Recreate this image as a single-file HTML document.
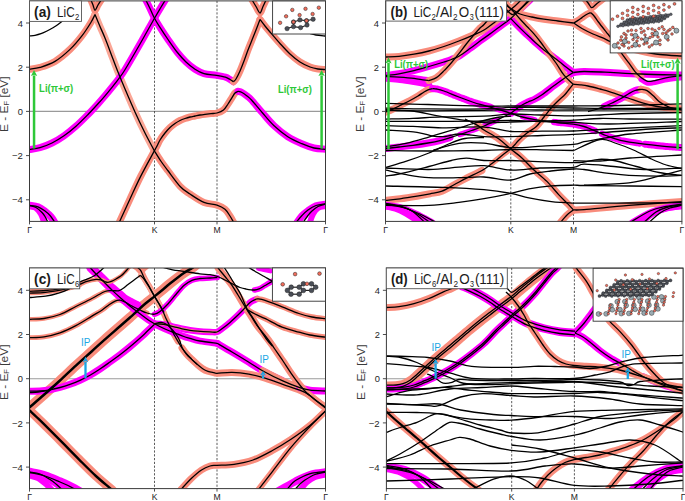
<!DOCTYPE html>
<html><head><meta charset="utf-8"><style>
html,body{margin:0;padding:0;background:#fff;}
svg{display:block;font-family:"Liberation Sans", sans-serif;}
</style></head><body>
<svg width="685" height="501" viewBox="0 0 685 501">
<rect width="685" height="501" fill="#fff"/>
<clipPath id="clipa"><rect x="29.50" y="0.90" width="296.00" height="220.50"/></clipPath>
<clipPath id="clipb"><rect x="385.50" y="0.90" width="296.40" height="220.50"/></clipPath>
<clipPath id="clipc"><rect x="29.50" y="268.00" width="296.00" height="220.60"/></clipPath>
<clipPath id="clipd"><rect x="386.40" y="268.00" width="296.60" height="220.60"/></clipPath>
<line x1="29.50" y1="111.40" x2="325.50" y2="111.40" stroke="#9a9a9a" stroke-width="1.1"/>
<line x1="154.50" y1="0.90" x2="154.50" y2="221.40" stroke="#333" stroke-width="0.8" stroke-dasharray="2.2,1.6"/>
<line x1="217.00" y1="0.90" x2="217.00" y2="221.40" stroke="#333" stroke-width="0.8" stroke-dasharray="2.2,1.6"/>
<g clip-path="url(#clipa)">
<path d="M27.50,69.54 C27.83,69.49 27.42,69.56 29.50,69.20 C31.58,68.84 35.75,68.70 40.00,67.40 C44.25,66.10 50.00,64.40 55.00,61.40 C60.00,58.40 65.52,53.65 70.00,49.40 C74.48,45.15 78.42,40.38 81.90,35.90 C85.38,31.42 88.72,26.07 90.90,22.50 C93.08,18.93 94.32,15.83 95.00,14.50" fill="none" stroke="#f98c7c" stroke-width="7.00" stroke-linecap="round" stroke-linejoin="round"/>
<path d="M95.00,14.50 C95.83,16.50 98.27,22.42 100.00,26.50 C101.73,30.58 103.23,33.58 105.40,39.00 C107.57,44.42 110.57,52.67 113.00,59.00 C115.43,65.33 116.33,68.17 120.00,77.00 C123.67,85.83 130.83,102.67 135.00,112.00 C139.17,121.33 141.75,126.50 145.00,133.00 C148.25,139.50 152.92,148.00 154.50,151.00" fill="none" stroke="#fba696" stroke-width="7.00" stroke-linecap="round" stroke-linejoin="round"/>
<path d="M154.50,151.00 C155.55,152.67 158.58,157.75 160.80,161.00 C163.02,164.25 164.53,166.22 167.80,170.50 C171.07,174.78 176.70,182.78 180.40,186.70 C184.10,190.62 186.07,191.38 190.00,194.00 C193.93,196.62 199.50,200.55 204.00,202.40 C208.50,204.25 213.50,203.95 217.00,205.10 C220.50,206.25 222.83,207.48 225.00,209.30 C227.17,211.12 228.50,213.72 230.00,216.00 C231.50,218.28 233.33,221.83 234.00,223.00" fill="none" stroke="#f98c7c" stroke-width="7.00" stroke-linecap="round" stroke-linejoin="round"/>
<path d="M119.40,222.00 C121.17,218.17 126.42,206.68 130.00,199.00 C133.58,191.32 136.82,183.97 140.90,175.90 C144.98,167.83 151.82,155.58 154.50,150.60 C157.18,145.62 156.08,147.77 157.00,146.00 C157.92,144.23 158.67,142.17 160.00,140.00 C161.33,137.83 163.33,135.08 165.00,133.00 C166.67,130.92 168.33,129.08 170.00,127.50 C171.67,125.92 173.33,124.67 175.00,123.50 C176.67,122.33 178.33,121.33 180.00,120.50 C181.67,119.67 183.33,119.08 185.00,118.50 C186.67,117.92 188.33,117.42 190.00,117.00 C191.67,116.58 193.33,116.33 195.00,116.00 C196.67,115.67 198.33,115.28 200.00,115.00 C201.67,114.72 203.17,114.53 205.00,114.30 C206.83,114.07 209.00,113.82 211.00,113.60 C213.00,113.38 214.92,113.60 217.00,113.00 C219.08,112.40 221.67,111.50 223.50,110.00 C225.33,108.50 226.58,106.07 228.00,104.00 C229.42,101.93 230.83,99.43 232.00,97.60 C233.17,95.77 234.00,94.05 235.00,93.00 C236.00,91.95 237.50,91.58 238.00,91.30" fill="none" stroke="#f98c7c" stroke-width="7.00" stroke-linecap="round" stroke-linejoin="round"/>
<path d="M238.00,91.30 C238.67,91.50 240.50,91.72 242.00,92.50 C243.50,93.28 245.42,94.75 247.00,96.00 C248.58,97.25 248.90,97.17 251.50,100.00 C254.10,102.83 258.88,108.75 262.60,113.00 C266.32,117.25 269.60,121.55 273.80,125.50 C278.00,129.45 283.13,133.67 287.80,136.70 C292.47,139.73 297.43,141.82 301.80,143.70 C306.17,145.58 310.05,147.07 314.00,148.00 C317.95,148.93 323.25,149.05 325.50,149.30 C327.75,149.55 327.17,149.49 327.50,149.53" fill="none" stroke="#ff00ff" stroke-width="7.00" stroke-linecap="round" stroke-linejoin="round"/>
<path d="M27.50,149.84 C27.83,149.79 27.42,149.86 29.50,149.50 C31.58,149.14 36.25,148.78 40.00,147.70 C43.75,146.62 48.00,144.98 52.00,143.00 C56.00,141.02 60.00,138.60 64.00,135.80 C68.00,133.00 72.00,129.75 76.00,126.20 C80.00,122.65 84.33,118.23 88.00,114.50 C91.67,110.77 95.17,106.92 98.00,103.80 C100.83,100.68 102.67,98.55 105.00,95.80 C107.33,93.05 109.67,90.22 112.00,87.30 C114.33,84.38 116.87,81.18 119.00,78.30 C121.13,75.42 121.30,75.72 124.80,70.00 C128.30,64.28 135.05,52.63 140.00,44.00 C144.95,35.37 151.08,24.20 154.50,18.20 C157.92,12.20 158.58,11.20 160.50,8.00 C162.42,4.80 165.08,0.50 166.00,-1.00" fill="none" stroke="#ff00ff" stroke-width="7.00" stroke-linecap="round" stroke-linejoin="round"/>
<path d="M145.30,-1.00 C146.08,0.58 148.47,5.30 150.00,8.50 C151.53,11.70 152.70,14.83 154.50,18.20 C156.30,21.57 158.55,25.15 160.80,28.70 C163.05,32.25 165.30,35.62 168.00,39.50 C170.70,43.38 174.00,48.25 177.00,52.00 C180.00,55.75 183.00,59.13 186.00,62.00 C189.00,64.87 192.00,67.27 195.00,69.20 C198.00,71.13 200.42,72.57 204.00,73.60 C207.58,74.63 212.93,74.80 216.50,75.40 C220.07,76.00 223.15,76.52 225.40,77.20 C227.65,77.88 228.65,78.75 230.00,79.50 C231.35,80.25 232.92,81.33 233.50,81.70" fill="none" stroke="#ff00ff" stroke-width="7.00" stroke-linecap="round" stroke-linejoin="round"/>
<path d="M233.50,81.70 C233.92,81.25 234.92,80.78 236.00,79.00 C237.08,77.22 238.67,74.00 240.00,71.00 C241.33,68.00 242.67,64.50 244.00,61.00 C245.33,57.50 246.67,53.50 248.00,50.00 C249.33,46.50 250.67,43.33 252.00,40.00 C253.33,36.67 254.67,33.42 256.00,30.00 C257.33,26.58 259.33,21.25 260.00,19.50" fill="none" stroke="#f98c7c" stroke-width="7.00" stroke-linecap="round" stroke-linejoin="round"/>
<path d="M260.00,19.50 C260.83,20.58 263.33,23.92 265.00,26.00 C266.67,28.08 267.50,29.08 270.00,32.00 C272.50,34.92 276.67,39.83 280.00,43.50 C283.33,47.17 286.67,50.92 290.00,54.00 C293.33,57.08 296.67,59.83 300.00,62.00 C303.33,64.17 307.00,65.83 310.00,67.00 C313.00,68.17 315.42,68.57 318.00,69.00 C320.58,69.43 323.92,69.47 325.50,69.60 C327.08,69.73 327.17,69.73 327.50,69.76" fill="none" stroke="#f98c7c" stroke-width="7.00" stroke-linecap="round" stroke-linejoin="round"/>
<path d="M90.50,-1.00 C90.92,0.00 92.25,3.10 93.00,5.00 C93.75,6.90 94.17,10.40 95.00,10.40 C95.83,10.40 96.87,6.90 98.00,5.00 C99.13,3.10 101.17,0.00 101.80,-1.00" fill="none" stroke="#f98c7c" stroke-width="7.00" stroke-linecap="round" stroke-linejoin="round"/>
<path d="M251.50,-1.00 C252.25,0.25 254.58,4.17 256.00,6.50 C257.42,8.83 258.83,13.00 260.00,13.00 C261.17,13.00 261.92,8.83 263.00,6.50 C264.08,4.17 265.92,0.25 266.50,-1.00" fill="none" stroke="#f98c7c" stroke-width="7.00" stroke-linecap="round" stroke-linejoin="round"/>
<path d="M27.50,205.15 C27.83,205.21 27.75,205.19 29.50,205.50 C31.25,205.81 35.42,206.00 38.00,207.00 C40.58,208.00 42.83,209.83 45.00,211.50 C47.17,213.17 49.33,215.08 51.00,217.00 C52.67,218.92 54.33,222.00 55.00,223.00" fill="none" stroke="#ff00ff" stroke-width="7.50" stroke-linecap="round" stroke-linejoin="round"/>
<path d="M27.50,205.38 C27.83,205.49 28.08,205.56 29.50,206.00 C30.92,206.44 34.08,206.67 36.00,208.00 C37.92,209.33 39.67,211.67 41.00,214.00 C42.33,216.33 43.50,220.67 44.00,222.00" fill="none" stroke="#ff00ff" stroke-width="6.00" stroke-linecap="round" stroke-linejoin="round"/>
<path d="M327.50,204.18 C327.17,204.24 327.42,204.20 325.50,204.50 C323.58,204.80 318.92,204.92 316.00,206.00 C313.08,207.08 310.33,209.33 308.00,211.00 C305.67,212.67 303.83,214.00 302.00,216.00 C300.17,218.00 297.83,221.83 297.00,223.00" fill="none" stroke="#ff00ff" stroke-width="7.50" stroke-linecap="round" stroke-linejoin="round"/>
<path d="M327.50,205.47 C327.17,205.56 327.08,205.58 325.50,206.00 C323.92,206.42 320.08,206.67 318.00,208.00 C315.92,209.33 314.33,211.67 313.00,214.00 C311.67,216.33 310.50,220.67 310.00,222.00" fill="none" stroke="#ff00ff" stroke-width="6.00" stroke-linecap="round" stroke-linejoin="round"/>
<path d="M27.50,69.54 C27.83,69.49 27.42,69.56 29.50,69.20 C31.58,68.84 35.75,68.70 40.00,67.40 C44.25,66.10 50.00,64.40 55.00,61.40 C60.00,58.40 65.52,53.65 70.00,49.40 C74.48,45.15 78.42,40.38 81.90,35.90 C85.38,31.42 88.72,26.07 90.90,22.50 C93.08,18.93 94.32,15.83 95.00,14.50" fill="none" stroke="#000" stroke-width="1.3" stroke-linejoin="round"/>
<path d="M95.00,14.50 C95.83,16.50 98.27,22.42 100.00,26.50 C101.73,30.58 103.23,33.58 105.40,39.00 C107.57,44.42 110.57,52.67 113.00,59.00 C115.43,65.33 116.33,68.17 120.00,77.00 C123.67,85.83 130.83,102.67 135.00,112.00 C139.17,121.33 141.75,126.50 145.00,133.00 C148.25,139.50 152.92,148.00 154.50,151.00" fill="none" stroke="#000" stroke-width="1.3" stroke-linejoin="round"/>
<path d="M154.50,151.00 C155.55,152.67 158.58,157.75 160.80,161.00 C163.02,164.25 164.53,166.22 167.80,170.50 C171.07,174.78 176.70,182.78 180.40,186.70 C184.10,190.62 186.07,191.38 190.00,194.00 C193.93,196.62 199.50,200.55 204.00,202.40 C208.50,204.25 213.50,203.95 217.00,205.10 C220.50,206.25 222.83,207.48 225.00,209.30 C227.17,211.12 228.50,213.72 230.00,216.00 C231.50,218.28 233.33,221.83 234.00,223.00" fill="none" stroke="#000" stroke-width="1.3" stroke-linejoin="round"/>
<path d="M119.40,222.00 C121.17,218.17 126.42,206.68 130.00,199.00 C133.58,191.32 136.82,183.97 140.90,175.90 C144.98,167.83 151.82,155.58 154.50,150.60 C157.18,145.62 156.08,147.77 157.00,146.00 C157.92,144.23 158.67,142.17 160.00,140.00 C161.33,137.83 163.33,135.08 165.00,133.00 C166.67,130.92 168.33,129.08 170.00,127.50 C171.67,125.92 173.33,124.67 175.00,123.50 C176.67,122.33 178.33,121.33 180.00,120.50 C181.67,119.67 183.33,119.08 185.00,118.50 C186.67,117.92 188.33,117.42 190.00,117.00 C191.67,116.58 193.33,116.33 195.00,116.00 C196.67,115.67 198.33,115.28 200.00,115.00 C201.67,114.72 203.17,114.53 205.00,114.30 C206.83,114.07 209.00,113.82 211.00,113.60 C213.00,113.38 214.92,113.60 217.00,113.00 C219.08,112.40 221.67,111.50 223.50,110.00 C225.33,108.50 226.58,106.07 228.00,104.00 C229.42,101.93 230.83,99.43 232.00,97.60 C233.17,95.77 234.00,94.05 235.00,93.00 C236.00,91.95 237.50,91.58 238.00,91.30" fill="none" stroke="#000" stroke-width="1.3" stroke-linejoin="round"/>
<path d="M238.00,91.30 C238.67,91.50 240.50,91.72 242.00,92.50 C243.50,93.28 245.42,94.75 247.00,96.00 C248.58,97.25 248.90,97.17 251.50,100.00 C254.10,102.83 258.88,108.75 262.60,113.00 C266.32,117.25 269.60,121.55 273.80,125.50 C278.00,129.45 283.13,133.67 287.80,136.70 C292.47,139.73 297.43,141.82 301.80,143.70 C306.17,145.58 310.05,147.07 314.00,148.00 C317.95,148.93 323.25,149.05 325.50,149.30 C327.75,149.55 327.17,149.49 327.50,149.53" fill="none" stroke="#000" stroke-width="1.3" stroke-linejoin="round"/>
<path d="M27.50,149.84 C27.83,149.79 27.42,149.86 29.50,149.50 C31.58,149.14 36.25,148.78 40.00,147.70 C43.75,146.62 48.00,144.98 52.00,143.00 C56.00,141.02 60.00,138.60 64.00,135.80 C68.00,133.00 72.00,129.75 76.00,126.20 C80.00,122.65 84.33,118.23 88.00,114.50 C91.67,110.77 95.17,106.92 98.00,103.80 C100.83,100.68 102.67,98.55 105.00,95.80 C107.33,93.05 109.67,90.22 112.00,87.30 C114.33,84.38 116.87,81.18 119.00,78.30 C121.13,75.42 121.30,75.72 124.80,70.00 C128.30,64.28 135.05,52.63 140.00,44.00 C144.95,35.37 151.08,24.20 154.50,18.20 C157.92,12.20 158.58,11.20 160.50,8.00 C162.42,4.80 165.08,0.50 166.00,-1.00" fill="none" stroke="#000" stroke-width="1.3" stroke-linejoin="round"/>
<path d="M145.30,-1.00 C146.08,0.58 148.47,5.30 150.00,8.50 C151.53,11.70 152.70,14.83 154.50,18.20 C156.30,21.57 158.55,25.15 160.80,28.70 C163.05,32.25 165.30,35.62 168.00,39.50 C170.70,43.38 174.00,48.25 177.00,52.00 C180.00,55.75 183.00,59.13 186.00,62.00 C189.00,64.87 192.00,67.27 195.00,69.20 C198.00,71.13 200.42,72.57 204.00,73.60 C207.58,74.63 212.93,74.80 216.50,75.40 C220.07,76.00 223.15,76.52 225.40,77.20 C227.65,77.88 228.65,78.75 230.00,79.50 C231.35,80.25 232.92,81.33 233.50,81.70" fill="none" stroke="#000" stroke-width="1.3" stroke-linejoin="round"/>
<path d="M233.50,81.70 C233.92,81.25 234.92,80.78 236.00,79.00 C237.08,77.22 238.67,74.00 240.00,71.00 C241.33,68.00 242.67,64.50 244.00,61.00 C245.33,57.50 246.67,53.50 248.00,50.00 C249.33,46.50 250.67,43.33 252.00,40.00 C253.33,36.67 254.67,33.42 256.00,30.00 C257.33,26.58 259.33,21.25 260.00,19.50" fill="none" stroke="#000" stroke-width="1.3" stroke-linejoin="round"/>
<path d="M260.00,19.50 C260.83,20.58 263.33,23.92 265.00,26.00 C266.67,28.08 267.50,29.08 270.00,32.00 C272.50,34.92 276.67,39.83 280.00,43.50 C283.33,47.17 286.67,50.92 290.00,54.00 C293.33,57.08 296.67,59.83 300.00,62.00 C303.33,64.17 307.00,65.83 310.00,67.00 C313.00,68.17 315.42,68.57 318.00,69.00 C320.58,69.43 323.92,69.47 325.50,69.60 C327.08,69.73 327.17,69.73 327.50,69.76" fill="none" stroke="#000" stroke-width="1.3" stroke-linejoin="round"/>
<path d="M90.50,-1.00 C90.92,0.00 92.25,3.10 93.00,5.00 C93.75,6.90 94.17,10.40 95.00,10.40 C95.83,10.40 96.87,6.90 98.00,5.00 C99.13,3.10 101.17,0.00 101.80,-1.00" fill="none" stroke="#000" stroke-width="1.3" stroke-linejoin="round"/>
<path d="M251.50,-1.00 C252.25,0.25 254.58,4.17 256.00,6.50 C257.42,8.83 258.83,13.00 260.00,13.00 C261.17,13.00 261.92,8.83 263.00,6.50 C264.08,4.17 265.92,0.25 266.50,-1.00" fill="none" stroke="#000" stroke-width="1.3" stroke-linejoin="round"/>
<path d="M27.50,36.12 C27.83,36.08 28.25,36.04 29.50,35.90 C30.75,35.76 33.08,35.67 35.00,35.30 C36.92,34.93 39.00,34.42 41.00,33.70 C43.00,32.98 45.00,32.00 47.00,31.00 C49.00,30.00 51.17,28.78 53.00,27.70 C54.83,26.62 56.33,25.70 58.00,24.50 C59.67,23.30 61.33,21.92 63.00,20.50 C64.67,19.08 67.17,16.75 68.00,16.00" fill="none" stroke="#000" stroke-width="1.3" stroke-linejoin="round"/>
<path d="M300.00,30.00 C301.67,30.58 307.33,32.67 310.00,33.50 C312.67,34.33 313.42,34.58 316.00,35.00 C318.58,35.42 323.58,35.80 325.50,36.00 C327.42,36.20 327.17,36.18 327.50,36.21" fill="none" stroke="#000" stroke-width="1.3" stroke-linejoin="round"/>
<path d="M27.50,204.95 C27.83,205.01 27.75,204.99 29.50,205.30 C31.25,205.61 35.42,205.85 38.00,206.80 C40.58,207.75 43.00,209.55 45.00,211.00 C47.00,212.45 48.33,213.58 50.00,215.50 C51.67,217.42 54.17,221.33 55.00,222.50" fill="none" stroke="#000" stroke-width="1.3" stroke-linejoin="round"/>
<path d="M27.50,205.02 C27.83,205.11 28.08,205.19 29.50,205.60 C30.92,206.01 33.92,206.35 36.00,207.50 C38.08,208.65 40.50,211.00 42.00,212.50 C43.50,214.00 44.00,214.83 45.00,216.50 C46.00,218.17 47.50,221.50 48.00,222.50" fill="none" stroke="#000" stroke-width="1.3" stroke-linejoin="round"/>
<path d="M327.50,203.32 C327.17,203.38 327.42,203.34 325.50,203.70 C323.58,204.06 318.92,204.45 316.00,205.50 C313.08,206.55 310.33,208.33 308.00,210.00 C305.67,211.67 304.00,213.42 302.00,215.50 C300.00,217.58 297.00,221.33 296.00,222.50" fill="none" stroke="#000" stroke-width="1.3" stroke-linejoin="round"/>
<path d="M327.50,203.33 C327.17,203.44 327.08,203.47 325.50,204.00 C323.92,204.53 320.25,205.33 318.00,206.50 C315.75,207.67 313.67,209.50 312.00,211.00 C310.33,212.50 309.50,213.58 308.00,215.50 C306.50,217.42 303.83,221.33 303.00,222.50" fill="none" stroke="#000" stroke-width="1.3" stroke-linejoin="round"/>
</g>
<rect x="29.50" y="0.90" width="296.00" height="220.50" fill="none" stroke="#3a3a3a" stroke-width="1.0"/>
<line x1="26.00" y1="23.00" x2="29.50" y2="23.00" stroke="#3a3a3a" stroke-width="0.9"/>
<text x="22.90" y="26.60" font-size="9.3" text-anchor="end" fill="#262626">4</text>
<line x1="26.00" y1="67.20" x2="29.50" y2="67.20" stroke="#3a3a3a" stroke-width="0.9"/>
<text x="22.90" y="70.80" font-size="9.3" text-anchor="end" fill="#262626">2</text>
<line x1="26.00" y1="111.40" x2="29.50" y2="111.40" stroke="#3a3a3a" stroke-width="0.9"/>
<text x="22.90" y="115.00" font-size="9.3" text-anchor="end" fill="#262626">0</text>
<line x1="26.00" y1="155.60" x2="29.50" y2="155.60" stroke="#3a3a3a" stroke-width="0.9"/>
<text x="11.90" y="159.20" font-size="9.3" fill="#262626" textLength="10.9" lengthAdjust="spacingAndGlyphs">−2</text>
<line x1="26.00" y1="199.80" x2="29.50" y2="199.80" stroke="#3a3a3a" stroke-width="0.9"/>
<text x="11.90" y="203.40" font-size="9.3" fill="#262626" textLength="10.9" lengthAdjust="spacingAndGlyphs">−4</text>
<line x1="29.50" y1="221.40" x2="29.50" y2="224.40" stroke="#3a3a3a" stroke-width="0.9"/>
<text x="29.50" y="233.10" font-size="8.6" text-anchor="middle" fill="#222">Γ</text>
<line x1="154.50" y1="221.40" x2="154.50" y2="224.40" stroke="#3a3a3a" stroke-width="0.9"/>
<text x="154.50" y="233.10" font-size="8.6" text-anchor="middle" fill="#222">K</text>
<line x1="217.00" y1="221.40" x2="217.00" y2="224.40" stroke="#3a3a3a" stroke-width="0.9"/>
<text x="217.00" y="233.10" font-size="8.6" text-anchor="middle" fill="#222">M</text>
<line x1="325.50" y1="221.40" x2="325.50" y2="224.40" stroke="#3a3a3a" stroke-width="0.9"/>
<text x="325.50" y="233.10" font-size="8.6" text-anchor="middle" fill="#222">Γ</text>
<text transform="translate(7.60,104.20) rotate(-90)" font-size="10.2" text-anchor="middle" fill="#3a3a3a" textLength="55.5" lengthAdjust="spacingAndGlyphs">E - E<tspan font-size="6.5" dy="1.8">F</tspan><tspan dy="-1.8">  [eV]</tspan></text>
<rect x="29.50" y="0.90" width="52.00" height="20.50" fill="#fff" stroke="#555" stroke-width="0.9"/><text x="34.10" y="16.80" font-size="14.60" fill="#1a1a1a" font-weight="bold" textLength="16.80" lengthAdjust="spacingAndGlyphs">(a)</text><text x="57.10" y="16.80" font-size="14.60" fill="#1a1a1a" textLength="17.60" lengthAdjust="spacingAndGlyphs">LiC</text><text x="75.10" y="19.60" font-size="9.20" fill="#1a1a1a" textLength="4.30" lengthAdjust="spacingAndGlyphs">2</text>
<rect x="272.60" y="1.00" width="52.90" height="33.00" fill="#fff" stroke="#333" stroke-width="0.9"/><line x1="287.10" y1="28.60" x2="293.50" y2="26.60" stroke="#222" stroke-width="1.10"/><line x1="293.50" y1="26.60" x2="293.50" y2="22.00" stroke="#222" stroke-width="1.10"/><line x1="293.50" y1="22.00" x2="299.90" y2="19.90" stroke="#222" stroke-width="1.10"/><line x1="299.90" y1="19.90" x2="306.50" y2="20.70" stroke="#222" stroke-width="1.10"/><line x1="306.50" y1="20.70" x2="307.00" y2="25.00" stroke="#222" stroke-width="1.10"/><line x1="307.00" y1="25.00" x2="300.60" y2="27.60" stroke="#222" stroke-width="1.10"/><line x1="300.60" y1="27.60" x2="293.50" y2="26.60" stroke="#222" stroke-width="1.10"/><line x1="306.50" y1="20.70" x2="313.10" y2="19.20" stroke="#222" stroke-width="1.10"/><circle cx="287.10" cy="28.60" r="2.20" fill="#4a4e57" stroke="#222" stroke-width="0.50"/><circle cx="293.50" cy="26.60" r="2.20" fill="#4a4e57" stroke="#222" stroke-width="0.50"/><circle cx="300.60" cy="27.60" r="2.20" fill="#4a4e57" stroke="#222" stroke-width="0.50"/><circle cx="307.00" cy="25.00" r="2.20" fill="#4a4e57" stroke="#222" stroke-width="0.50"/><circle cx="299.90" cy="19.90" r="2.20" fill="#4a4e57" stroke="#222" stroke-width="0.50"/><circle cx="313.10" cy="19.20" r="2.20" fill="#4a4e57" stroke="#222" stroke-width="0.50"/><circle cx="293.50" cy="22.00" r="2.20" fill="#4a4e57" stroke="#222" stroke-width="0.50"/><circle cx="306.50" cy="20.70" r="2.20" fill="#4a4e57" stroke="#222" stroke-width="0.50"/><circle cx="292.30" cy="9.90" r="1.75" fill="#f26d5b" stroke="#222" stroke-width="0.50"/><circle cx="305.50" cy="8.80" r="1.75" fill="#f26d5b" stroke="#222" stroke-width="0.50"/><circle cx="318.80" cy="7.70" r="1.75" fill="#f26d5b" stroke="#222" stroke-width="0.50"/><circle cx="286.10" cy="16.30" r="1.75" fill="#f26d5b" stroke="#222" stroke-width="0.50"/><circle cx="299.60" cy="15.10" r="1.75" fill="#f26d5b" stroke="#222" stroke-width="0.50"/><circle cx="312.60" cy="14.00" r="1.75" fill="#f26d5b" stroke="#222" stroke-width="0.50"/><circle cx="280.10" cy="22.80" r="1.75" fill="#f26d5b" stroke="#222" stroke-width="0.50"/><circle cx="293.50" cy="22.00" r="1.75" fill="#f26d5b" stroke="#222" stroke-width="0.50"/><circle cx="306.50" cy="20.70" r="1.75" fill="#f26d5b" stroke="#222" stroke-width="0.50"/>
<line x1="385.50" y1="111.40" x2="681.90" y2="111.40" stroke="#9a9a9a" stroke-width="1.1"/>
<line x1="510.80" y1="0.90" x2="510.80" y2="221.40" stroke="#333" stroke-width="0.8" stroke-dasharray="2.2,1.6"/>
<line x1="573.50" y1="0.90" x2="573.50" y2="221.40" stroke="#333" stroke-width="0.8" stroke-dasharray="2.2,1.6"/>
<g clip-path="url(#clipb)">
<path d="M383.50,57.12 C383.92,57.10 383.42,57.12 386.00,57.00 C388.58,56.88 394.33,56.87 399.00,56.40 C403.67,55.93 409.02,55.10 414.00,54.20 C418.98,53.30 423.92,52.28 428.90,51.00 C433.88,49.72 438.90,48.17 443.90,46.50 C448.90,44.83 453.92,42.95 458.90,41.00 C463.88,39.05 469.62,36.63 473.80,34.80 C477.98,32.97 480.47,32.13 484.00,30.00 C487.53,27.87 491.50,24.67 495.00,22.00 C498.50,19.33 501.67,16.67 505.00,14.00 C508.33,11.33 512.17,8.50 515.00,6.00 C517.83,3.50 520.83,0.17 522.00,-1.00" fill="none" stroke="#f98c7c" stroke-width="7.00" stroke-linecap="round" stroke-linejoin="round"/>
<path d="M383.50,75.83 C383.92,75.77 383.42,75.84 386.00,75.50 C388.58,75.16 394.33,74.62 399.00,73.80 C403.67,72.98 409.02,71.82 414.00,70.60 C418.98,69.38 423.92,67.93 428.90,66.50 C433.88,65.07 440.15,63.17 443.90,62.00 C447.65,60.83 448.90,60.47 451.40,59.50 C453.90,58.53 455.80,58.03 458.90,56.20 C462.00,54.37 466.48,51.03 470.00,48.50 C473.52,45.97 476.67,43.43 480.00,41.00 C483.33,38.57 486.67,36.32 490.00,33.90 C493.33,31.48 496.55,29.07 500.00,26.50 C503.45,23.93 507.37,21.33 510.70,18.50 C514.03,15.67 516.78,12.58 520.00,9.50 C523.22,6.42 528.33,1.58 530.00,0.00" fill="none" stroke="#ff00ff" stroke-width="7.00" stroke-linecap="round" stroke-linejoin="round"/>
<path d="M383.50,78.27 C383.92,78.31 383.25,78.24 386.00,78.50 C388.75,78.76 395.33,79.25 400.00,79.80 C404.67,80.35 410.00,81.18 414.00,81.80 C418.00,82.42 421.50,83.05 424.00,83.50 C426.50,83.95 428.17,84.33 429.00,84.50" fill="none" stroke="#ff00ff" stroke-width="6.50" stroke-linecap="round" stroke-linejoin="round"/>
<path d="M383.50,76.48 C383.92,76.50 383.42,76.48 386.00,76.60 C388.58,76.72 394.33,76.90 399.00,77.20 C403.67,77.50 410.02,77.95 414.00,78.40 C417.98,78.85 420.42,79.53 422.90,79.90 C425.38,80.27 427.90,80.48 428.90,80.60" fill="none" stroke="#ff00ff" stroke-width="7.00" stroke-linecap="round" stroke-linejoin="round"/>
<path d="M428.90,80.60 C430.15,80.10 433.90,79.22 436.40,77.60 C438.90,75.98 441.40,73.38 443.90,70.90 C446.40,68.42 448.90,65.57 451.40,62.70 C453.90,59.83 456.42,56.82 458.90,53.70 C461.38,50.58 463.82,47.12 466.30,44.00 C468.78,40.88 471.52,37.67 473.80,35.00 C476.08,32.33 478.30,29.75 480.00,28.00 C481.70,26.25 482.00,26.67 484.00,24.50 C486.00,22.33 489.33,18.08 492.00,15.00 C494.67,11.92 497.83,8.50 500.00,6.00 C502.17,3.50 504.17,1.00 505.00,0.00" fill="none" stroke="#f98c7c" stroke-width="7.00" stroke-linecap="round" stroke-linejoin="round"/>
<path d="M383.50,113.04 C383.92,112.87 384.58,112.59 386.00,112.00 C387.42,111.41 389.67,110.58 392.00,109.50 C394.33,108.42 397.00,107.00 400.00,105.50 C403.00,104.00 407.00,102.08 410.00,100.50 C413.00,98.92 415.67,97.42 418.00,96.00 C420.33,94.58 422.33,93.03 424.00,92.00 C425.67,90.97 426.58,90.37 428.00,89.80 C429.42,89.23 431.75,88.80 432.50,88.60" fill="none" stroke="#f98c7c" stroke-width="7.00" stroke-linecap="round" stroke-linejoin="round"/>
<path d="M432.50,88.60 C432.59,88.61 432.88,88.63 433.06,88.65 C433.25,88.67 433.44,88.68 433.62,88.70 C433.81,88.72 434.00,88.73 434.19,88.75 C434.38,88.77 434.56,88.78 434.75,88.80 C434.94,88.82 435.12,88.83 435.31,88.85 C435.50,88.87 435.69,88.88 435.88,88.90 C436.06,88.92 436.25,88.93 436.44,88.95 C436.62,88.97 436.76,88.95 437.00,89.00 C437.24,89.05 437.57,89.17 437.86,89.25 C438.15,89.33 438.44,89.42 438.73,89.50 C439.01,89.58 439.30,89.67 439.59,89.75 C439.88,89.83 440.16,89.92 440.45,90.00 C440.74,90.08 441.02,90.17 441.31,90.25 C441.60,90.33 441.89,90.42 442.17,90.50 C442.46,90.58 442.75,90.67 443.04,90.75 C443.32,90.83 443.44,90.83 443.90,91.00 C444.36,91.17 445.15,91.50 445.77,91.75 C446.40,92.00 447.02,92.25 447.65,92.50 C448.27,92.75 448.90,93.00 449.52,93.25 C450.15,93.50 450.77,93.75 451.40,94.00 C452.02,94.25 452.65,94.50 453.27,94.75 C453.90,95.00 454.52,95.25 455.15,95.50 C455.77,95.75 456.40,96.00 457.02,96.25 C457.65,96.50 458.28,96.76 458.90,97.00 C459.52,97.24 460.14,97.46 460.76,97.69 C461.38,97.92 462.00,98.15 462.62,98.38 C463.25,98.60 463.87,98.83 464.49,99.06 C465.11,99.29 465.73,99.52 466.35,99.75 C466.97,99.98 467.59,100.21 468.21,100.44 C468.83,100.67 469.45,100.90 470.07,101.12 C470.70,101.35 471.32,101.58 471.94,101.81 C472.56,102.04 473.28,102.33 473.80,102.50 C474.32,102.67 474.65,102.74 475.07,102.86 C475.50,102.98 475.93,103.10 476.35,103.22 C476.78,103.35 477.20,103.47 477.62,103.59 C478.05,103.71 478.47,103.83 478.90,103.95 C479.32,104.07 479.75,104.19 480.18,104.31 C480.60,104.43 481.02,104.55 481.45,104.68 C481.88,104.80 482.30,104.92 482.73,105.04 C483.15,105.16 483.48,105.25 484.00,105.40 C484.52,105.55 485.22,105.75 485.82,105.93 C486.43,106.10 487.04,106.28 487.65,106.45 C488.26,106.62 488.87,106.80 489.48,106.97 C490.08,107.15 491.00,107.41 491.30,107.50" fill="none" stroke="#ff00ff" stroke-width="7.00" stroke-linecap="round" stroke-linejoin="round"/>
<path d="M496.78,109.07 C497.08,109.16 498.04,109.44 498.60,109.60 C499.16,109.76 499.61,109.90 500.11,110.05 C500.62,110.20 501.12,110.35 501.62,110.50 C502.13,110.65 502.63,110.80 503.14,110.95 C503.64,111.10 504.15,111.25 504.65,111.40 C505.15,111.55 505.66,111.70 506.16,111.85 C506.67,112.00 507.17,112.15 507.68,112.30 C508.18,112.45 508.68,112.60 509.19,112.75 C509.69,112.90 510.24,113.06 510.70,113.20 C511.16,113.34 511.72,113.54 511.93,113.61" fill="none" stroke="#ff00ff" stroke-width="5.50" stroke-linecap="round" stroke-linejoin="round"/>
<path d="M522.31,116.89 C522.61,116.95 523.52,117.15 524.12,117.28 C524.73,117.40 525.33,117.53 525.94,117.66 C526.54,117.79 527.15,117.92 527.75,118.05 C528.35,118.18 528.96,118.31 529.56,118.44 C530.17,118.57 530.77,118.70 531.38,118.82 C531.98,118.95 532.58,119.08 533.19,119.21 C533.79,119.34 534.70,119.54 535.00,119.60" fill="none" stroke="#ff00ff" stroke-width="5.00" stroke-linecap="round" stroke-linejoin="round"/>
<path d="M554.25,122.14 C554.71,122.20 556.20,122.40 557.00,122.50 C557.80,122.60 558.36,122.64 559.04,122.71 C559.72,122.78 560.40,122.85 561.08,122.92 C561.75,123.00 562.43,123.07 563.11,123.14 C563.79,123.21 564.47,123.28 565.15,123.35 C565.83,123.42 566.51,123.49 567.19,123.56 C567.87,123.63 568.55,123.70 569.22,123.78 C569.90,123.85 570.58,123.92 571.26,123.99 C571.94,124.06 572.74,124.12 573.30,124.20 C573.86,124.28 574.41,124.44 574.64,124.49" fill="none" stroke="#ff00ff" stroke-width="6.50" stroke-linecap="round" stroke-linejoin="round"/>
<path d="M577.31,125.06 C577.54,125.11 578.20,125.25 578.65,125.35 C579.10,125.45 579.54,125.54 579.99,125.64 C580.43,125.73 580.88,125.83 581.33,125.92 C581.77,126.02 582.22,126.12 582.66,126.21 C583.11,126.31 583.62,126.39 584.00,126.50 C584.38,126.61 584.61,126.73 584.91,126.85 C585.22,126.97 585.52,127.08 585.83,127.20 C586.13,127.32 586.43,127.43 586.74,127.55 C587.04,127.67 587.35,127.78 587.65,127.90 C587.95,128.02 588.26,128.13 588.56,128.25 C588.87,128.37 589.17,128.48 589.47,128.60 C589.78,128.72 590.08,128.83 590.39,128.95 C590.69,129.07 590.84,129.11 591.30,129.30 C591.76,129.49 592.52,129.82 593.12,130.08 C593.73,130.33 594.65,130.72 594.95,130.85" fill="none" stroke="#ff00ff" stroke-width="6.50" stroke-linecap="round" stroke-linejoin="round"/>
<path d="M602.25,133.95 C602.55,134.08 603.47,134.47 604.07,134.72 C604.68,134.98 605.29,135.27 605.90,135.50 C606.51,135.73 607.12,135.90 607.73,136.10 C608.33,136.30 608.94,136.50 609.55,136.70 C610.16,136.90 610.77,137.10 611.38,137.30 C611.98,137.50 612.59,137.70 613.20,137.90 C613.81,138.10 614.42,138.30 615.02,138.50 C615.63,138.70 616.24,138.90 616.85,139.10 C617.46,139.30 618.07,139.50 618.67,139.70 C619.28,139.90 619.74,140.12 620.50,140.30 C621.26,140.48 622.32,140.60 623.24,140.75 C624.15,140.90 625.06,141.05 625.98,141.20 C626.89,141.35 627.80,141.50 628.71,141.65 C629.62,141.80 630.54,141.95 631.45,142.10 C632.36,142.25 633.27,142.40 634.19,142.55 C635.10,142.70 636.01,142.85 636.92,143.00 C637.84,143.15 639.21,143.38 639.66,143.45" fill="none" stroke="#ff00ff" stroke-width="6.50" stroke-linecap="round" stroke-linejoin="round"/>
<path d="M645.14,144.20 C645.59,144.25 646.96,144.40 647.88,144.50 C648.79,144.60 649.70,144.70 650.61,144.80 C651.52,144.90 652.44,145.00 653.35,145.10 C654.26,145.20 655.17,145.30 656.09,145.40 C657.00,145.50 657.91,145.60 658.82,145.70 C659.74,145.80 660.65,145.90 661.56,146.00 C662.48,146.10 663.49,146.22 664.30,146.30 C665.11,146.38 665.73,146.41 666.45,146.46 C667.17,146.52 667.88,146.57 668.60,146.62 C669.32,146.68 670.03,146.73 670.75,146.79 C671.47,146.84 672.18,146.90 672.90,146.95 C673.62,147.00 674.33,147.06 675.05,147.11 C675.77,147.17 676.48,147.22 677.20,147.28 C677.92,147.33 678.63,147.38 679.35,147.44 C680.07,147.49 680.74,147.54 681.50,147.60 C682.26,147.66 683.50,147.75 683.90,147.78" fill="none" stroke="#ff00ff" stroke-width="7.00" stroke-linecap="round" stroke-linejoin="round"/>
<path d="M383.50,148.79 C383.92,148.74 383.42,148.80 386.00,148.50 C388.58,148.20 394.50,147.53 399.00,147.00 C403.50,146.47 408.17,145.97 413.00,145.30 C417.83,144.63 423.50,143.78 428.00,143.00 C432.50,142.22 436.33,141.50 440.00,140.60 C443.67,139.70 448.33,138.10 450.00,137.60" fill="none" stroke="#ff00ff" stroke-width="7.00" stroke-linecap="round" stroke-linejoin="round"/>
<path d="M460.00,134.50 C461.93,133.83 467.60,131.92 471.60,130.50 C475.60,129.08 479.77,127.75 484.00,126.00 C488.23,124.25 494.83,121.00 497.00,120.00" fill="none" stroke="#ff00ff" stroke-width="5.50" stroke-linecap="round" stroke-linejoin="round"/>
<path d="M510.70,113.20 C512.33,112.00 517.62,107.87 520.50,106.00 C523.38,104.13 525.75,103.08 528.00,102.00 C530.25,100.92 531.60,100.75 534.00,99.50 C536.40,98.25 539.08,96.78 542.40,94.50 C545.72,92.22 550.47,88.35 553.90,85.80 C557.33,83.25 559.77,81.42 563.00,79.20 C566.23,76.98 571.58,73.62 573.30,72.50" fill="none" stroke="#ff00ff" stroke-width="7.00" stroke-linecap="round" stroke-linejoin="round"/>
<path d="M573.30,72.50 C575.08,72.33 578.72,71.55 584.00,71.50 C589.28,71.45 595.50,71.78 605.00,72.20 C614.50,72.62 628.23,73.52 641.00,74.00 C653.77,74.48 674.45,74.91 681.60,75.10 C688.75,75.29 683.52,75.15 683.90,75.16" fill="none" stroke="#ff00ff" stroke-width="7.00" stroke-linecap="round" stroke-linejoin="round"/>
<path d="M510.70,18.50 C511.75,19.58 514.78,22.77 517.00,25.00 C519.22,27.23 521.83,29.82 524.00,31.90 C526.17,33.98 527.83,35.48 530.00,37.50 C532.17,39.52 534.68,41.93 537.00,44.00 C539.32,46.07 541.40,47.90 543.90,49.90 C546.40,51.90 549.35,53.98 552.00,56.00 C554.65,58.02 557.47,60.17 559.80,62.00 C562.13,63.83 563.75,65.25 566.00,67.00 C568.25,68.75 572.08,71.58 573.30,72.50" fill="none" stroke="#ff00ff" stroke-width="7.00" stroke-linecap="round" stroke-linejoin="round"/>
<path d="M503.00,0.00 C503.83,1.00 506.17,4.00 508.00,6.00 C509.83,8.00 512.00,9.83 514.00,12.00 C516.00,14.17 517.83,16.58 520.00,19.00 C522.17,21.42 524.67,24.02 527.00,26.50 C529.33,28.98 531.75,31.32 534.00,33.90 C536.25,36.48 538.30,39.12 540.50,42.00 C542.70,44.88 544.62,47.70 547.20,51.20 C549.78,54.70 553.20,59.00 556.00,63.00 C558.80,67.00 561.27,71.77 564.00,75.20 C566.73,78.63 570.85,82.10 572.40,83.60 C573.95,85.10 573.15,84.10 573.30,84.20" fill="none" stroke="#f98c7c" stroke-width="7.00" stroke-linecap="round" stroke-linejoin="round"/>
<path d="M573.30,84.20 C574.42,84.30 577.55,84.50 580.00,84.80 C582.45,85.10 584.67,85.30 588.00,86.00 C591.33,86.70 596.33,88.03 600.00,89.00 C603.67,89.97 605.33,90.30 610.00,91.80 C614.67,93.30 621.33,95.80 628.00,98.00 C634.67,100.20 643.83,103.42 650.00,105.00 C656.17,106.58 659.75,106.87 665.00,107.50 C670.25,108.13 678.35,108.55 681.50,108.80 C684.65,109.05 683.50,108.96 683.90,108.99" fill="none" stroke="#f98c7c" stroke-width="7.00" stroke-linecap="round" stroke-linejoin="round"/>
<path d="M510.70,149.00 C511.42,148.25 513.62,146.00 515.00,144.50 C516.38,143.00 517.00,141.92 519.00,140.00 C521.00,138.08 524.10,135.25 527.00,133.00 C529.90,130.75 533.57,129.17 536.40,126.50 C539.23,123.83 541.47,120.17 544.00,117.00 C546.53,113.83 549.27,110.17 551.60,107.50 C553.93,104.83 555.77,103.17 558.00,101.00 C560.23,98.83 563.17,96.42 565.00,94.50 C566.83,92.58 567.62,91.22 569.00,89.50 C570.38,87.78 572.58,85.08 573.30,84.20" fill="none" stroke="#f98c7c" stroke-width="7.00" stroke-linecap="round" stroke-linejoin="round"/>
<path d="M604.40,106.40 C605.67,105.83 609.32,104.27 612.00,103.00 C614.68,101.73 617.67,100.38 620.50,98.80 C623.33,97.22 626.58,94.88 629.00,93.50 C631.42,92.12 633.00,91.20 635.00,90.50 C637.00,89.80 640.00,89.50 641.00,89.30" fill="none" stroke="#ff00ff" stroke-width="7.00" stroke-linecap="round" stroke-linejoin="round"/>
<path d="M641.00,89.30 C642.00,89.53 645.00,89.67 647.00,90.70 C649.00,91.73 651.00,93.70 653.00,95.50 C655.00,97.30 657.02,99.90 659.00,101.50 C660.98,103.10 662.73,103.98 664.90,105.10 C667.07,106.22 669.23,107.38 672.00,108.20 C674.77,109.02 679.52,109.62 681.50,110.00 C683.48,110.38 683.50,110.38 683.90,110.45" fill="none" stroke="#f98c7c" stroke-width="7.00" stroke-linecap="round" stroke-linejoin="round"/>
<path d="M573.70,23.00 C574.42,22.57 576.62,21.30 578.00,20.40 C579.38,19.50 580.58,18.58 582.00,17.60 C583.42,16.62 585.05,15.33 586.50,14.50 C587.95,13.67 590.00,12.92 590.70,12.60" fill="none" stroke="#f98c7c" stroke-width="7.00" stroke-linecap="round" stroke-linejoin="round"/>
<path d="M590.70,12.60 C591.33,13.25 593.22,14.93 594.50,16.50 C595.78,18.07 596.47,19.45 598.40,22.00 C600.33,24.55 604.08,29.25 606.10,31.80 C608.12,34.35 609.02,35.27 610.50,37.30 C611.98,39.33 613.12,41.28 615.00,44.00 C616.88,46.72 619.47,50.40 621.80,53.60 C624.13,56.80 626.80,60.20 629.00,63.20 C631.20,66.20 633.00,69.22 635.00,71.60 C637.00,73.98 640.00,76.52 641.00,77.50" fill="none" stroke="#f98c7c" stroke-width="7.00" stroke-linecap="round" stroke-linejoin="round"/>
<path d="M641.00,79.50 C642.00,80.10 645.00,82.53 647.00,83.10 C649.00,83.67 650.02,83.40 653.00,82.90 C655.98,82.40 660.13,80.97 664.90,80.10 C669.67,79.23 678.43,78.16 681.60,77.70 C684.77,77.24 683.52,77.42 683.90,77.37" fill="none" stroke="#ff00ff" stroke-width="5.00" stroke-linecap="round" stroke-linejoin="round"/>
<path d="M573.70,23.00 C575.08,23.92 578.78,26.67 582.00,28.50 C585.22,30.33 589.33,32.35 593.00,34.00 C596.67,35.65 601.08,37.12 604.00,38.40 C606.92,39.68 607.00,40.35 610.50,41.70 C614.00,43.05 619.92,44.95 625.00,46.50 C630.08,48.05 635.17,49.67 641.00,51.00 C646.83,52.33 653.23,53.67 660.00,54.50 C666.77,55.33 677.62,55.72 681.60,56.00 C685.58,56.28 683.52,56.13 683.90,56.16" fill="none" stroke="#f98c7c" stroke-width="7.00" stroke-linecap="round" stroke-linejoin="round"/>
<path d="M585.00,-1.00 C585.58,-0.25 587.37,2.05 588.50,3.50 C589.63,4.95 590.38,7.70 591.80,7.70 C593.22,7.70 595.17,4.95 597.00,3.50 C598.83,2.05 601.83,-0.25 602.80,-1.00" fill="none" stroke="#f98c7c" stroke-width="7.00" stroke-linecap="round" stroke-linejoin="round"/>
<path d="M507.00,6.00 C508.17,6.75 511.83,9.17 514.00,10.50 C516.17,11.83 517.00,12.92 520.00,14.00 C523.00,15.08 528.02,16.13 532.00,17.00 C535.98,17.87 539.57,18.53 543.90,19.20 C548.23,19.87 553.03,20.37 558.00,21.00 C562.97,21.63 571.08,22.67 573.70,23.00" fill="none" stroke="#f98c7c" stroke-width="7.00" stroke-linecap="round" stroke-linejoin="round"/>
<path d="M497.00,-1.00 C498.33,0.50 502.50,5.42 505.00,8.00 C507.50,10.58 509.83,14.00 512.00,14.50 C514.17,15.00 515.67,12.92 518.00,11.00 C520.33,9.08 524.17,5.00 526.00,3.00 C527.83,1.00 528.50,-0.33 529.00,-1.00" fill="none" stroke="#f98c7c" stroke-width="7.00" stroke-linecap="round" stroke-linejoin="round"/>
<path d="M383.50,200.57 C383.92,200.52 383.25,200.59 386.00,200.30 C388.75,200.01 394.83,199.48 400.00,198.80 C405.17,198.12 412.00,197.03 417.00,196.20 C422.00,195.37 425.83,194.63 430.00,193.80 C434.17,192.97 437.92,192.75 442.00,191.20 C446.08,189.65 450.33,186.73 454.50,184.50 C458.67,182.27 462.42,180.13 467.00,177.80 C471.58,175.47 479.50,171.72 482.00,170.50" fill="none" stroke="#f98c7c" stroke-width="7.00" stroke-linecap="round" stroke-linejoin="round"/>
<path d="M492.00,163.50 C493.67,162.17 498.88,157.92 502.00,155.50 C505.12,153.08 509.25,150.08 510.70,149.00" fill="none" stroke="#f98c7c" stroke-width="5.50" stroke-linecap="round" stroke-linejoin="round"/>
<path d="M478.00,125.60 C479.00,126.33 480.57,127.80 484.00,130.00 C487.43,132.20 494.15,135.63 498.60,138.80 C503.05,141.97 506.90,145.88 510.70,149.00 C514.50,152.12 517.62,154.08 521.40,157.50 C525.18,160.92 529.15,165.52 533.40,169.50 C537.65,173.48 542.65,177.17 546.90,181.40 C551.15,185.63 555.42,191.15 558.90,194.90 C562.38,198.65 565.37,201.40 567.80,203.90 C570.23,206.40 572.55,208.90 573.50,209.90" fill="none" stroke="#f98c7c" stroke-width="7.00" stroke-linecap="round" stroke-linejoin="round"/>
<path d="M573.50,209.90 C575.25,209.85 574.77,210.35 584.00,209.60 C593.23,208.85 612.57,206.73 628.90,205.40 C645.23,204.07 672.83,202.26 682.00,201.60 C691.17,200.94 683.58,201.49 683.90,201.46" fill="none" stroke="#f98c7c" stroke-width="7.00" stroke-linecap="round" stroke-linejoin="round"/>
<path d="M560.00,223.00 C561.17,221.67 564.75,217.18 567.00,215.00 C569.25,212.82 572.42,210.75 573.50,209.90" fill="none" stroke="#f98c7c" stroke-width="7.00" stroke-linecap="round" stroke-linejoin="round"/>
<path d="M383.50,205.03 C383.92,205.11 382.92,204.92 386.00,205.50 C389.08,206.08 397.00,207.00 402.00,208.50 C407.00,210.00 411.00,212.08 416.00,214.50 C421.00,216.92 429.33,221.58 432.00,223.00" fill="none" stroke="#ff00ff" stroke-width="7.50" stroke-linecap="round" stroke-linejoin="round"/>
<path d="M383.50,206.29 C383.92,206.40 383.25,206.21 386.00,207.00 C388.75,207.79 394.33,208.33 400.00,211.00 C405.67,213.67 416.67,221.00 420.00,223.00" fill="none" stroke="#ff00ff" stroke-width="5.00" stroke-linecap="round" stroke-linejoin="round"/>
<path d="M683.90,205.37 C683.75,205.39 685.98,205.06 683.00,205.50 C680.02,205.94 671.50,206.75 666.00,208.00 C660.50,209.25 655.67,210.50 650.00,213.00 C644.33,215.50 635.00,221.33 632.00,223.00" fill="none" stroke="#ff00ff" stroke-width="7.00" stroke-linecap="round" stroke-linejoin="round"/>
<path d="M683.90,206.35 C683.75,206.38 686.15,205.97 683.00,206.50 C679.85,207.03 670.17,208.08 665.00,209.50 C659.83,210.92 655.83,212.75 652.00,215.00 C648.17,217.25 643.67,221.67 642.00,223.00" fill="none" stroke="#ff00ff" stroke-width="4.50" stroke-linecap="round" stroke-linejoin="round"/>
<path d="M383.50,57.12 C383.92,57.10 383.42,57.12 386.00,57.00 C388.58,56.88 394.33,56.87 399.00,56.40 C403.67,55.93 409.02,55.10 414.00,54.20 C418.98,53.30 423.92,52.28 428.90,51.00 C433.88,49.72 438.90,48.17 443.90,46.50 C448.90,44.83 453.92,42.95 458.90,41.00 C463.88,39.05 469.62,36.63 473.80,34.80 C477.98,32.97 480.47,32.13 484.00,30.00 C487.53,27.87 491.50,24.67 495.00,22.00 C498.50,19.33 501.67,16.67 505.00,14.00 C508.33,11.33 512.17,8.50 515.00,6.00 C517.83,3.50 520.83,0.17 522.00,-1.00" fill="none" stroke="#000" stroke-width="1.3" stroke-linejoin="round"/>
<path d="M383.50,75.83 C383.92,75.77 383.42,75.84 386.00,75.50 C388.58,75.16 394.33,74.62 399.00,73.80 C403.67,72.98 409.02,71.82 414.00,70.60 C418.98,69.38 423.92,67.93 428.90,66.50 C433.88,65.07 440.15,63.17 443.90,62.00 C447.65,60.83 448.90,60.47 451.40,59.50 C453.90,58.53 455.80,58.03 458.90,56.20 C462.00,54.37 466.48,51.03 470.00,48.50 C473.52,45.97 476.67,43.43 480.00,41.00 C483.33,38.57 486.67,36.32 490.00,33.90 C493.33,31.48 496.55,29.07 500.00,26.50 C503.45,23.93 507.37,21.33 510.70,18.50 C514.03,15.67 516.78,12.58 520.00,9.50 C523.22,6.42 528.33,1.58 530.00,0.00" fill="none" stroke="#000" stroke-width="1.3" stroke-linejoin="round"/>
<path d="M383.50,76.48 C383.92,76.50 383.42,76.48 386.00,76.60 C388.58,76.72 394.33,76.90 399.00,77.20 C403.67,77.50 410.02,77.95 414.00,78.40 C417.98,78.85 420.42,79.53 422.90,79.90 C425.38,80.27 427.90,80.48 428.90,80.60" fill="none" stroke="#000" stroke-width="1.3" stroke-linejoin="round"/>
<path d="M428.90,80.60 C430.15,80.10 433.90,79.22 436.40,77.60 C438.90,75.98 441.40,73.38 443.90,70.90 C446.40,68.42 448.90,65.57 451.40,62.70 C453.90,59.83 456.42,56.82 458.90,53.70 C461.38,50.58 463.82,47.12 466.30,44.00 C468.78,40.88 471.52,37.67 473.80,35.00 C476.08,32.33 478.30,29.75 480.00,28.00 C481.70,26.25 482.00,26.67 484.00,24.50 C486.00,22.33 489.33,18.08 492.00,15.00 C494.67,11.92 497.83,8.50 500.00,6.00 C502.17,3.50 504.17,1.00 505.00,0.00" fill="none" stroke="#000" stroke-width="1.3" stroke-linejoin="round"/>
<path d="M383.50,113.04 C383.92,112.87 384.58,112.59 386.00,112.00 C387.42,111.41 389.67,110.58 392.00,109.50 C394.33,108.42 397.00,107.00 400.00,105.50 C403.00,104.00 407.00,102.08 410.00,100.50 C413.00,98.92 415.67,97.42 418.00,96.00 C420.33,94.58 422.33,93.03 424.00,92.00 C425.67,90.97 426.58,90.37 428.00,89.80 C429.42,89.23 431.75,88.80 432.50,88.60" fill="none" stroke="#000" stroke-width="1.3" stroke-linejoin="round"/>
<path d="M432.50,88.60 C433.25,88.67 435.10,88.60 437.00,89.00 C438.90,89.40 440.25,89.67 443.90,91.00 C447.55,92.33 453.92,95.08 458.90,97.00 C463.88,98.92 469.62,101.10 473.80,102.50 C477.98,103.90 479.87,104.22 484.00,105.40 C488.13,106.58 494.15,108.30 498.60,109.60 C503.05,110.90 507.05,112.05 510.70,113.20 C514.35,114.35 516.45,115.43 520.50,116.50 C524.55,117.57 528.92,118.60 535.00,119.60 C541.08,120.60 550.62,121.73 557.00,122.50 C563.38,123.27 568.80,123.53 573.30,124.20 C577.80,124.87 581.00,125.65 584.00,126.50 C587.00,127.35 587.65,127.80 591.30,129.30 C594.95,130.80 601.03,133.67 605.90,135.50 C610.77,137.33 614.42,138.90 620.50,140.30 C626.58,141.70 635.10,142.90 642.40,143.90 C649.70,144.90 657.78,145.68 664.30,146.30 C670.82,146.92 678.23,147.35 681.50,147.60 C684.77,147.85 683.50,147.75 683.90,147.78" fill="none" stroke="#000" stroke-width="1.3" stroke-linejoin="round"/>
<path d="M383.50,148.79 C383.92,148.74 383.42,148.80 386.00,148.50 C388.58,148.20 394.50,147.53 399.00,147.00 C403.50,146.47 408.17,145.97 413.00,145.30 C417.83,144.63 423.50,143.78 428.00,143.00 C432.50,142.22 436.33,141.50 440.00,140.60 C443.67,139.70 446.67,138.62 450.00,137.60 C453.33,136.58 456.40,135.68 460.00,134.50 C463.60,133.32 467.60,131.92 471.60,130.50 C475.60,129.08 479.77,127.75 484.00,126.00 C488.23,124.25 492.55,122.13 497.00,120.00 C501.45,117.87 506.78,115.53 510.70,113.20 C514.62,110.87 517.62,107.87 520.50,106.00 C523.38,104.13 525.75,103.08 528.00,102.00 C530.25,100.92 531.60,100.75 534.00,99.50 C536.40,98.25 539.08,96.78 542.40,94.50 C545.72,92.22 550.47,88.35 553.90,85.80 C557.33,83.25 559.77,81.42 563.00,79.20 C566.23,76.98 571.58,73.62 573.30,72.50" fill="none" stroke="#000" stroke-width="1.3" stroke-linejoin="round"/>
<path d="M573.30,72.50 C575.08,72.33 578.72,71.55 584.00,71.50 C589.28,71.45 595.50,71.78 605.00,72.20 C614.50,72.62 628.23,73.52 641.00,74.00 C653.77,74.48 674.45,74.91 681.60,75.10 C688.75,75.29 683.52,75.15 683.90,75.16" fill="none" stroke="#000" stroke-width="1.3" stroke-linejoin="round"/>
<path d="M510.70,18.50 C511.75,19.58 514.78,22.77 517.00,25.00 C519.22,27.23 521.83,29.82 524.00,31.90 C526.17,33.98 527.83,35.48 530.00,37.50 C532.17,39.52 534.68,41.93 537.00,44.00 C539.32,46.07 541.40,47.90 543.90,49.90 C546.40,51.90 549.35,53.98 552.00,56.00 C554.65,58.02 557.47,60.17 559.80,62.00 C562.13,63.83 563.75,65.25 566.00,67.00 C568.25,68.75 572.08,71.58 573.30,72.50" fill="none" stroke="#000" stroke-width="1.3" stroke-linejoin="round"/>
<path d="M503.00,0.00 C503.83,1.00 506.17,4.00 508.00,6.00 C509.83,8.00 512.00,9.83 514.00,12.00 C516.00,14.17 517.83,16.58 520.00,19.00 C522.17,21.42 524.67,24.02 527.00,26.50 C529.33,28.98 531.75,31.32 534.00,33.90 C536.25,36.48 538.30,39.12 540.50,42.00 C542.70,44.88 544.62,47.70 547.20,51.20 C549.78,54.70 553.20,59.00 556.00,63.00 C558.80,67.00 561.27,71.77 564.00,75.20 C566.73,78.63 570.85,82.10 572.40,83.60 C573.95,85.10 573.15,84.10 573.30,84.20" fill="none" stroke="#000" stroke-width="1.3" stroke-linejoin="round"/>
<path d="M573.30,84.20 C574.42,84.30 577.55,84.50 580.00,84.80 C582.45,85.10 584.67,85.30 588.00,86.00 C591.33,86.70 596.33,88.03 600.00,89.00 C603.67,89.97 605.33,90.30 610.00,91.80 C614.67,93.30 621.33,95.80 628.00,98.00 C634.67,100.20 643.83,103.42 650.00,105.00 C656.17,106.58 659.75,106.87 665.00,107.50 C670.25,108.13 678.35,108.55 681.50,108.80 C684.65,109.05 683.50,108.96 683.90,108.99" fill="none" stroke="#000" stroke-width="1.3" stroke-linejoin="round"/>
<path d="M510.70,149.00 C511.42,148.25 513.62,146.00 515.00,144.50 C516.38,143.00 517.00,141.92 519.00,140.00 C521.00,138.08 524.10,135.25 527.00,133.00 C529.90,130.75 533.57,129.17 536.40,126.50 C539.23,123.83 541.47,120.17 544.00,117.00 C546.53,113.83 549.27,110.17 551.60,107.50 C553.93,104.83 555.77,103.17 558.00,101.00 C560.23,98.83 563.17,96.42 565.00,94.50 C566.83,92.58 567.62,91.22 569.00,89.50 C570.38,87.78 572.58,85.08 573.30,84.20" fill="none" stroke="#000" stroke-width="1.3" stroke-linejoin="round"/>
<path d="M588.00,111.50 C589.33,111.17 593.27,110.35 596.00,109.50 C598.73,108.65 601.73,107.48 604.40,106.40 C607.07,105.32 609.32,104.27 612.00,103.00 C614.68,101.73 617.67,100.38 620.50,98.80 C623.33,97.22 626.58,94.88 629.00,93.50 C631.42,92.12 633.00,91.20 635.00,90.50 C637.00,89.80 640.00,89.50 641.00,89.30" fill="none" stroke="#000" stroke-width="1.3" stroke-linejoin="round"/>
<path d="M641.00,89.30 C642.00,89.53 645.00,89.67 647.00,90.70 C649.00,91.73 651.00,93.70 653.00,95.50 C655.00,97.30 657.02,99.90 659.00,101.50 C660.98,103.10 662.73,103.98 664.90,105.10 C667.07,106.22 669.23,107.38 672.00,108.20 C674.77,109.02 679.52,109.62 681.50,110.00 C683.48,110.38 683.50,110.38 683.90,110.45" fill="none" stroke="#000" stroke-width="1.3" stroke-linejoin="round"/>
<path d="M573.70,23.00 C574.42,22.57 576.62,21.30 578.00,20.40 C579.38,19.50 580.58,18.58 582.00,17.60 C583.42,16.62 585.05,15.33 586.50,14.50 C587.95,13.67 590.00,12.92 590.70,12.60" fill="none" stroke="#000" stroke-width="1.3" stroke-linejoin="round"/>
<path d="M590.70,12.60 C591.33,13.25 593.22,14.93 594.50,16.50 C595.78,18.07 596.47,19.45 598.40,22.00 C600.33,24.55 604.08,29.25 606.10,31.80 C608.12,34.35 609.02,35.27 610.50,37.30 C611.98,39.33 613.12,41.28 615.00,44.00 C616.88,46.72 619.47,50.40 621.80,53.60 C624.13,56.80 626.80,60.20 629.00,63.20 C631.20,66.20 633.00,69.22 635.00,71.60 C637.00,73.98 639.00,75.92 641.00,77.50 C643.00,79.08 645.00,80.53 647.00,81.10 C649.00,81.67 650.02,81.40 653.00,80.90 C655.98,80.40 660.13,78.97 664.90,78.10 C669.67,77.23 678.43,76.16 681.60,75.70 C684.77,75.24 683.52,75.42 683.90,75.37" fill="none" stroke="#000" stroke-width="1.3" stroke-linejoin="round"/>
<path d="M573.70,23.00 C575.08,23.92 578.78,26.67 582.00,28.50 C585.22,30.33 589.33,32.35 593.00,34.00 C596.67,35.65 601.08,37.12 604.00,38.40 C606.92,39.68 607.00,40.35 610.50,41.70 C614.00,43.05 619.92,44.95 625.00,46.50 C630.08,48.05 635.17,49.67 641.00,51.00 C646.83,52.33 653.23,53.67 660.00,54.50 C666.77,55.33 677.62,55.72 681.60,56.00 C685.58,56.28 683.52,56.13 683.90,56.16" fill="none" stroke="#000" stroke-width="1.3" stroke-linejoin="round"/>
<path d="M585.00,-1.00 C585.58,-0.25 587.37,2.05 588.50,3.50 C589.63,4.95 590.38,7.70 591.80,7.70 C593.22,7.70 595.17,4.95 597.00,3.50 C598.83,2.05 601.83,-0.25 602.80,-1.00" fill="none" stroke="#000" stroke-width="1.3" stroke-linejoin="round"/>
<path d="M507.00,6.00 C508.17,6.75 511.83,9.17 514.00,10.50 C516.17,11.83 517.00,12.92 520.00,14.00 C523.00,15.08 528.02,16.13 532.00,17.00 C535.98,17.87 539.57,18.53 543.90,19.20 C548.23,19.87 553.03,20.37 558.00,21.00 C562.97,21.63 571.08,22.67 573.70,23.00" fill="none" stroke="#000" stroke-width="1.3" stroke-linejoin="round"/>
<path d="M497.00,-1.00 C498.33,0.50 502.50,5.42 505.00,8.00 C507.50,10.58 509.83,14.00 512.00,14.50 C514.17,15.00 515.67,12.92 518.00,11.00 C520.33,9.08 524.17,5.00 526.00,3.00 C527.83,1.00 528.50,-0.33 529.00,-1.00" fill="none" stroke="#000" stroke-width="1.3" stroke-linejoin="round"/>
<path d="M383.50,200.57 C383.92,200.52 383.25,200.59 386.00,200.30 C388.75,200.01 394.83,199.48 400.00,198.80 C405.17,198.12 412.00,197.03 417.00,196.20 C422.00,195.37 425.83,194.63 430.00,193.80 C434.17,192.97 437.92,192.75 442.00,191.20 C446.08,189.65 450.33,186.73 454.50,184.50 C458.67,182.27 462.42,180.13 467.00,177.80 C471.58,175.47 477.83,172.88 482.00,170.50 C486.17,168.12 488.67,166.00 492.00,163.50 C495.33,161.00 498.88,157.92 502.00,155.50 C505.12,153.08 509.25,150.08 510.70,149.00" fill="none" stroke="#000" stroke-width="1.3" stroke-linejoin="round"/>
<path d="M465.00,119.00 C465.83,119.42 467.83,120.40 470.00,121.50 C472.17,122.60 475.67,124.18 478.00,125.60 C480.33,127.02 480.57,127.80 484.00,130.00 C487.43,132.20 494.15,135.63 498.60,138.80 C503.05,141.97 506.90,145.88 510.70,149.00 C514.50,152.12 517.62,154.08 521.40,157.50 C525.18,160.92 529.15,165.52 533.40,169.50 C537.65,173.48 542.65,177.17 546.90,181.40 C551.15,185.63 555.42,191.15 558.90,194.90 C562.38,198.65 565.37,201.40 567.80,203.90 C570.23,206.40 572.55,208.90 573.50,209.90" fill="none" stroke="#000" stroke-width="1.3" stroke-linejoin="round"/>
<path d="M573.50,209.90 C575.25,209.85 574.77,210.35 584.00,209.60 C593.23,208.85 612.57,206.73 628.90,205.40 C645.23,204.07 672.83,202.26 682.00,201.60 C691.17,200.94 683.58,201.49 683.90,201.46" fill="none" stroke="#000" stroke-width="1.3" stroke-linejoin="round"/>
<path d="M560.00,223.00 C561.17,221.67 564.75,217.18 567.00,215.00 C569.25,212.82 572.42,210.75 573.50,209.90" fill="none" stroke="#000" stroke-width="1.3" stroke-linejoin="round"/>
<path d="M383.50,103.23 C383.92,103.24 378.58,103.09 386.00,103.30 C393.42,103.51 411.67,104.02 428.00,104.50 C444.33,104.98 470.17,105.95 484.00,106.20 C497.83,106.45 501.33,106.03 511.00,106.00 C520.67,105.97 531.58,106.00 542.00,106.00 C552.42,106.00 560.50,106.08 573.50,106.00 C586.50,105.92 602.00,105.87 620.00,105.50 C638.00,105.13 670.85,104.09 681.50,103.80 C692.15,103.51 683.50,103.74 683.90,103.73" fill="none" stroke="#000" stroke-width="1.3" stroke-linejoin="round"/>
<path d="M383.50,108.05 C383.92,108.06 378.58,107.96 386.00,108.10 C393.42,108.24 411.67,108.77 428.00,108.90 C444.33,109.03 470.17,109.15 484.00,108.90 C497.83,108.65 501.33,107.63 511.00,107.40 C520.67,107.17 531.58,107.40 542.00,107.50 C552.42,107.60 560.50,107.83 573.50,108.00 C586.50,108.17 602.00,108.48 620.00,108.50 C638.00,108.52 670.85,108.17 681.50,108.10 C692.15,108.03 683.50,108.09 683.90,108.08" fill="none" stroke="#000" stroke-width="1.3" stroke-linejoin="round"/>
<path d="M383.50,109.47 C383.92,109.49 381.08,109.35 386.00,109.60 C390.92,109.85 404.83,110.03 413.00,111.00 C421.17,111.97 427.67,114.05 435.00,115.40 C442.33,116.75 448.83,117.88 457.00,119.10 C465.17,120.32 475.00,122.22 484.00,122.70 C493.00,123.18 501.33,122.28 511.00,122.00 C520.67,121.72 531.58,121.30 542.00,121.00 C552.42,120.70 563.83,120.62 573.50,120.20 C583.17,119.78 590.58,118.70 600.00,118.50 C609.42,118.30 616.42,118.90 630.00,119.00 C643.58,119.10 672.52,119.08 681.50,119.10 C690.48,119.12 683.50,119.10 683.90,119.10" fill="none" stroke="#000" stroke-width="1.3" stroke-linejoin="round"/>
<path d="M383.50,110.48 C383.92,110.49 378.58,110.45 386.00,110.50 C393.42,110.55 411.67,110.83 428.00,110.80 C444.33,110.77 470.17,110.50 484.00,110.30 C497.83,110.10 501.33,109.65 511.00,109.60 C520.67,109.55 531.58,109.93 542.00,110.00 C552.42,110.07 560.50,110.03 573.50,110.00 C586.50,109.97 602.00,109.87 620.00,109.80 C638.00,109.73 670.85,109.63 681.50,109.60 C692.15,109.57 683.50,109.59 683.90,109.59" fill="none" stroke="#000" stroke-width="1.3" stroke-linejoin="round"/>
<path d="M383.50,119.16 C383.92,119.15 381.08,119.23 386.00,119.10 C390.92,118.97 403.67,118.77 413.00,118.40 C422.33,118.03 430.17,117.27 442.00,116.90 C453.83,116.53 472.50,116.68 484.00,116.20 C495.50,115.72 501.33,114.20 511.00,114.00 C520.67,113.80 531.58,114.70 542.00,115.00 C552.42,115.30 563.83,115.80 573.50,115.80 C583.17,115.80 590.58,115.38 600.00,115.00 C609.42,114.62 616.42,113.92 630.00,113.50 C643.58,113.08 672.52,112.67 681.50,112.50 C690.48,112.33 683.50,112.46 683.90,112.45" fill="none" stroke="#000" stroke-width="1.3" stroke-linejoin="round"/>
<path d="M383.50,121.30 C383.92,121.30 374.92,121.30 386.00,121.30 C397.08,121.30 433.67,121.35 450.00,121.30 C466.33,121.25 473.83,121.13 484.00,121.00 C494.17,120.87 501.33,120.42 511.00,120.50 C520.67,120.58 531.58,121.18 542.00,121.50 C552.42,121.82 562.17,121.98 573.50,122.40 C584.83,122.82 592.00,124.15 610.00,124.00 C628.00,123.85 669.18,121.93 681.50,121.50 C693.82,121.07 683.50,121.43 683.90,121.42" fill="none" stroke="#000" stroke-width="1.3" stroke-linejoin="round"/>
<path d="M383.50,125.64 C383.92,125.65 381.08,125.57 386.00,125.70 C390.92,125.83 403.67,126.05 413.00,126.40 C422.33,126.75 430.17,127.68 442.00,127.80 C453.83,127.92 472.50,126.48 484.00,127.10 C495.50,127.72 501.33,130.82 511.00,131.50 C520.67,132.18 531.58,131.28 542.00,131.20 C552.42,131.12 562.17,131.37 573.50,131.00 C584.83,130.63 592.00,129.88 610.00,129.00 C628.00,128.12 669.18,126.27 681.50,125.70 C693.82,125.13 683.50,125.61 683.90,125.59" fill="none" stroke="#000" stroke-width="1.3" stroke-linejoin="round"/>
<path d="M383.50,129.81 C383.92,129.85 380.42,129.59 386.00,130.00 C391.58,130.41 409.17,131.27 417.00,132.30 C424.83,133.33 428.33,135.50 433.00,136.20 C437.67,136.90 440.50,136.87 445.00,136.50 C449.50,136.13 453.50,133.98 460.00,134.00 C466.50,134.02 475.50,136.17 484.00,136.60 C492.50,137.03 501.33,136.78 511.00,136.60 C520.67,136.42 531.58,135.87 542.00,135.50 C552.42,135.13 562.17,134.98 573.50,134.40 C584.83,133.82 597.25,132.90 610.00,132.00 C622.75,131.10 638.08,129.70 650.00,129.00 C661.92,128.30 675.85,128.02 681.50,127.80 C687.15,127.58 683.50,127.72 683.90,127.71" fill="none" stroke="#000" stroke-width="1.3" stroke-linejoin="round"/>
<path d="M383.50,147.24 C383.92,147.16 382.25,147.46 386.00,146.80 C389.75,146.14 399.00,144.88 406.00,143.30 C413.00,141.72 421.60,139.13 428.00,137.30 C434.40,135.47 439.23,133.85 444.40,132.30 C449.57,130.75 454.47,129.38 459.00,128.00 C463.53,126.62 467.43,125.25 471.60,124.00 C475.77,122.75 479.27,121.67 484.00,120.50 C488.73,119.33 495.50,117.72 500.00,117.00 C504.50,116.28 509.17,116.33 511.00,116.20" fill="none" stroke="#000" stroke-width="1.3" stroke-linejoin="round"/>
<path d="M433.40,150.00 C437.67,148.88 450.57,144.43 459.00,143.30 C467.43,142.17 475.38,142.48 484.00,143.20 C492.62,143.92 500.97,147.12 510.70,147.60 C520.43,148.08 531.93,146.65 542.40,146.10 C552.87,145.55 566.57,145.03 573.50,144.30 C580.43,143.57 579.58,142.58 584.00,141.70 C588.42,140.82 592.33,140.28 600.00,139.00 C607.67,137.72 616.42,135.50 630.00,134.00 C643.58,132.50 672.52,130.70 681.50,130.00 C690.48,129.30 683.50,129.84 683.90,129.81" fill="none" stroke="#000" stroke-width="1.3" stroke-linejoin="round"/>
<path d="M383.50,168.04 C383.92,167.92 382.17,168.44 386.00,167.30 C389.83,166.16 399.35,163.58 406.50,161.20 C413.65,158.82 421.70,155.95 428.90,153.00 C436.10,150.05 443.68,145.92 449.70,143.50 C455.72,141.08 459.28,139.50 465.00,138.50 C470.72,137.50 480.83,137.67 484.00,137.50" fill="none" stroke="#000" stroke-width="1.3" stroke-linejoin="round"/>
<path d="M383.50,167.91 C383.92,167.93 378.43,167.74 386.00,168.00 C393.57,168.26 416.75,169.63 428.90,169.50 C441.05,169.37 449.72,167.83 458.90,167.20 C468.08,166.57 475.32,165.23 484.00,165.70 C492.68,166.17 501.67,169.62 511.00,170.00 C520.33,170.38 529.58,168.45 540.00,168.00 C550.42,167.55 566.17,167.93 573.50,167.30 C580.83,166.67 577.25,164.33 584.00,164.20 C590.75,164.07 604.02,165.62 614.00,166.50 C623.98,167.38 632.57,169.25 643.90,169.50 C655.23,169.75 675.33,168.26 682.00,168.00 C688.67,167.74 683.58,167.94 683.90,167.93" fill="none" stroke="#000" stroke-width="1.3" stroke-linejoin="round"/>
<path d="M383.50,169.65 C383.92,169.74 382.17,169.36 386.00,170.20 C389.83,171.04 399.35,173.45 406.50,174.70 C413.65,175.95 420.17,177.20 428.90,177.70 C437.63,178.20 449.72,177.82 458.90,177.70 C468.08,177.58 475.32,176.62 484.00,177.00 C492.68,177.38 503.33,180.50 511.00,180.00 C518.67,179.50 523.33,175.50 530.00,174.00 C536.67,172.50 543.75,171.83 551.00,171.00 C558.25,170.17 568.00,169.25 573.50,169.00 C579.00,168.75 578.50,168.80 584.00,169.50 C589.50,170.20 599.02,172.22 606.50,173.20 C613.98,174.18 620.17,174.90 628.90,175.40 C637.63,175.90 650.05,176.20 658.90,176.20 C667.75,176.20 677.83,175.54 682.00,175.40 C686.17,175.26 683.58,175.35 683.90,175.33" fill="none" stroke="#000" stroke-width="1.3" stroke-linejoin="round"/>
<path d="M383.50,176.38 C383.92,176.32 383.42,176.40 386.00,176.00 C388.58,175.60 391.85,175.58 399.00,174.00 C406.15,172.42 420.17,168.75 428.90,166.50 C437.63,164.25 445.17,161.88 451.40,160.50 C457.63,159.12 460.87,158.20 466.30,158.20 C471.73,158.20 476.55,160.12 484.00,160.50 C491.45,160.88 503.52,160.38 511.00,160.50 C518.48,160.62 518.48,160.83 528.90,161.20 C539.32,161.57 564.32,162.57 573.50,162.70 C582.68,162.83 579.75,162.57 584.00,162.00 C588.25,161.43 594.00,159.55 599.00,159.30 C604.00,159.05 607.77,159.30 614.00,160.50 C620.23,161.70 628.92,164.50 636.40,166.50 C643.88,168.50 651.30,171.02 658.90,172.50 C666.50,173.98 677.83,174.88 682.00,175.40 C686.17,175.92 683.58,175.60 683.90,175.64" fill="none" stroke="#000" stroke-width="1.3" stroke-linejoin="round"/>
<path d="M383.50,185.94 C383.92,185.95 375.93,185.76 386.00,186.00 C396.07,186.24 427.57,186.78 443.90,187.40 C460.23,188.02 472.82,188.70 484.00,189.70 C495.18,190.70 503.52,192.03 511.00,193.40 C518.48,194.77 522.17,196.53 528.90,197.90 C535.63,199.27 543.97,200.73 551.40,201.60 C558.83,202.47 568.07,202.85 573.50,203.10 C578.93,203.35 574.58,203.12 584.00,203.10 C593.42,203.08 613.67,203.10 630.00,203.00 C646.33,202.90 673.02,202.59 682.00,202.50 C690.98,202.41 683.58,202.48 683.90,202.48" fill="none" stroke="#000" stroke-width="1.3" stroke-linejoin="round"/>
<path d="M383.50,205.40 C383.92,205.40 378.43,205.40 386.00,205.40 C393.57,205.40 416.75,205.90 428.90,205.40 C441.05,204.90 449.72,203.52 458.90,202.40 C468.08,201.28 475.32,200.20 484.00,198.70 C492.68,197.20 503.52,195.03 511.00,193.40 C518.48,191.77 522.17,190.15 528.90,188.90 C535.63,187.65 543.97,186.52 551.40,185.90 C558.83,185.28 568.07,185.27 573.50,185.20 C578.93,185.13 574.58,185.37 584.00,185.50 C593.42,185.63 613.67,185.80 630.00,186.00 C646.33,186.20 673.02,186.58 682.00,186.70 C690.98,186.82 683.58,186.72 683.90,186.73" fill="none" stroke="#000" stroke-width="1.3" stroke-linejoin="round"/>
<path d="M584.00,185.20 C591.48,184.82 616.42,184.40 628.90,182.90 C641.38,181.40 650.05,178.32 658.90,176.20 C667.75,174.08 677.83,171.28 682.00,170.20 C686.17,169.12 683.58,169.79 683.90,169.71" fill="none" stroke="#000" stroke-width="1.3" stroke-linejoin="round"/>
<path d="M573.50,150.50 C577.92,148.67 593.08,140.75 600.00,139.50 C606.92,138.25 609.43,141.25 615.00,143.00 C620.57,144.75 627.33,147.33 633.40,150.00 C639.47,152.67 645.92,156.50 651.40,159.00 C656.88,161.50 661.20,163.38 666.30,165.00 C671.40,166.62 679.07,168.01 682.00,168.70 C684.93,169.39 683.58,169.07 683.90,169.15" fill="none" stroke="#000" stroke-width="1.3" stroke-linejoin="round"/>
<path d="M383.50,150.47 C383.92,150.48 378.25,150.41 386.00,150.50 C393.75,150.59 413.67,151.00 430.00,151.00 C446.33,151.00 470.50,150.75 484.00,150.50 C497.50,150.25 501.33,149.62 511.00,149.50 C520.67,149.38 531.58,149.63 542.00,149.80 C552.42,149.97 568.25,150.38 573.50,150.50" fill="none" stroke="#000" stroke-width="1.3" stroke-linejoin="round"/>
<path d="M573.50,160.70 C577.92,160.75 590.58,161.45 600.00,161.00 C609.42,160.55 616.42,159.00 630.00,158.00 C643.58,157.00 672.52,155.52 681.50,155.00 C690.48,154.48 683.50,154.88 683.90,154.86" fill="none" stroke="#000" stroke-width="1.3" stroke-linejoin="round"/>
<path d="M383.50,202.82 C383.92,202.90 383.25,202.77 386.00,203.30 C388.75,203.83 395.67,204.72 400.00,206.00 C404.33,207.28 407.83,208.25 412.00,211.00 C416.17,213.75 422.83,220.58 425.00,222.50" fill="none" stroke="#000" stroke-width="1.3" stroke-linejoin="round"/>
<path d="M383.50,203.30 C383.92,203.38 382.92,203.18 386.00,203.80 C389.08,204.42 397.00,205.47 402.00,207.00 C407.00,208.53 411.33,210.42 416.00,213.00 C420.67,215.58 427.67,220.92 430.00,222.50" fill="none" stroke="#000" stroke-width="1.3" stroke-linejoin="round"/>
<path d="M383.50,203.81 C383.92,203.89 382.42,203.60 386.00,204.30 C389.58,205.00 399.17,206.30 405.00,208.00 C410.83,209.70 415.83,212.08 421.00,214.50 C426.17,216.92 433.50,221.17 436.00,222.50" fill="none" stroke="#000" stroke-width="1.3" stroke-linejoin="round"/>
<path d="M683.90,203.93 C683.58,203.97 684.98,203.77 682.00,204.20 C679.02,204.63 671.33,205.37 666.00,206.50 C660.67,207.63 656.00,208.33 650.00,211.00 C644.00,213.67 633.33,220.58 630.00,222.50" fill="none" stroke="#000" stroke-width="1.3" stroke-linejoin="round"/>
<path d="M683.90,204.39 C683.58,204.44 684.65,204.26 682.00,204.70 C679.35,205.14 672.33,205.78 668.00,207.00 C663.67,208.22 660.00,209.42 656.00,212.00 C652.00,214.58 646.00,220.75 644.00,222.50" fill="none" stroke="#000" stroke-width="1.3" stroke-linejoin="round"/>
<path d="M683.90,204.76 C683.58,204.83 684.32,204.66 682.00,205.20 C679.68,205.74 673.67,206.70 670.00,208.00 C666.33,209.30 663.50,210.58 660.00,213.00 C656.50,215.42 650.83,220.92 649.00,222.50" fill="none" stroke="#000" stroke-width="1.3" stroke-linejoin="round"/>
</g>
<rect x="385.50" y="0.90" width="296.40" height="220.50" fill="none" stroke="#3a3a3a" stroke-width="1.0"/>
<line x1="382.00" y1="23.00" x2="385.50" y2="23.00" stroke="#3a3a3a" stroke-width="0.9"/>
<text x="378.90" y="26.60" font-size="9.3" text-anchor="end" fill="#262626">4</text>
<line x1="382.00" y1="67.20" x2="385.50" y2="67.20" stroke="#3a3a3a" stroke-width="0.9"/>
<text x="378.90" y="70.80" font-size="9.3" text-anchor="end" fill="#262626">2</text>
<line x1="382.00" y1="111.40" x2="385.50" y2="111.40" stroke="#3a3a3a" stroke-width="0.9"/>
<text x="378.90" y="115.00" font-size="9.3" text-anchor="end" fill="#262626">0</text>
<line x1="382.00" y1="155.60" x2="385.50" y2="155.60" stroke="#3a3a3a" stroke-width="0.9"/>
<text x="367.90" y="159.20" font-size="9.3" fill="#262626" textLength="10.9" lengthAdjust="spacingAndGlyphs">−2</text>
<line x1="382.00" y1="199.80" x2="385.50" y2="199.80" stroke="#3a3a3a" stroke-width="0.9"/>
<text x="367.90" y="203.40" font-size="9.3" fill="#262626" textLength="10.9" lengthAdjust="spacingAndGlyphs">−4</text>
<line x1="385.50" y1="221.40" x2="385.50" y2="224.40" stroke="#3a3a3a" stroke-width="0.9"/>
<text x="385.50" y="233.10" font-size="8.6" text-anchor="middle" fill="#222">Γ</text>
<line x1="510.80" y1="221.40" x2="510.80" y2="224.40" stroke="#3a3a3a" stroke-width="0.9"/>
<text x="510.80" y="233.10" font-size="8.6" text-anchor="middle" fill="#222">K</text>
<line x1="573.50" y1="221.40" x2="573.50" y2="224.40" stroke="#3a3a3a" stroke-width="0.9"/>
<text x="573.50" y="233.10" font-size="8.6" text-anchor="middle" fill="#222">M</text>
<line x1="681.90" y1="221.40" x2="681.90" y2="224.40" stroke="#3a3a3a" stroke-width="0.9"/>
<text x="681.90" y="233.10" font-size="8.6" text-anchor="middle" fill="#222">Γ</text>
<text transform="translate(363.60,104.20) rotate(-90)" font-size="10.2" text-anchor="middle" fill="#3a3a3a" textLength="55.5" lengthAdjust="spacingAndGlyphs">E - E<tspan font-size="6.5" dy="1.8">F</tspan><tspan dy="-1.8">  [eV]</tspan></text>
<rect x="385.90" y="0.90" width="120.70" height="20.20" fill="#fff" stroke="#555" stroke-width="0.9"/><text x="390.50" y="16.80" font-size="14.60" fill="#1a1a1a" font-weight="bold" textLength="16.80" lengthAdjust="spacingAndGlyphs">(b)</text><text x="413.50" y="16.80" font-size="14.60" fill="#1a1a1a" textLength="17.60" lengthAdjust="spacingAndGlyphs">LiC</text><text x="431.50" y="19.60" font-size="9.20" fill="#1a1a1a" textLength="4.30" lengthAdjust="spacingAndGlyphs">2</text><text x="436.00" y="16.80" font-size="14.60" fill="#1a1a1a" textLength="16.30" lengthAdjust="spacingAndGlyphs">/Al</text><text x="453.10" y="19.60" font-size="9.20" fill="#1a1a1a" textLength="4.60" lengthAdjust="spacingAndGlyphs">2</text><text x="458.80" y="16.80" font-size="14.60" fill="#1a1a1a" textLength="10.40" lengthAdjust="spacingAndGlyphs">O</text><text x="469.70" y="19.60" font-size="9.20" fill="#1a1a1a" textLength="4.00" lengthAdjust="spacingAndGlyphs">3</text><text x="474.50" y="16.80" font-size="14.60" fill="#1a1a1a" textLength="29.40" lengthAdjust="spacingAndGlyphs">(111)</text>
<rect x="610.20" y="0.80" width="71.70" height="52.10" fill="#fff" stroke="#333" stroke-width="0.9"/><line x1="614.70" y1="45.80" x2="618.00" y2="43.00" stroke="#222" stroke-width="0.80"/><line x1="614.70" y1="45.80" x2="619.20" y2="48.00" stroke="#222" stroke-width="0.80"/><line x1="624.80" y1="41.30" x2="624.00" y2="46.00" stroke="#222" stroke-width="0.80"/><line x1="624.80" y1="41.30" x2="620.80" y2="40.20" stroke="#222" stroke-width="0.80"/><line x1="624.80" y1="41.30" x2="628.70" y2="42.50" stroke="#222" stroke-width="0.80"/><line x1="624.80" y1="41.30" x2="626.00" y2="38.00" stroke="#222" stroke-width="0.80"/><line x1="624.80" y1="41.30" x2="622.00" y2="44.50" stroke="#222" stroke-width="0.80"/><line x1="635.40" y1="44.70" x2="632.00" y2="46.50" stroke="#222" stroke-width="0.80"/><line x1="635.40" y1="44.70" x2="639.30" y2="45.80" stroke="#222" stroke-width="0.80"/><line x1="635.40" y1="44.70" x2="637.00" y2="41.00" stroke="#222" stroke-width="0.80"/><line x1="635.40" y1="35.80" x2="638.00" y2="37.50" stroke="#222" stroke-width="0.80"/><line x1="635.40" y1="35.80" x2="631.50" y2="34.60" stroke="#222" stroke-width="0.80"/><line x1="635.40" y1="35.80" x2="633.00" y2="39.50" stroke="#222" stroke-width="0.80"/><line x1="646.00" y1="39.70" x2="644.00" y2="44.00" stroke="#222" stroke-width="0.80"/><line x1="646.00" y1="39.70" x2="650.00" y2="37.50" stroke="#222" stroke-width="0.80"/><line x1="646.00" y1="39.70" x2="641.50" y2="39.10" stroke="#222" stroke-width="0.80"/><line x1="646.00" y1="39.70" x2="647.00" y2="43.00" stroke="#222" stroke-width="0.80"/><line x1="646.00" y1="39.70" x2="645.00" y2="35.00" stroke="#222" stroke-width="0.80"/><line x1="656.00" y1="42.50" x2="652.00" y2="45.00" stroke="#222" stroke-width="0.80"/><line x1="656.00" y1="42.50" x2="660.00" y2="44.50" stroke="#222" stroke-width="0.80"/><line x1="656.00" y1="42.50" x2="660.00" y2="40.20" stroke="#222" stroke-width="0.80"/><line x1="656.00" y1="33.50" x2="655.00" y2="30.50" stroke="#222" stroke-width="0.80"/><line x1="656.00" y1="33.50" x2="652.10" y2="33.50" stroke="#222" stroke-width="0.80"/><line x1="656.00" y1="33.50" x2="652.70" y2="36.30" stroke="#222" stroke-width="0.80"/><line x1="656.00" y1="33.50" x2="658.00" y2="37.00" stroke="#222" stroke-width="0.80"/><line x1="666.70" y1="36.90" x2="666.00" y2="33.00" stroke="#222" stroke-width="0.80"/><line x1="666.70" y1="36.90" x2="668.00" y2="40.00" stroke="#222" stroke-width="0.80"/><line x1="676.40" y1="30.70" x2="672.80" y2="27.40" stroke="#222" stroke-width="0.80"/><circle cx="614.70" cy="45.80" r="2.50" fill="#9aabb2" stroke="#222" stroke-width="0.50"/><circle cx="624.80" cy="41.30" r="2.50" fill="#9aabb2" stroke="#222" stroke-width="0.50"/><circle cx="635.40" cy="44.70" r="2.50" fill="#9aabb2" stroke="#222" stroke-width="0.50"/><circle cx="635.40" cy="35.80" r="2.50" fill="#9aabb2" stroke="#222" stroke-width="0.50"/><circle cx="646.00" cy="39.70" r="2.50" fill="#9aabb2" stroke="#222" stroke-width="0.50"/><circle cx="656.00" cy="42.50" r="2.50" fill="#9aabb2" stroke="#222" stroke-width="0.50"/><circle cx="656.00" cy="33.50" r="2.50" fill="#9aabb2" stroke="#222" stroke-width="0.50"/><circle cx="666.70" cy="36.90" r="2.50" fill="#9aabb2" stroke="#222" stroke-width="0.50"/><circle cx="676.40" cy="30.70" r="2.50" fill="#9aabb2" stroke="#222" stroke-width="0.50"/><circle cx="624.00" cy="33.50" r="1.35" fill="#f26d5b" stroke="#222" stroke-width="0.45"/><circle cx="628.00" cy="31.00" r="1.35" fill="#f26d5b" stroke="#222" stroke-width="0.45"/><circle cx="636.00" cy="30.50" r="1.35" fill="#f26d5b" stroke="#222" stroke-width="0.45"/><circle cx="644.00" cy="31.00" r="1.35" fill="#f26d5b" stroke="#222" stroke-width="0.45"/><circle cx="648.00" cy="28.50" r="1.35" fill="#f26d5b" stroke="#222" stroke-width="0.45"/><circle cx="655.00" cy="30.50" r="1.35" fill="#f26d5b" stroke="#222" stroke-width="0.45"/><circle cx="659.00" cy="28.50" r="1.35" fill="#f26d5b" stroke="#222" stroke-width="0.45"/><circle cx="666.00" cy="33.00" r="1.35" fill="#f26d5b" stroke="#222" stroke-width="0.45"/><circle cx="670.00" cy="29.50" r="1.35" fill="#f26d5b" stroke="#222" stroke-width="0.45"/><circle cx="618.00" cy="43.00" r="1.35" fill="#f26d5b" stroke="#222" stroke-width="0.45"/><circle cx="624.00" cy="46.00" r="1.35" fill="#f26d5b" stroke="#222" stroke-width="0.45"/><circle cx="632.00" cy="46.50" r="1.35" fill="#f26d5b" stroke="#222" stroke-width="0.45"/><circle cx="644.00" cy="44.00" r="1.35" fill="#f26d5b" stroke="#222" stroke-width="0.45"/><circle cx="652.00" cy="45.00" r="1.35" fill="#f26d5b" stroke="#222" stroke-width="0.45"/><circle cx="660.00" cy="44.50" r="1.35" fill="#f26d5b" stroke="#222" stroke-width="0.45"/><circle cx="668.00" cy="40.00" r="1.35" fill="#f26d5b" stroke="#222" stroke-width="0.45"/><circle cx="672.00" cy="34.00" r="1.35" fill="#f26d5b" stroke="#222" stroke-width="0.45"/><circle cx="626.00" cy="35.00" r="1.35" fill="#f26d5b" stroke="#222" stroke-width="0.45"/><circle cx="638.00" cy="37.50" r="1.35" fill="#f26d5b" stroke="#222" stroke-width="0.45"/><circle cx="650.00" cy="37.50" r="1.35" fill="#f26d5b" stroke="#222" stroke-width="0.45"/><circle cx="621.40" cy="36.90" r="1.35" fill="#f26d5b" stroke="#222" stroke-width="0.45"/><circle cx="620.80" cy="40.20" r="1.35" fill="#f26d5b" stroke="#222" stroke-width="0.45"/><circle cx="619.20" cy="48.00" r="1.35" fill="#f26d5b" stroke="#222" stroke-width="0.45"/><circle cx="628.70" cy="48.00" r="1.35" fill="#f26d5b" stroke="#222" stroke-width="0.45"/><circle cx="628.70" cy="42.50" r="1.35" fill="#f26d5b" stroke="#222" stroke-width="0.45"/><circle cx="631.50" cy="30.20" r="1.35" fill="#f26d5b" stroke="#222" stroke-width="0.45"/><circle cx="631.50" cy="34.60" r="1.35" fill="#f26d5b" stroke="#222" stroke-width="0.45"/><circle cx="641.00" cy="28.50" r="1.35" fill="#f26d5b" stroke="#222" stroke-width="0.45"/><circle cx="641.50" cy="32.40" r="1.35" fill="#f26d5b" stroke="#222" stroke-width="0.45"/><circle cx="641.50" cy="39.10" r="1.35" fill="#f26d5b" stroke="#222" stroke-width="0.45"/><circle cx="639.30" cy="45.80" r="1.35" fill="#f26d5b" stroke="#222" stroke-width="0.45"/><circle cx="649.30" cy="46.90" r="1.35" fill="#f26d5b" stroke="#222" stroke-width="0.45"/><circle cx="652.10" cy="29.00" r="1.35" fill="#f26d5b" stroke="#222" stroke-width="0.45"/><circle cx="652.10" cy="33.50" r="1.35" fill="#f26d5b" stroke="#222" stroke-width="0.45"/><circle cx="652.70" cy="36.30" r="1.35" fill="#f26d5b" stroke="#222" stroke-width="0.45"/><circle cx="662.20" cy="26.80" r="1.35" fill="#f26d5b" stroke="#222" stroke-width="0.45"/><circle cx="662.70" cy="33.50" r="1.35" fill="#f26d5b" stroke="#222" stroke-width="0.45"/><circle cx="660.00" cy="40.20" r="1.35" fill="#f26d5b" stroke="#222" stroke-width="0.45"/><circle cx="672.80" cy="27.40" r="1.35" fill="#f26d5b" stroke="#222" stroke-width="0.45"/><circle cx="626.00" cy="38.00" r="1.35" fill="#f26d5b" stroke="#222" stroke-width="0.45"/><circle cx="637.00" cy="41.00" r="1.35" fill="#f26d5b" stroke="#222" stroke-width="0.45"/><circle cx="647.00" cy="43.00" r="1.35" fill="#f26d5b" stroke="#222" stroke-width="0.45"/><circle cx="658.00" cy="37.00" r="1.35" fill="#f26d5b" stroke="#222" stroke-width="0.45"/><circle cx="668.00" cy="31.00" r="1.35" fill="#f26d5b" stroke="#222" stroke-width="0.45"/><circle cx="645.00" cy="35.00" r="1.35" fill="#f26d5b" stroke="#222" stroke-width="0.45"/><circle cx="633.00" cy="39.50" r="1.35" fill="#f26d5b" stroke="#222" stroke-width="0.45"/><circle cx="622.00" cy="44.50" r="1.35" fill="#f26d5b" stroke="#222" stroke-width="0.45"/><circle cx="664.00" cy="29.50" r="1.35" fill="#f26d5b" stroke="#222" stroke-width="0.45"/><line x1="620.73" y1="25.40" x2="618.00" y2="26.30" stroke="#222" stroke-width="1.00"/><line x1="620.73" y1="25.40" x2="623.10" y2="25.70" stroke="#222" stroke-width="1.00"/><line x1="620.73" y1="25.40" x2="621.10" y2="24.20" stroke="#222" stroke-width="1.00"/><line x1="623.83" y1="23.30" x2="621.10" y2="24.20" stroke="#222" stroke-width="1.00"/><line x1="623.83" y1="23.30" x2="626.20" y2="23.60" stroke="#222" stroke-width="1.00"/><line x1="623.83" y1="23.30" x2="624.20" y2="22.10" stroke="#222" stroke-width="1.00"/><line x1="626.93" y1="21.20" x2="624.20" y2="22.10" stroke="#222" stroke-width="1.00"/><line x1="626.93" y1="21.20" x2="629.30" y2="21.50" stroke="#222" stroke-width="1.00"/><line x1="626.93" y1="21.20" x2="627.30" y2="20.00" stroke="#222" stroke-width="1.00"/><line x1="630.03" y1="19.10" x2="627.30" y2="20.00" stroke="#222" stroke-width="1.00"/><line x1="630.03" y1="19.10" x2="632.40" y2="19.40" stroke="#222" stroke-width="1.00"/><line x1="625.83" y1="24.80" x2="623.10" y2="25.70" stroke="#222" stroke-width="1.00"/><line x1="625.83" y1="24.80" x2="628.20" y2="25.10" stroke="#222" stroke-width="1.00"/><line x1="625.83" y1="24.80" x2="626.20" y2="23.60" stroke="#222" stroke-width="1.00"/><line x1="628.93" y1="22.70" x2="626.20" y2="23.60" stroke="#222" stroke-width="1.00"/><line x1="628.93" y1="22.70" x2="631.30" y2="23.00" stroke="#222" stroke-width="1.00"/><line x1="628.93" y1="22.70" x2="629.30" y2="21.50" stroke="#222" stroke-width="1.00"/><line x1="632.03" y1="20.60" x2="629.30" y2="21.50" stroke="#222" stroke-width="1.00"/><line x1="632.03" y1="20.60" x2="634.40" y2="20.90" stroke="#222" stroke-width="1.00"/><line x1="632.03" y1="20.60" x2="632.40" y2="19.40" stroke="#222" stroke-width="1.00"/><line x1="635.13" y1="18.50" x2="632.40" y2="19.40" stroke="#222" stroke-width="1.00"/><line x1="635.13" y1="18.50" x2="637.50" y2="18.80" stroke="#222" stroke-width="1.00"/><line x1="630.93" y1="24.20" x2="628.20" y2="25.10" stroke="#222" stroke-width="1.00"/><line x1="630.93" y1="24.20" x2="633.30" y2="24.50" stroke="#222" stroke-width="1.00"/><line x1="630.93" y1="24.20" x2="631.30" y2="23.00" stroke="#222" stroke-width="1.00"/><line x1="634.03" y1="22.10" x2="631.30" y2="23.00" stroke="#222" stroke-width="1.00"/><line x1="634.03" y1="22.10" x2="636.40" y2="22.40" stroke="#222" stroke-width="1.00"/><line x1="634.03" y1="22.10" x2="634.40" y2="20.90" stroke="#222" stroke-width="1.00"/><line x1="637.13" y1="20.00" x2="634.40" y2="20.90" stroke="#222" stroke-width="1.00"/><line x1="637.13" y1="20.00" x2="639.50" y2="20.30" stroke="#222" stroke-width="1.00"/><line x1="637.13" y1="20.00" x2="637.50" y2="18.80" stroke="#222" stroke-width="1.00"/><line x1="640.23" y1="17.90" x2="637.50" y2="18.80" stroke="#222" stroke-width="1.00"/><line x1="640.23" y1="17.90" x2="642.60" y2="18.20" stroke="#222" stroke-width="1.00"/><line x1="636.03" y1="23.60" x2="633.30" y2="24.50" stroke="#222" stroke-width="1.00"/><line x1="636.03" y1="23.60" x2="638.40" y2="23.90" stroke="#222" stroke-width="1.00"/><line x1="636.03" y1="23.60" x2="636.40" y2="22.40" stroke="#222" stroke-width="1.00"/><line x1="639.13" y1="21.50" x2="636.40" y2="22.40" stroke="#222" stroke-width="1.00"/><line x1="639.13" y1="21.50" x2="641.50" y2="21.80" stroke="#222" stroke-width="1.00"/><line x1="639.13" y1="21.50" x2="639.50" y2="20.30" stroke="#222" stroke-width="1.00"/><line x1="642.23" y1="19.40" x2="639.50" y2="20.30" stroke="#222" stroke-width="1.00"/><line x1="642.23" y1="19.40" x2="644.60" y2="19.70" stroke="#222" stroke-width="1.00"/><line x1="642.23" y1="19.40" x2="642.60" y2="18.20" stroke="#222" stroke-width="1.00"/><line x1="645.33" y1="17.30" x2="642.60" y2="18.20" stroke="#222" stroke-width="1.00"/><line x1="645.33" y1="17.30" x2="647.70" y2="17.60" stroke="#222" stroke-width="1.00"/><line x1="641.13" y1="23.00" x2="638.40" y2="23.90" stroke="#222" stroke-width="1.00"/><line x1="641.13" y1="23.00" x2="643.50" y2="23.30" stroke="#222" stroke-width="1.00"/><line x1="641.13" y1="23.00" x2="641.50" y2="21.80" stroke="#222" stroke-width="1.00"/><line x1="644.23" y1="20.90" x2="641.50" y2="21.80" stroke="#222" stroke-width="1.00"/><line x1="644.23" y1="20.90" x2="646.60" y2="21.20" stroke="#222" stroke-width="1.00"/><line x1="644.23" y1="20.90" x2="644.60" y2="19.70" stroke="#222" stroke-width="1.00"/><line x1="647.33" y1="18.80" x2="644.60" y2="19.70" stroke="#222" stroke-width="1.00"/><line x1="647.33" y1="18.80" x2="649.70" y2="19.10" stroke="#222" stroke-width="1.00"/><line x1="647.33" y1="18.80" x2="647.70" y2="17.60" stroke="#222" stroke-width="1.00"/><line x1="650.43" y1="16.70" x2="647.70" y2="17.60" stroke="#222" stroke-width="1.00"/><line x1="650.43" y1="16.70" x2="652.80" y2="17.00" stroke="#222" stroke-width="1.00"/><line x1="646.23" y1="22.40" x2="643.50" y2="23.30" stroke="#222" stroke-width="1.00"/><line x1="646.23" y1="22.40" x2="648.60" y2="22.70" stroke="#222" stroke-width="1.00"/><line x1="646.23" y1="22.40" x2="646.60" y2="21.20" stroke="#222" stroke-width="1.00"/><line x1="649.33" y1="20.30" x2="646.60" y2="21.20" stroke="#222" stroke-width="1.00"/><line x1="649.33" y1="20.30" x2="651.70" y2="20.60" stroke="#222" stroke-width="1.00"/><line x1="649.33" y1="20.30" x2="649.70" y2="19.10" stroke="#222" stroke-width="1.00"/><line x1="652.43" y1="18.20" x2="649.70" y2="19.10" stroke="#222" stroke-width="1.00"/><line x1="652.43" y1="18.20" x2="654.80" y2="18.50" stroke="#222" stroke-width="1.00"/><line x1="652.43" y1="18.20" x2="652.80" y2="17.00" stroke="#222" stroke-width="1.00"/><line x1="655.53" y1="16.10" x2="652.80" y2="17.00" stroke="#222" stroke-width="1.00"/><line x1="655.53" y1="16.10" x2="657.90" y2="16.40" stroke="#222" stroke-width="1.00"/><line x1="651.33" y1="21.80" x2="648.60" y2="22.70" stroke="#222" stroke-width="1.00"/><line x1="651.33" y1="21.80" x2="653.70" y2="22.10" stroke="#222" stroke-width="1.00"/><line x1="651.33" y1="21.80" x2="651.70" y2="20.60" stroke="#222" stroke-width="1.00"/><line x1="654.43" y1="19.70" x2="651.70" y2="20.60" stroke="#222" stroke-width="1.00"/><line x1="654.43" y1="19.70" x2="656.80" y2="20.00" stroke="#222" stroke-width="1.00"/><line x1="654.43" y1="19.70" x2="654.80" y2="18.50" stroke="#222" stroke-width="1.00"/><line x1="657.53" y1="17.60" x2="654.80" y2="18.50" stroke="#222" stroke-width="1.00"/><line x1="657.53" y1="17.60" x2="659.90" y2="17.90" stroke="#222" stroke-width="1.00"/><line x1="657.53" y1="17.60" x2="657.90" y2="16.40" stroke="#222" stroke-width="1.00"/><line x1="660.63" y1="15.50" x2="657.90" y2="16.40" stroke="#222" stroke-width="1.00"/><line x1="660.63" y1="15.50" x2="663.00" y2="15.80" stroke="#222" stroke-width="1.00"/><line x1="656.43" y1="21.20" x2="653.70" y2="22.10" stroke="#222" stroke-width="1.00"/><line x1="656.43" y1="21.20" x2="658.80" y2="21.50" stroke="#222" stroke-width="1.00"/><line x1="656.43" y1="21.20" x2="656.80" y2="20.00" stroke="#222" stroke-width="1.00"/><line x1="659.53" y1="19.10" x2="656.80" y2="20.00" stroke="#222" stroke-width="1.00"/><line x1="659.53" y1="19.10" x2="661.90" y2="19.40" stroke="#222" stroke-width="1.00"/><line x1="659.53" y1="19.10" x2="659.90" y2="17.90" stroke="#222" stroke-width="1.00"/><line x1="662.63" y1="17.00" x2="659.90" y2="17.90" stroke="#222" stroke-width="1.00"/><line x1="662.63" y1="17.00" x2="665.00" y2="17.30" stroke="#222" stroke-width="1.00"/><line x1="662.63" y1="17.00" x2="663.00" y2="15.80" stroke="#222" stroke-width="1.00"/><line x1="665.73" y1="14.90" x2="663.00" y2="15.80" stroke="#222" stroke-width="1.00"/><line x1="665.73" y1="14.90" x2="668.10" y2="15.20" stroke="#222" stroke-width="1.00"/><line x1="661.53" y1="20.60" x2="658.80" y2="21.50" stroke="#222" stroke-width="1.00"/><line x1="661.53" y1="20.60" x2="661.90" y2="19.40" stroke="#222" stroke-width="1.00"/><line x1="664.63" y1="18.50" x2="661.90" y2="19.40" stroke="#222" stroke-width="1.00"/><line x1="664.63" y1="18.50" x2="665.00" y2="17.30" stroke="#222" stroke-width="1.00"/><line x1="667.73" y1="16.40" x2="665.00" y2="17.30" stroke="#222" stroke-width="1.00"/><line x1="667.73" y1="16.40" x2="668.10" y2="15.20" stroke="#222" stroke-width="1.00"/><line x1="670.83" y1="14.30" x2="668.10" y2="15.20" stroke="#222" stroke-width="1.00"/><circle cx="618.00" cy="26.30" r="1.40" fill="#5a5e67" stroke="#222" stroke-width="0.35"/><circle cx="620.73" cy="25.40" r="1.40" fill="#5a5e67" stroke="#222" stroke-width="0.35"/><circle cx="621.10" cy="24.20" r="1.40" fill="#5a5e67" stroke="#222" stroke-width="0.35"/><circle cx="623.83" cy="23.30" r="1.40" fill="#5a5e67" stroke="#222" stroke-width="0.35"/><circle cx="624.20" cy="22.10" r="1.40" fill="#5a5e67" stroke="#222" stroke-width="0.35"/><circle cx="626.93" cy="21.20" r="1.40" fill="#5a5e67" stroke="#222" stroke-width="0.35"/><circle cx="627.30" cy="20.00" r="1.40" fill="#5a5e67" stroke="#222" stroke-width="0.35"/><circle cx="630.03" cy="19.10" r="1.40" fill="#5a5e67" stroke="#222" stroke-width="0.35"/><circle cx="623.10" cy="25.70" r="1.40" fill="#5a5e67" stroke="#222" stroke-width="0.35"/><circle cx="625.83" cy="24.80" r="1.40" fill="#5a5e67" stroke="#222" stroke-width="0.35"/><circle cx="626.20" cy="23.60" r="1.40" fill="#5a5e67" stroke="#222" stroke-width="0.35"/><circle cx="628.93" cy="22.70" r="1.40" fill="#5a5e67" stroke="#222" stroke-width="0.35"/><circle cx="629.30" cy="21.50" r="1.40" fill="#5a5e67" stroke="#222" stroke-width="0.35"/><circle cx="632.03" cy="20.60" r="1.40" fill="#5a5e67" stroke="#222" stroke-width="0.35"/><circle cx="632.40" cy="19.40" r="1.40" fill="#5a5e67" stroke="#222" stroke-width="0.35"/><circle cx="635.13" cy="18.50" r="1.40" fill="#5a5e67" stroke="#222" stroke-width="0.35"/><circle cx="628.20" cy="25.10" r="1.40" fill="#5a5e67" stroke="#222" stroke-width="0.35"/><circle cx="630.93" cy="24.20" r="1.40" fill="#5a5e67" stroke="#222" stroke-width="0.35"/><circle cx="631.30" cy="23.00" r="1.40" fill="#5a5e67" stroke="#222" stroke-width="0.35"/><circle cx="634.03" cy="22.10" r="1.40" fill="#5a5e67" stroke="#222" stroke-width="0.35"/><circle cx="634.40" cy="20.90" r="1.40" fill="#5a5e67" stroke="#222" stroke-width="0.35"/><circle cx="637.13" cy="20.00" r="1.40" fill="#5a5e67" stroke="#222" stroke-width="0.35"/><circle cx="637.50" cy="18.80" r="1.40" fill="#5a5e67" stroke="#222" stroke-width="0.35"/><circle cx="640.23" cy="17.90" r="1.40" fill="#5a5e67" stroke="#222" stroke-width="0.35"/><circle cx="633.30" cy="24.50" r="1.40" fill="#5a5e67" stroke="#222" stroke-width="0.35"/><circle cx="636.03" cy="23.60" r="1.40" fill="#5a5e67" stroke="#222" stroke-width="0.35"/><circle cx="636.40" cy="22.40" r="1.40" fill="#5a5e67" stroke="#222" stroke-width="0.35"/><circle cx="639.13" cy="21.50" r="1.40" fill="#5a5e67" stroke="#222" stroke-width="0.35"/><circle cx="639.50" cy="20.30" r="1.40" fill="#5a5e67" stroke="#222" stroke-width="0.35"/><circle cx="642.23" cy="19.40" r="1.40" fill="#5a5e67" stroke="#222" stroke-width="0.35"/><circle cx="642.60" cy="18.20" r="1.40" fill="#5a5e67" stroke="#222" stroke-width="0.35"/><circle cx="645.33" cy="17.30" r="1.40" fill="#5a5e67" stroke="#222" stroke-width="0.35"/><circle cx="638.40" cy="23.90" r="1.40" fill="#5a5e67" stroke="#222" stroke-width="0.35"/><circle cx="641.13" cy="23.00" r="1.40" fill="#5a5e67" stroke="#222" stroke-width="0.35"/><circle cx="641.50" cy="21.80" r="1.40" fill="#5a5e67" stroke="#222" stroke-width="0.35"/><circle cx="644.23" cy="20.90" r="1.40" fill="#5a5e67" stroke="#222" stroke-width="0.35"/><circle cx="644.60" cy="19.70" r="1.40" fill="#5a5e67" stroke="#222" stroke-width="0.35"/><circle cx="647.33" cy="18.80" r="1.40" fill="#5a5e67" stroke="#222" stroke-width="0.35"/><circle cx="647.70" cy="17.60" r="1.40" fill="#5a5e67" stroke="#222" stroke-width="0.35"/><circle cx="650.43" cy="16.70" r="1.40" fill="#5a5e67" stroke="#222" stroke-width="0.35"/><circle cx="643.50" cy="23.30" r="1.40" fill="#5a5e67" stroke="#222" stroke-width="0.35"/><circle cx="646.23" cy="22.40" r="1.40" fill="#5a5e67" stroke="#222" stroke-width="0.35"/><circle cx="646.60" cy="21.20" r="1.40" fill="#5a5e67" stroke="#222" stroke-width="0.35"/><circle cx="649.33" cy="20.30" r="1.40" fill="#5a5e67" stroke="#222" stroke-width="0.35"/><circle cx="649.70" cy="19.10" r="1.40" fill="#5a5e67" stroke="#222" stroke-width="0.35"/><circle cx="652.43" cy="18.20" r="1.40" fill="#5a5e67" stroke="#222" stroke-width="0.35"/><circle cx="652.80" cy="17.00" r="1.40" fill="#5a5e67" stroke="#222" stroke-width="0.35"/><circle cx="655.53" cy="16.10" r="1.40" fill="#5a5e67" stroke="#222" stroke-width="0.35"/><circle cx="648.60" cy="22.70" r="1.40" fill="#5a5e67" stroke="#222" stroke-width="0.35"/><circle cx="651.33" cy="21.80" r="1.40" fill="#5a5e67" stroke="#222" stroke-width="0.35"/><circle cx="651.70" cy="20.60" r="1.40" fill="#5a5e67" stroke="#222" stroke-width="0.35"/><circle cx="654.43" cy="19.70" r="1.40" fill="#5a5e67" stroke="#222" stroke-width="0.35"/><circle cx="654.80" cy="18.50" r="1.40" fill="#5a5e67" stroke="#222" stroke-width="0.35"/><circle cx="657.53" cy="17.60" r="1.40" fill="#5a5e67" stroke="#222" stroke-width="0.35"/><circle cx="657.90" cy="16.40" r="1.40" fill="#5a5e67" stroke="#222" stroke-width="0.35"/><circle cx="660.63" cy="15.50" r="1.40" fill="#5a5e67" stroke="#222" stroke-width="0.35"/><circle cx="653.70" cy="22.10" r="1.40" fill="#5a5e67" stroke="#222" stroke-width="0.35"/><circle cx="656.43" cy="21.20" r="1.40" fill="#5a5e67" stroke="#222" stroke-width="0.35"/><circle cx="656.80" cy="20.00" r="1.40" fill="#5a5e67" stroke="#222" stroke-width="0.35"/><circle cx="659.53" cy="19.10" r="1.40" fill="#5a5e67" stroke="#222" stroke-width="0.35"/><circle cx="659.90" cy="17.90" r="1.40" fill="#5a5e67" stroke="#222" stroke-width="0.35"/><circle cx="662.63" cy="17.00" r="1.40" fill="#5a5e67" stroke="#222" stroke-width="0.35"/><circle cx="663.00" cy="15.80" r="1.40" fill="#5a5e67" stroke="#222" stroke-width="0.35"/><circle cx="665.73" cy="14.90" r="1.40" fill="#5a5e67" stroke="#222" stroke-width="0.35"/><circle cx="658.80" cy="21.50" r="1.40" fill="#5a5e67" stroke="#222" stroke-width="0.35"/><circle cx="661.53" cy="20.60" r="1.40" fill="#5a5e67" stroke="#222" stroke-width="0.35"/><circle cx="661.90" cy="19.40" r="1.40" fill="#5a5e67" stroke="#222" stroke-width="0.35"/><circle cx="664.63" cy="18.50" r="1.40" fill="#5a5e67" stroke="#222" stroke-width="0.35"/><circle cx="665.00" cy="17.30" r="1.40" fill="#5a5e67" stroke="#222" stroke-width="0.35"/><circle cx="667.73" cy="16.40" r="1.40" fill="#5a5e67" stroke="#222" stroke-width="0.35"/><circle cx="668.10" cy="15.20" r="1.40" fill="#5a5e67" stroke="#222" stroke-width="0.35"/><circle cx="670.83" cy="14.30" r="1.40" fill="#5a5e67" stroke="#222" stroke-width="0.35"/><circle cx="674.50" cy="3.90" r="1.45" fill="#f26d5b" stroke="#222" stroke-width="0.45"/><circle cx="669.10" cy="7.00" r="1.45" fill="#f26d5b" stroke="#222" stroke-width="0.45"/><circle cx="663.90" cy="4.70" r="1.45" fill="#f26d5b" stroke="#222" stroke-width="0.45"/><circle cx="663.90" cy="10.10" r="1.45" fill="#f26d5b" stroke="#222" stroke-width="0.45"/><circle cx="658.80" cy="7.60" r="1.45" fill="#f26d5b" stroke="#222" stroke-width="0.45"/><circle cx="658.80" cy="12.80" r="1.45" fill="#f26d5b" stroke="#222" stroke-width="0.45"/><circle cx="653.60" cy="5.40" r="1.45" fill="#f26d5b" stroke="#222" stroke-width="0.45"/><circle cx="653.60" cy="10.60" r="1.45" fill="#f26d5b" stroke="#222" stroke-width="0.45"/><circle cx="653.60" cy="16.20" r="1.45" fill="#f26d5b" stroke="#222" stroke-width="0.45"/><circle cx="648.40" cy="8.40" r="1.45" fill="#f26d5b" stroke="#222" stroke-width="0.45"/><circle cx="648.40" cy="13.40" r="1.45" fill="#f26d5b" stroke="#222" stroke-width="0.45"/><circle cx="643.20" cy="6.50" r="1.45" fill="#f26d5b" stroke="#222" stroke-width="0.45"/><circle cx="643.20" cy="11.50" r="1.45" fill="#f26d5b" stroke="#222" stroke-width="0.45"/><circle cx="643.20" cy="16.80" r="1.45" fill="#f26d5b" stroke="#222" stroke-width="0.45"/><circle cx="637.90" cy="9.50" r="1.45" fill="#f26d5b" stroke="#222" stroke-width="0.45"/><circle cx="637.90" cy="14.50" r="1.45" fill="#f26d5b" stroke="#222" stroke-width="0.45"/><circle cx="632.80" cy="7.50" r="1.45" fill="#f26d5b" stroke="#222" stroke-width="0.45"/><circle cx="632.80" cy="12.30" r="1.45" fill="#f26d5b" stroke="#222" stroke-width="0.45"/><circle cx="632.80" cy="17.30" r="1.45" fill="#f26d5b" stroke="#222" stroke-width="0.45"/><circle cx="627.60" cy="10.60" r="1.45" fill="#f26d5b" stroke="#222" stroke-width="0.45"/><circle cx="627.60" cy="15.40" r="1.45" fill="#f26d5b" stroke="#222" stroke-width="0.45"/><circle cx="622.50" cy="13.40" r="1.45" fill="#f26d5b" stroke="#222" stroke-width="0.45"/><circle cx="622.50" cy="18.40" r="1.45" fill="#f26d5b" stroke="#222" stroke-width="0.45"/><circle cx="617.50" cy="16.20" r="1.45" fill="#f26d5b" stroke="#222" stroke-width="0.45"/><circle cx="612.50" cy="19.20" r="1.45" fill="#f26d5b" stroke="#222" stroke-width="0.45"/>
<line x1="29.50" y1="378.70" x2="325.50" y2="378.70" stroke="#9a9a9a" stroke-width="1.1"/>
<line x1="154.50" y1="268.00" x2="154.50" y2="488.60" stroke="#333" stroke-width="0.8" stroke-dasharray="2.2,1.6"/>
<line x1="217.00" y1="268.00" x2="217.00" y2="488.60" stroke="#333" stroke-width="0.8" stroke-dasharray="2.2,1.6"/>
<g clip-path="url(#clipc)">
<path d="M27.50,409.12 C27.85,408.82 26.85,409.69 29.60,407.30 C32.35,404.91 38.93,399.27 44.00,394.80 C49.07,390.33 54.68,385.37 60.00,380.50 C65.32,375.63 70.58,370.48 75.90,365.60 C81.22,360.72 87.10,355.53 91.90,351.20 C96.70,346.87 100.02,343.75 104.70,339.60 C109.38,335.45 115.78,329.98 120.00,326.30 C124.22,322.62 127.33,319.85 130.00,317.50 C132.67,315.15 133.67,314.32 136.00,312.20 C138.33,310.08 140.92,307.43 144.00,304.80 C147.08,302.17 151.33,298.95 154.50,296.40 C157.67,293.85 160.42,291.63 163.00,289.50 C165.58,287.37 166.52,286.35 170.00,283.60 C173.48,280.85 180.25,275.57 183.90,273.00 C187.55,270.43 189.88,269.53 191.90,268.20 C193.92,266.87 195.32,265.53 196.00,265.00" fill="none" stroke="#f98c7c" stroke-width="9.80" stroke-linecap="round" stroke-linejoin="round"/>
<path d="M27.50,408.53 C27.85,408.86 27.92,408.92 29.60,410.50 C31.28,412.08 35.03,415.55 37.60,418.00 C40.17,420.45 40.93,421.17 45.00,425.20 C49.07,429.23 56.35,436.52 62.00,442.20 C67.65,447.88 73.25,453.67 78.90,459.30 C84.55,464.93 90.67,471.15 95.90,476.00 C101.13,480.85 107.45,485.90 110.30,488.40 C113.15,490.90 112.55,490.57 113.00,491.00" fill="none" stroke="#f98c7c" stroke-width="9.00" stroke-linecap="round" stroke-linejoin="round"/>
<path d="M27.50,391.24 C27.85,391.23 27.52,391.24 29.60,391.20 C31.68,391.16 36.60,391.23 40.00,391.00 C43.40,390.77 46.67,390.38 50.00,389.80 C53.33,389.22 56.67,388.42 60.00,387.50 C63.33,386.58 66.67,385.50 70.00,384.30 C73.33,383.10 76.67,381.82 80.00,380.30 C83.33,378.78 86.67,377.08 90.00,375.20 C93.33,373.32 96.67,371.20 100.00,369.00 C103.33,366.80 106.67,364.37 110.00,362.00 C113.33,359.63 116.67,357.33 120.00,354.80 C123.33,352.27 126.27,349.93 130.00,346.80 C133.73,343.67 139.40,338.72 142.40,336.00 C145.40,333.28 145.98,332.47 148.00,330.50 C150.02,328.53 153.42,325.25 154.50,324.20" fill="none" stroke="#ff00ff" stroke-width="7.00" stroke-linecap="round" stroke-linejoin="round"/>
<path d="M136.00,266.00 C136.40,266.37 137.60,267.43 138.40,268.20 C139.20,268.97 139.78,268.88 140.80,270.60 C141.82,272.32 143.17,275.97 144.50,278.50 C145.83,281.03 147.13,282.88 148.80,285.80 C150.47,288.72 152.80,292.97 154.50,296.00 C156.20,299.03 157.58,301.42 159.00,304.00 C160.42,306.58 161.83,309.08 163.00,311.50 C164.17,313.92 164.83,316.00 166.00,318.50 C167.17,321.00 168.67,323.83 170.00,326.50 C171.33,329.17 172.67,332.00 174.00,334.50 C175.33,337.00 177.33,340.33 178.00,341.50" fill="none" stroke="#f98c7c" stroke-width="6.20" stroke-linecap="round" stroke-linejoin="round"/>
<path d="M182.00,348.00 C182.75,349.00 184.92,352.15 186.50,354.00 C188.08,355.85 189.75,357.40 191.50,359.10 C193.25,360.80 195.13,362.60 197.00,364.20 C198.87,365.80 200.87,367.52 202.70,368.70 C204.53,369.88 206.13,370.63 208.00,371.30 C209.87,371.97 212.40,372.37 213.90,372.70 C215.40,373.03 213.98,373.35 217.00,373.30 C220.02,373.25 226.68,372.27 232.00,372.40 C237.32,372.53 243.25,373.12 248.90,374.10 C254.55,375.08 260.25,376.60 265.90,378.30 C271.55,380.00 277.15,382.32 282.80,384.30 C288.45,386.28 295.55,388.52 299.80,390.20 C304.05,391.88 305.47,392.57 308.30,394.40 C311.13,396.23 313.92,398.93 316.80,401.20 C319.68,403.47 323.82,406.62 325.60,408.00 C327.38,409.38 327.18,409.22 327.50,409.47" fill="none" stroke="#f98c7c" stroke-width="7.00" stroke-linecap="round" stroke-linejoin="round"/>
<path d="M135.50,266.00 C135.98,266.37 137.52,267.43 138.40,268.20 C139.28,268.97 139.95,270.60 140.80,270.60 C141.65,270.60 142.63,268.97 143.50,268.20 C144.37,267.43 145.58,266.37 146.00,266.00" fill="none" stroke="#f98c7c" stroke-width="7.00" stroke-linecap="round" stroke-linejoin="round"/>
<path d="M27.50,319.42 C27.85,319.40 26.85,319.45 29.60,319.30 C32.35,319.15 38.93,319.30 44.00,318.50 C49.07,317.70 54.68,316.50 60.00,314.50 C65.32,312.50 70.58,309.17 75.90,306.50 C81.22,303.83 87.07,301.00 91.90,298.50 C96.73,296.00 101.55,292.82 104.90,291.50 C108.25,290.18 110.82,290.75 112.00,290.60" fill="none" stroke="#f98c7c" stroke-width="4.50" stroke-linecap="round" stroke-linejoin="round"/>
<path d="M140.40,275.30 C141.00,275.92 142.60,277.13 144.00,279.00 C145.40,280.87 147.05,283.57 148.80,286.50 C150.55,289.43 152.92,293.93 154.50,296.60 C156.08,299.27 157.22,300.77 158.30,302.50 C159.38,304.23 160.05,305.33 161.00,307.00 C161.95,308.67 163.50,311.58 164.00,312.50" fill="none" stroke="#fba696" stroke-width="5.00" stroke-linecap="round" stroke-linejoin="round"/>
<path d="M27.50,337.82 C27.85,337.80 26.85,337.85 29.60,337.70 C32.35,337.55 38.93,337.70 44.00,336.90 C49.07,336.10 54.68,334.77 60.00,332.90 C65.32,331.03 70.58,328.50 75.90,325.70 C81.22,322.90 87.52,318.72 91.90,316.10 C96.28,313.48 99.28,311.93 102.20,310.00 C105.12,308.07 107.15,306.02 109.40,304.50 C111.65,302.98 113.93,301.65 115.70,300.90 C117.47,300.15 119.28,300.15 120.00,300.00" fill="none" stroke="#f98c7c" stroke-width="4.80" stroke-linecap="round" stroke-linejoin="round"/>
<path d="M120.00,300.00 C121.00,300.42 124.33,301.67 126.00,302.50 C127.67,303.33 127.67,303.75 130.00,305.00 C132.33,306.25 137.17,308.67 140.00,310.00 C142.83,311.33 145.83,312.50 147.00,313.00" fill="none" stroke="#f98c7c" stroke-width="5.00" stroke-linecap="round" stroke-linejoin="round"/>
<path d="M154.50,314.20 C155.42,313.75 157.77,313.20 160.00,311.50 C162.23,309.80 165.25,306.83 167.90,304.00 C170.55,301.17 173.23,297.58 175.90,294.50 C178.57,291.42 181.23,287.87 183.90,285.50 C186.57,283.13 189.22,281.47 191.90,280.30 C194.58,279.13 196.98,278.88 200.00,278.50 C203.02,278.12 207.10,278.17 210.00,278.00 C212.90,277.83 216.17,277.58 217.40,277.50" fill="none" stroke="#ff00ff" stroke-width="5.50" stroke-linecap="round" stroke-linejoin="round"/>
<path d="M89.70,267.00 C90.75,268.17 93.47,271.33 96.00,274.00 C98.53,276.67 101.92,280.02 104.90,283.00 C107.88,285.98 110.90,289.07 113.90,291.90 C116.90,294.73 120.55,297.90 122.90,300.00 C125.25,302.10 125.82,302.70 128.00,304.50 C130.18,306.30 133.17,308.63 136.00,310.80 C138.83,312.97 141.92,315.33 145.00,317.50 C148.08,319.67 151.17,321.88 154.50,323.80 C157.83,325.72 161.58,327.47 165.00,329.00 C168.42,330.53 171.85,331.75 175.00,333.00 C178.15,334.25 181.40,335.62 183.90,336.50 C186.40,337.38 187.33,337.55 190.00,338.30 C192.67,339.05 195.40,340.17 199.90,341.00 C204.40,341.83 214.15,342.92 217.00,343.30" fill="none" stroke="#ff00ff" stroke-width="6.80" stroke-linecap="round" stroke-linejoin="round"/>
<path d="M91.00,268.00 C91.83,268.75 93.83,270.42 96.00,272.50 C98.17,274.58 101.67,278.17 104.00,280.50 C106.33,282.83 107.85,284.53 110.00,286.50 C112.15,288.47 114.57,290.30 116.90,292.30 C119.23,294.30 121.82,296.88 124.00,298.50 C126.18,300.12 127.83,300.83 130.00,302.00 C132.17,303.17 135.83,304.92 137.00,305.50" fill="none" stroke="#ff00ff" stroke-width="9.00" stroke-linecap="round" stroke-linejoin="round"/>
<path d="M154.50,323.80 C155.42,323.83 158.08,323.83 160.00,324.00 C161.92,324.17 163.67,324.33 166.00,324.80 C168.33,325.27 171.33,326.13 174.00,326.80 C176.67,327.47 179.33,328.22 182.00,328.80 C184.67,329.38 187.35,329.90 190.00,330.30 C192.65,330.70 194.57,330.93 197.90,331.20 C201.23,331.47 206.82,331.77 210.00,331.90 C213.18,332.03 214.83,332.65 217.00,332.00 C219.17,331.35 220.83,329.60 223.00,328.00 C225.17,326.40 227.50,324.57 230.00,322.40 C232.50,320.23 235.75,317.15 238.00,315.00 C240.25,312.85 241.50,311.58 243.50,309.50 C245.50,307.42 247.75,304.28 250.00,302.50 C252.25,300.72 255.83,299.42 257.00,298.80" fill="none" stroke="#ff00ff" stroke-width="6.50" stroke-linecap="round" stroke-linejoin="round"/>
<path d="M154.50,323.80 C155.42,323.83 158.08,323.83 160.00,324.00 C161.92,324.17 163.67,324.33 166.00,324.80 C168.33,325.27 171.33,326.13 174.00,326.80 C176.67,327.47 179.33,328.22 182.00,328.80 C184.67,329.38 187.35,329.90 190.00,330.30 C192.65,330.70 194.57,330.93 197.90,331.20 C201.23,331.47 206.82,331.77 210.00,331.90 C213.18,332.03 215.83,331.98 217.00,332.00" fill="none" stroke="#f98c7c" stroke-width="2.60" stroke-linecap="round" stroke-linejoin="round"/>
<path d="M257.00,298.80 C258.33,299.05 260.82,298.97 265.00,300.30 C269.18,301.63 276.45,304.60 282.10,306.80 C287.75,309.00 293.92,311.80 298.90,313.50 C303.88,315.20 307.60,316.13 312.00,317.00 C316.40,317.87 322.72,318.37 325.30,318.70 C327.88,319.03 327.13,318.93 327.50,318.98" fill="none" stroke="#f98c7c" stroke-width="5.50" stroke-linecap="round" stroke-linejoin="round"/>
<path d="M217.00,343.30 C219.50,344.75 226.68,348.85 232.00,352.00 C237.32,355.15 243.82,359.08 248.90,362.20 C253.98,365.32 256.85,367.58 262.50,370.70 C268.15,373.82 279.42,379.20 282.80,380.90" fill="none" stroke="#ff00ff" stroke-width="7.00" stroke-linecap="round" stroke-linejoin="round"/>
<path d="M262.50,370.70 C265.88,372.40 276.58,378.07 282.80,380.90 C289.02,383.73 296.97,386.57 299.80,387.70" fill="none" stroke="#f98c7c" stroke-width="7.00" stroke-linecap="round" stroke-linejoin="round"/>
<path d="M299.80,387.70 C301.50,388.12 305.70,389.65 310.00,390.20 C314.30,390.75 322.68,390.85 325.60,391.00 C328.52,391.15 327.18,391.08 327.50,391.10" fill="none" stroke="#ff00ff" stroke-width="7.00" stroke-linecap="round" stroke-linejoin="round"/>
<path d="M246.90,309.50 C248.25,310.25 251.92,312.47 255.00,314.00 C258.08,315.53 260.88,316.52 265.40,318.70 C269.92,320.88 276.52,324.87 282.10,327.10 C287.68,329.33 294.25,330.78 298.90,332.10 C303.55,333.42 305.60,334.15 310.00,335.00 C314.40,335.85 322.38,336.78 325.30,337.20 C328.22,337.62 327.13,337.46 327.50,337.52" fill="none" stroke="#f98c7c" stroke-width="5.50" stroke-linecap="round" stroke-linejoin="round"/>
<path d="M217.50,266.00 C217.65,266.40 217.15,266.65 218.40,268.40 C219.65,270.15 222.77,273.72 225.00,276.50 C227.23,279.28 229.63,282.02 231.80,285.10 C233.97,288.18 235.77,291.35 238.00,295.00 C240.23,298.65 243.03,303.50 245.20,307.00 C247.37,310.50 249.03,312.93 251.00,316.00 C252.97,319.07 254.67,322.15 257.00,325.40 C259.33,328.65 262.48,332.23 265.00,335.50 C267.52,338.77 270.53,342.83 272.10,345.00 C273.67,347.17 272.58,345.83 274.40,348.50 C276.22,351.17 280.18,356.82 283.00,361.00 C285.82,365.18 288.63,369.77 291.30,373.60 C293.97,377.43 296.45,380.80 299.00,384.00 C301.55,387.20 303.63,389.97 306.60,392.80 C309.57,395.63 313.63,398.60 316.80,401.00 C319.97,403.40 323.82,405.94 325.60,407.20 C327.38,408.46 327.18,408.32 327.50,408.54" fill="none" stroke="#f98c7c" stroke-width="7.00" stroke-linecap="round" stroke-linejoin="round"/>
<path d="M254.50,290.00 C255.42,289.75 258.25,289.25 260.00,288.50 C261.75,287.75 262.95,286.70 265.00,285.50 C267.05,284.30 269.80,282.55 272.30,281.30 C274.80,280.05 278.72,278.55 280.00,278.00" fill="none" stroke="#ff00ff" stroke-width="5.50" stroke-linecap="round" stroke-linejoin="round"/>
<path d="M27.50,291.51 C27.83,291.49 26.50,291.57 29.50,291.40 C32.50,291.23 40.65,290.87 45.50,290.50 C50.35,290.13 54.52,289.78 58.60,289.20 C62.68,288.62 66.50,287.82 70.00,287.00 C73.50,286.18 76.77,285.25 79.60,284.30 C82.43,283.35 84.27,282.12 87.00,281.30 C89.73,280.48 93.62,279.62 96.00,279.40 C98.38,279.18 99.82,279.63 101.30,280.00 C102.78,280.37 104.30,281.33 104.90,281.60" fill="none" stroke="#f98c7c" stroke-width="4.50" stroke-linecap="round" stroke-linejoin="round"/>
<path d="M104.90,281.60 C105.42,281.72 106.82,282.37 108.00,282.30 C109.18,282.23 110.67,281.75 112.00,281.20 C113.33,280.65 114.48,279.90 116.00,279.00 C117.52,278.10 119.60,276.97 121.10,275.80 C122.60,274.63 123.85,273.20 125.00,272.00 C126.15,270.80 127.17,269.60 128.00,268.60 C128.83,267.60 129.67,266.43 130.00,266.00" fill="none" stroke="#f98c7c" stroke-width="4.00" stroke-linecap="round" stroke-linejoin="round"/>
<path d="M27.50,293.20 C27.83,293.18 26.50,293.25 29.50,293.10 C32.50,292.95 39.92,292.88 45.50,292.30 C51.08,291.72 58.58,290.40 63.00,289.60 C67.42,288.80 69.23,288.22 72.00,287.50 C74.77,286.78 78.33,285.67 79.60,285.30" fill="none" stroke="#f98c7c" stroke-width="4.50" stroke-linecap="round" stroke-linejoin="round"/>
<path d="M180.00,491.00 C180.33,490.57 180.12,490.48 182.00,488.40 C183.88,486.32 188.05,481.57 191.30,478.50 C194.55,475.43 198.38,472.08 201.50,470.00 C204.62,467.92 207.45,466.78 210.00,466.00 C212.55,465.22 212.80,465.58 216.80,465.30 C220.80,465.02 227.97,465.18 234.00,464.30 C240.03,463.42 246.67,462.25 253.00,460.00 C259.33,457.75 265.67,454.25 272.00,450.80 C278.33,447.35 284.68,443.52 291.00,439.30 C297.32,435.08 304.23,430.15 309.90,425.50 C315.57,420.85 322.07,414.14 325.00,411.40 C327.93,408.66 327.08,409.45 327.50,409.07" fill="none" stroke="#f98c7c" stroke-width="6.80" stroke-linecap="round" stroke-linejoin="round"/>
<path d="M257.00,491.00 C257.43,490.53 257.10,491.35 259.60,488.20 C262.10,485.05 266.77,478.90 272.00,472.10 C277.23,465.30 284.68,454.98 291.00,447.40 C297.32,439.82 304.23,432.60 309.90,426.60 C315.57,420.60 322.07,414.35 325.00,411.40 C327.93,408.45 327.08,409.30 327.50,408.88" fill="none" stroke="#f98c7c" stroke-width="6.20" stroke-linecap="round" stroke-linejoin="round"/>
<path d="M27.50,472.10 C27.85,472.16 27.52,472.10 29.60,472.50 C31.68,472.90 36.60,473.33 40.00,474.50 C43.40,475.67 46.67,477.58 50.00,479.50 C53.33,481.42 57.50,484.25 60.00,486.00 C62.50,487.75 64.17,489.33 65.00,490.00" fill="none" stroke="#ff00ff" stroke-width="7.50" stroke-linecap="round" stroke-linejoin="round"/>
<path d="M27.50,471.02 C27.85,471.10 26.68,470.84 29.60,471.50 C32.52,472.16 39.93,473.42 45.00,475.00 C50.07,476.58 55.50,479.08 60.00,481.00 C64.50,482.92 68.67,484.83 72.00,486.50 C75.33,488.17 78.67,490.25 80.00,491.00" fill="none" stroke="#ff00ff" stroke-width="7.50" stroke-linecap="round" stroke-linejoin="round"/>
<path d="M27.50,474.88 C27.85,474.98 27.85,474.98 29.60,475.50 C31.35,476.02 35.27,476.58 38.00,478.00 C40.73,479.42 43.67,482.00 46.00,484.00 C48.33,486.00 51.00,489.00 52.00,490.00" fill="none" stroke="#ff00ff" stroke-width="6.00" stroke-linecap="round" stroke-linejoin="round"/>
<path d="M327.50,471.67 C327.13,471.72 327.88,471.61 325.30,472.00 C322.72,472.39 316.22,472.83 312.00,474.00 C307.78,475.17 304.00,477.08 300.00,479.00 C296.00,480.92 291.67,483.50 288.00,485.50 C284.33,487.50 279.67,490.08 278.00,491.00" fill="none" stroke="#ff00ff" stroke-width="7.50" stroke-linecap="round" stroke-linejoin="round"/>
<path d="M327.50,473.97 C327.13,474.06 327.38,473.99 325.30,474.50 C323.22,475.01 318.05,475.75 315.00,477.00 C311.95,478.25 309.50,479.83 307.00,482.00 C304.50,484.17 301.17,488.67 300.00,490.00" fill="none" stroke="#ff00ff" stroke-width="6.00" stroke-linecap="round" stroke-linejoin="round"/>
<path d="M258.60,268.40 C259.50,268.58 262.03,269.08 264.00,269.50 C265.97,269.92 269.33,270.67 270.40,270.90" fill="none" stroke="#ff00ff" stroke-width="5.00" stroke-linecap="round" stroke-linejoin="round"/>
<path d="M154.50,323.80 C155.08,323.63 156.88,323.03 158.00,322.80 C159.12,322.57 160.03,322.28 161.20,322.40 C162.37,322.52 163.67,322.83 165.00,323.50 C166.33,324.17 167.87,325.23 169.20,326.40 C170.53,327.57 171.67,328.90 173.00,330.50 C174.33,332.10 176.03,334.17 177.20,336.00 C178.37,337.83 179.15,339.50 180.00,341.50 C180.85,343.50 181.22,345.92 182.30,348.00 C183.38,350.08 184.97,352.15 186.50,354.00 C188.03,355.85 189.75,357.40 191.50,359.10 C193.25,360.80 196.08,363.35 197.00,364.20" fill="none" stroke="#000" stroke-width="1.3" stroke-linejoin="round"/>
<path d="M27.50,392.88 C27.85,392.85 27.85,392.85 29.60,392.70 C31.35,392.55 35.60,392.28 38.00,392.00 C40.40,391.72 42.20,391.28 44.00,391.00 C45.80,390.72 46.97,391.30 48.80,390.30 C50.63,389.30 53.13,386.67 55.00,385.00 C56.87,383.33 59.17,381.08 60.00,380.30" fill="none" stroke="#000" stroke-width="1.3" stroke-linejoin="round"/>
<path d="M27.50,391.24 C27.85,391.23 27.52,391.24 29.60,391.20 C31.68,391.16 36.60,391.23 40.00,391.00 C43.40,390.77 46.67,390.38 50.00,389.80 C53.33,389.22 56.67,388.42 60.00,387.50 C63.33,386.58 66.67,385.50 70.00,384.30 C73.33,383.10 76.67,381.82 80.00,380.30 C83.33,378.78 86.67,377.08 90.00,375.20 C93.33,373.32 96.67,371.20 100.00,369.00 C103.33,366.80 106.67,364.37 110.00,362.00 C113.33,359.63 116.67,357.33 120.00,354.80 C123.33,352.27 126.27,349.93 130.00,346.80 C133.73,343.67 139.40,338.72 142.40,336.00 C145.40,333.28 145.98,332.47 148.00,330.50 C150.02,328.53 153.42,325.25 154.50,324.20" fill="none" stroke="#000" stroke-width="1.3" stroke-linejoin="round"/>
<path d="M136.00,266.00 C136.40,266.37 137.60,267.43 138.40,268.20 C139.20,268.97 139.78,268.88 140.80,270.60 C141.82,272.32 143.17,275.97 144.50,278.50 C145.83,281.03 147.13,282.88 148.80,285.80 C150.47,288.72 152.80,292.97 154.50,296.00 C156.20,299.03 157.58,301.42 159.00,304.00 C160.42,306.58 161.83,309.08 163.00,311.50 C164.17,313.92 164.83,316.00 166.00,318.50 C167.17,321.00 168.67,323.83 170.00,326.50 C171.33,329.17 172.67,332.00 174.00,334.50 C175.33,337.00 176.67,339.25 178.00,341.50 C179.33,343.75 180.58,345.92 182.00,348.00 C183.42,350.08 184.92,352.15 186.50,354.00 C188.08,355.85 189.75,357.40 191.50,359.10 C193.25,360.80 195.13,362.60 197.00,364.20 C198.87,365.80 200.87,367.52 202.70,368.70 C204.53,369.88 206.13,370.63 208.00,371.30 C209.87,371.97 212.40,372.37 213.90,372.70 C215.40,373.03 213.98,373.35 217.00,373.30 C220.02,373.25 226.68,372.27 232.00,372.40 C237.32,372.53 243.25,373.12 248.90,374.10 C254.55,375.08 260.25,376.60 265.90,378.30 C271.55,380.00 277.15,382.32 282.80,384.30 C288.45,386.28 295.55,388.52 299.80,390.20 C304.05,391.88 305.47,392.57 308.30,394.40 C311.13,396.23 313.92,398.93 316.80,401.20 C319.68,403.47 323.82,406.62 325.60,408.00 C327.38,409.38 327.18,409.22 327.50,409.47" fill="none" stroke="#000" stroke-width="1.3" stroke-linejoin="round"/>
<path d="M27.50,319.42 C27.85,319.40 26.85,319.45 29.60,319.30 C32.35,319.15 38.93,319.30 44.00,318.50 C49.07,317.70 54.68,316.50 60.00,314.50 C65.32,312.50 70.58,309.17 75.90,306.50 C81.22,303.83 87.07,301.00 91.90,298.50 C96.73,296.00 101.55,292.82 104.90,291.50 C108.25,290.18 109.75,290.72 112.00,290.60 C114.25,290.48 116.58,291.15 118.40,290.80 C120.22,290.45 121.30,289.55 122.90,288.50 C124.50,287.45 125.82,286.15 128.00,284.50 C130.18,282.85 133.93,280.13 136.00,278.60 C138.07,277.07 139.67,275.85 140.40,275.30" fill="none" stroke="#000" stroke-width="1.3" stroke-linejoin="round"/>
<path d="M140.40,275.30 C141.00,275.92 142.60,277.13 144.00,279.00 C145.40,280.87 147.05,283.57 148.80,286.50 C150.55,289.43 152.92,293.93 154.50,296.60 C156.08,299.27 157.22,300.77 158.30,302.50 C159.38,304.23 160.05,305.33 161.00,307.00 C161.95,308.67 163.50,311.58 164.00,312.50" fill="none" stroke="#000" stroke-width="1.3" stroke-linejoin="round"/>
<path d="M27.50,337.82 C27.85,337.80 26.85,337.85 29.60,337.70 C32.35,337.55 38.93,337.70 44.00,336.90 C49.07,336.10 54.68,334.77 60.00,332.90 C65.32,331.03 70.58,328.50 75.90,325.70 C81.22,322.90 87.52,318.72 91.90,316.10 C96.28,313.48 99.28,311.93 102.20,310.00 C105.12,308.07 107.15,306.02 109.40,304.50 C111.65,302.98 113.93,301.65 115.70,300.90 C117.47,300.15 119.28,300.15 120.00,300.00" fill="none" stroke="#000" stroke-width="1.3" stroke-linejoin="round"/>
<path d="M120.00,300.00 C121.00,300.42 124.33,301.67 126.00,302.50 C127.67,303.33 127.67,303.75 130.00,305.00 C132.33,306.25 137.17,308.67 140.00,310.00 C142.83,311.33 144.58,312.30 147.00,313.00 C149.42,313.70 152.33,314.45 154.50,314.20 C156.67,313.95 157.77,313.20 160.00,311.50 C162.23,309.80 165.25,306.83 167.90,304.00 C170.55,301.17 173.23,297.58 175.90,294.50 C178.57,291.42 181.23,287.87 183.90,285.50 C186.57,283.13 189.22,281.47 191.90,280.30 C194.58,279.13 196.98,278.88 200.00,278.50 C203.02,278.12 207.10,278.17 210.00,278.00 C212.90,277.83 216.17,277.58 217.40,277.50" fill="none" stroke="#000" stroke-width="1.3" stroke-linejoin="round"/>
<path d="M89.70,267.00 C90.75,268.17 93.47,271.33 96.00,274.00 C98.53,276.67 101.92,280.02 104.90,283.00 C107.88,285.98 110.90,289.07 113.90,291.90 C116.90,294.73 120.55,297.90 122.90,300.00 C125.25,302.10 125.82,302.70 128.00,304.50 C130.18,306.30 133.17,308.63 136.00,310.80 C138.83,312.97 141.92,315.33 145.00,317.50 C148.08,319.67 151.17,321.88 154.50,323.80 C157.83,325.72 161.58,327.47 165.00,329.00 C168.42,330.53 171.85,331.75 175.00,333.00 C178.15,334.25 181.40,335.62 183.90,336.50 C186.40,337.38 187.33,337.55 190.00,338.30 C192.67,339.05 195.40,340.17 199.90,341.00 C204.40,341.83 214.15,342.92 217.00,343.30" fill="none" stroke="#000" stroke-width="1.3" stroke-linejoin="round"/>
<path d="M154.50,323.80 C155.42,323.83 158.08,323.83 160.00,324.00 C161.92,324.17 163.67,324.33 166.00,324.80 C168.33,325.27 171.33,326.13 174.00,326.80 C176.67,327.47 179.33,328.22 182.00,328.80 C184.67,329.38 187.35,329.90 190.00,330.30 C192.65,330.70 194.57,330.93 197.90,331.20 C201.23,331.47 206.82,331.77 210.00,331.90 C213.18,332.03 214.83,332.65 217.00,332.00 C219.17,331.35 220.83,329.60 223.00,328.00 C225.17,326.40 227.50,324.57 230.00,322.40 C232.50,320.23 235.75,317.15 238.00,315.00 C240.25,312.85 241.50,311.58 243.50,309.50 C245.50,307.42 247.75,304.28 250.00,302.50 C252.25,300.72 255.83,299.42 257.00,298.80" fill="none" stroke="#000" stroke-width="1.3" stroke-linejoin="round"/>
<path d="M257.00,298.80 C258.33,299.05 260.82,298.97 265.00,300.30 C269.18,301.63 276.45,304.60 282.10,306.80 C287.75,309.00 293.92,311.80 298.90,313.50 C303.88,315.20 307.60,316.13 312.00,317.00 C316.40,317.87 322.72,318.37 325.30,318.70 C327.88,319.03 327.13,318.93 327.50,318.98" fill="none" stroke="#000" stroke-width="1.3" stroke-linejoin="round"/>
<path d="M217.00,343.30 C219.50,344.75 226.68,348.85 232.00,352.00 C237.32,355.15 243.82,359.08 248.90,362.20 C253.98,365.32 256.85,367.58 262.50,370.70 C268.15,373.82 276.58,378.07 282.80,380.90 C289.02,383.73 295.27,386.15 299.80,387.70 C304.33,389.25 305.70,389.65 310.00,390.20 C314.30,390.75 322.68,390.85 325.60,391.00 C328.52,391.15 327.18,391.08 327.50,391.10" fill="none" stroke="#000" stroke-width="1.3" stroke-linejoin="round"/>
<path d="M246.90,309.50 C248.25,310.25 251.92,312.47 255.00,314.00 C258.08,315.53 260.88,316.52 265.40,318.70 C269.92,320.88 276.52,324.87 282.10,327.10 C287.68,329.33 294.25,330.78 298.90,332.10 C303.55,333.42 305.60,334.15 310.00,335.00 C314.40,335.85 322.38,336.78 325.30,337.20 C328.22,337.62 327.13,337.46 327.50,337.52" fill="none" stroke="#000" stroke-width="1.3" stroke-linejoin="round"/>
<path d="M217.50,266.00 C217.65,266.40 217.15,266.65 218.40,268.40 C219.65,270.15 222.77,273.72 225.00,276.50 C227.23,279.28 229.63,282.02 231.80,285.10 C233.97,288.18 235.77,291.35 238.00,295.00 C240.23,298.65 243.03,303.50 245.20,307.00 C247.37,310.50 249.03,312.93 251.00,316.00 C252.97,319.07 254.67,322.15 257.00,325.40 C259.33,328.65 262.48,332.23 265.00,335.50 C267.52,338.77 270.53,342.83 272.10,345.00 C273.67,347.17 272.58,345.83 274.40,348.50 C276.22,351.17 280.18,356.82 283.00,361.00 C285.82,365.18 288.63,369.77 291.30,373.60 C293.97,377.43 296.45,380.80 299.00,384.00 C301.55,387.20 303.63,389.97 306.60,392.80 C309.57,395.63 313.63,398.60 316.80,401.00 C319.97,403.40 323.82,405.94 325.60,407.20 C327.38,408.46 327.18,408.32 327.50,408.54" fill="none" stroke="#000" stroke-width="1.3" stroke-linejoin="round"/>
<path d="M223.00,266.00 C223.30,266.40 223.63,266.65 224.80,268.40 C225.97,270.15 228.13,273.48 230.00,276.50 C231.87,279.52 234.17,283.42 236.00,286.50 C237.83,289.58 239.18,291.32 241.00,295.00 C242.82,298.68 244.90,304.77 246.90,308.60 C248.90,312.43 250.98,314.77 253.00,318.00 C255.02,321.23 256.83,324.58 259.00,328.00 C261.17,331.42 263.82,335.50 266.00,338.50 C268.18,341.50 271.08,344.75 272.10,346.00" fill="none" stroke="#000" stroke-width="1.3" stroke-linejoin="round"/>
<path d="M160.00,266.00 C160.83,266.33 162.88,267.37 165.00,268.00 C167.12,268.63 169.55,269.23 172.70,269.80 C175.85,270.37 179.37,270.73 183.90,271.40 C188.43,272.07 195.55,273.25 199.90,273.80 C204.25,274.35 207.08,274.25 210.00,274.70 C212.92,275.15 214.90,275.62 217.40,276.50 C219.90,277.38 222.32,278.67 225.00,280.00 C227.68,281.33 231.00,283.25 233.50,284.50 C236.00,285.75 237.92,286.75 240.00,287.50 C242.08,288.25 243.58,288.58 246.00,289.00 C248.42,289.42 252.17,290.08 254.50,290.00 C256.83,289.92 258.25,289.25 260.00,288.50 C261.75,287.75 262.95,286.70 265.00,285.50 C267.05,284.30 269.80,282.55 272.30,281.30 C274.80,280.05 278.72,278.55 280.00,278.00" fill="none" stroke="#000" stroke-width="1.3" stroke-linejoin="round"/>
<path d="M247.00,266.00 C247.55,266.40 248.47,267.23 250.30,268.40 C252.13,269.57 255.55,271.57 258.00,273.00 C260.45,274.43 262.93,275.82 265.00,277.00 C267.07,278.18 267.90,278.77 270.40,280.10 C272.90,281.43 278.40,284.18 280.00,285.00" fill="none" stroke="#000" stroke-width="1.3" stroke-linejoin="round"/>
<path d="M27.50,297.66 C27.83,297.64 26.50,297.74 29.50,297.50 C32.50,297.26 40.65,296.93 45.50,296.20 C50.35,295.47 54.65,294.33 58.60,293.10 C62.55,291.87 65.70,290.62 69.20,288.80 C72.70,286.98 76.63,283.80 79.60,282.20 C82.57,280.60 84.57,280.27 87.00,279.20 C89.43,278.13 92.20,277.00 94.20,275.80 C96.20,274.60 97.37,273.38 99.00,272.00 C100.63,270.62 102.83,268.58 104.00,267.50 C105.17,266.42 105.67,265.83 106.00,265.50" fill="none" stroke="#000" stroke-width="1.3" stroke-linejoin="round"/>
<path d="M27.50,291.51 C27.83,291.49 26.50,291.57 29.50,291.40 C32.50,291.23 40.65,290.87 45.50,290.50 C50.35,290.13 54.52,289.78 58.60,289.20 C62.68,288.62 66.50,287.82 70.00,287.00 C73.50,286.18 76.77,285.25 79.60,284.30 C82.43,283.35 84.27,282.12 87.00,281.30 C89.73,280.48 93.62,279.62 96.00,279.40 C98.38,279.18 99.82,279.63 101.30,280.00 C102.78,280.37 104.30,281.33 104.90,281.60" fill="none" stroke="#000" stroke-width="1.3" stroke-linejoin="round"/>
<path d="M104.90,281.60 C105.42,281.72 106.82,282.37 108.00,282.30 C109.18,282.23 110.67,281.75 112.00,281.20 C113.33,280.65 114.48,279.90 116.00,279.00 C117.52,278.10 119.60,276.97 121.10,275.80 C122.60,274.63 123.85,273.20 125.00,272.00 C126.15,270.80 127.17,269.60 128.00,268.60 C128.83,267.60 129.67,266.43 130.00,266.00" fill="none" stroke="#000" stroke-width="1.3" stroke-linejoin="round"/>
<path d="M27.50,293.20 C27.83,293.18 26.50,293.25 29.50,293.10 C32.50,292.95 39.92,292.88 45.50,292.30 C51.08,291.72 58.58,290.40 63.00,289.60 C67.42,288.80 69.23,288.22 72.00,287.50 C74.77,286.78 78.33,285.67 79.60,285.30" fill="none" stroke="#000" stroke-width="1.3" stroke-linejoin="round"/>
<path d="M180.00,491.00 C180.33,490.57 180.12,490.48 182.00,488.40 C183.88,486.32 188.05,481.57 191.30,478.50 C194.55,475.43 198.38,472.08 201.50,470.00 C204.62,467.92 207.45,466.78 210.00,466.00 C212.55,465.22 212.80,465.58 216.80,465.30 C220.80,465.02 227.97,465.18 234.00,464.30 C240.03,463.42 246.67,462.25 253.00,460.00 C259.33,457.75 265.67,454.25 272.00,450.80 C278.33,447.35 284.68,443.52 291.00,439.30 C297.32,435.08 304.23,430.15 309.90,425.50 C315.57,420.85 322.07,414.14 325.00,411.40 C327.93,408.66 327.08,409.45 327.50,409.07" fill="none" stroke="#000" stroke-width="1.3" stroke-linejoin="round"/>
<path d="M257.00,491.00 C257.43,490.53 257.10,491.35 259.60,488.20 C262.10,485.05 266.77,478.90 272.00,472.10 C277.23,465.30 284.68,454.98 291.00,447.40 C297.32,439.82 304.23,432.60 309.90,426.60 C315.57,420.60 322.07,414.35 325.00,411.40 C327.93,408.45 327.08,409.30 327.50,408.88" fill="none" stroke="#000" stroke-width="1.3" stroke-linejoin="round"/>
<path d="M27.50,471.60 C27.85,471.66 27.52,471.60 29.60,472.00 C31.68,472.40 36.60,472.75 40.00,474.00 C43.40,475.25 47.33,477.83 50.00,479.50 C52.67,481.17 54.00,482.33 56.00,484.00 C58.00,485.67 61.00,488.58 62.00,489.50" fill="none" stroke="#000" stroke-width="1.3" stroke-linejoin="round"/>
<path d="M27.50,472.02 C27.85,472.10 26.68,471.84 29.60,472.50 C32.52,473.16 39.93,474.42 45.00,476.00 C50.07,477.58 56.17,480.42 60.00,482.00 C63.83,483.58 65.42,484.25 68.00,485.50 C70.58,486.75 74.25,488.83 75.50,489.50" fill="none" stroke="#000" stroke-width="1.3" stroke-linejoin="round"/>
<path d="M327.50,471.22 C327.13,471.27 327.88,471.17 325.30,471.50 C322.72,471.83 316.22,472.12 312.00,473.20 C307.78,474.28 303.17,476.45 300.00,478.00 C296.83,479.55 295.17,480.58 293.00,482.50 C290.83,484.42 288.00,488.33 287.00,489.50" fill="none" stroke="#000" stroke-width="1.3" stroke-linejoin="round"/>
<path d="M327.50,471.47 C327.13,471.56 327.38,471.49 325.30,472.00 C323.22,472.51 318.38,473.17 315.00,474.50 C311.62,475.83 307.50,478.42 305.00,480.00 C302.50,481.58 301.67,482.42 300.00,484.00 C298.33,485.58 295.83,488.58 295.00,489.50" fill="none" stroke="#000" stroke-width="1.3" stroke-linejoin="round"/>
<path d="M27.50,409.12 C27.85,408.82 26.85,409.69 29.60,407.30 C32.35,404.91 38.93,399.27 44.00,394.80 C49.07,390.33 54.68,385.37 60.00,380.50 C65.32,375.63 70.58,370.48 75.90,365.60 C81.22,360.72 87.10,355.53 91.90,351.20 C96.70,346.87 100.02,343.75 104.70,339.60 C109.38,335.45 115.78,329.98 120.00,326.30 C124.22,322.62 127.33,319.85 130.00,317.50 C132.67,315.15 133.67,314.32 136.00,312.20 C138.33,310.08 140.92,307.43 144.00,304.80 C147.08,302.17 151.33,298.95 154.50,296.40 C157.67,293.85 160.42,291.63 163.00,289.50 C165.58,287.37 166.52,286.35 170.00,283.60 C173.48,280.85 180.25,275.57 183.90,273.00 C187.55,270.43 189.88,269.53 191.90,268.20 C193.92,266.87 195.32,265.53 196.00,265.00" fill="none" stroke="#000" stroke-width="2.50" stroke-linejoin="round"/>
<path d="M27.50,408.53 C27.85,408.86 27.92,408.92 29.60,410.50 C31.28,412.08 35.03,415.55 37.60,418.00 C40.17,420.45 40.93,421.17 45.00,425.20 C49.07,429.23 56.35,436.52 62.00,442.20 C67.65,447.88 73.25,453.67 78.90,459.30 C84.55,464.93 90.67,471.15 95.90,476.00 C101.13,480.85 107.45,485.90 110.30,488.40 C113.15,490.90 112.55,490.57 113.00,491.00" fill="none" stroke="#000" stroke-width="2.40" stroke-linejoin="round"/>
</g>
<rect x="29.50" y="268.00" width="296.00" height="220.60" fill="none" stroke="#3a3a3a" stroke-width="1.0"/>
<line x1="26.00" y1="290.30" x2="29.50" y2="290.30" stroke="#3a3a3a" stroke-width="0.9"/>
<text x="22.90" y="293.90" font-size="9.3" text-anchor="end" fill="#262626">4</text>
<line x1="26.00" y1="334.50" x2="29.50" y2="334.50" stroke="#3a3a3a" stroke-width="0.9"/>
<text x="22.90" y="338.10" font-size="9.3" text-anchor="end" fill="#262626">2</text>
<line x1="26.00" y1="378.70" x2="29.50" y2="378.70" stroke="#3a3a3a" stroke-width="0.9"/>
<text x="22.90" y="382.30" font-size="9.3" text-anchor="end" fill="#262626">0</text>
<line x1="26.00" y1="422.90" x2="29.50" y2="422.90" stroke="#3a3a3a" stroke-width="0.9"/>
<text x="11.90" y="426.50" font-size="9.3" fill="#262626" textLength="10.9" lengthAdjust="spacingAndGlyphs">−2</text>
<line x1="26.00" y1="467.10" x2="29.50" y2="467.10" stroke="#3a3a3a" stroke-width="0.9"/>
<text x="11.90" y="470.70" font-size="9.3" fill="#262626" textLength="10.9" lengthAdjust="spacingAndGlyphs">−4</text>
<line x1="29.50" y1="488.60" x2="29.50" y2="491.60" stroke="#3a3a3a" stroke-width="0.9"/>
<text x="29.50" y="500.30" font-size="8.6" text-anchor="middle" fill="#222">Γ</text>
<line x1="154.50" y1="488.60" x2="154.50" y2="491.60" stroke="#3a3a3a" stroke-width="0.9"/>
<text x="154.50" y="500.30" font-size="8.6" text-anchor="middle" fill="#222">K</text>
<line x1="217.00" y1="488.60" x2="217.00" y2="491.60" stroke="#3a3a3a" stroke-width="0.9"/>
<text x="217.00" y="500.30" font-size="8.6" text-anchor="middle" fill="#222">M</text>
<line x1="325.50" y1="488.60" x2="325.50" y2="491.60" stroke="#3a3a3a" stroke-width="0.9"/>
<text x="325.50" y="500.30" font-size="8.6" text-anchor="middle" fill="#222">Γ</text>
<text transform="translate(7.60,372.30) rotate(-90)" font-size="10.2" text-anchor="middle" fill="#3a3a3a" textLength="55.5" lengthAdjust="spacingAndGlyphs">E - E<tspan font-size="6.5" dy="1.8">F</tspan><tspan dy="-1.8">  [eV]</tspan></text>
<rect x="29.50" y="268.00" width="50.20" height="20.80" fill="#fff" stroke="#555" stroke-width="0.9"/><text x="34.10" y="283.90" font-size="14.60" fill="#1a1a1a" font-weight="bold" textLength="16.80" lengthAdjust="spacingAndGlyphs">(c)</text><text x="57.10" y="283.90" font-size="14.60" fill="#1a1a1a" textLength="17.60" lengthAdjust="spacingAndGlyphs">LiC</text><text x="75.10" y="286.70" font-size="9.20" fill="#1a1a1a" textLength="4.30" lengthAdjust="spacingAndGlyphs">6</text>
<rect x="272.40" y="267.90" width="53.10" height="33.30" fill="#fff" stroke="#333" stroke-width="0.9"/><line x1="287.40" y1="290.40" x2="291.20" y2="287.20" stroke="#222" stroke-width="1.20"/><line x1="291.20" y1="287.20" x2="299.20" y2="287.20" stroke="#222" stroke-width="1.20"/><line x1="299.20" y1="287.20" x2="303.40" y2="290.40" stroke="#222" stroke-width="1.20"/><line x1="303.40" y1="290.40" x2="299.20" y2="294.20" stroke="#222" stroke-width="1.20"/><line x1="299.20" y1="294.20" x2="291.00" y2="294.20" stroke="#222" stroke-width="1.20"/><line x1="291.00" y1="294.20" x2="287.40" y2="290.40" stroke="#222" stroke-width="1.20"/><line x1="299.20" y1="287.20" x2="303.40" y2="283.80" stroke="#222" stroke-width="1.20"/><line x1="303.40" y1="283.80" x2="311.50" y2="283.80" stroke="#222" stroke-width="1.20"/><line x1="311.50" y1="283.80" x2="315.70" y2="287.20" stroke="#222" stroke-width="1.20"/><line x1="315.70" y1="287.20" x2="311.50" y2="290.40" stroke="#222" stroke-width="1.20"/><line x1="311.50" y1="290.40" x2="303.40" y2="290.40" stroke="#222" stroke-width="1.20"/><circle cx="287.40" cy="290.40" r="2.35" fill="#4a4e57" stroke="#222" stroke-width="0.50"/><circle cx="291.20" cy="287.20" r="2.35" fill="#4a4e57" stroke="#222" stroke-width="0.50"/><circle cx="299.20" cy="287.20" r="2.35" fill="#4a4e57" stroke="#222" stroke-width="0.50"/><circle cx="303.40" cy="290.40" r="2.35" fill="#4a4e57" stroke="#222" stroke-width="0.50"/><circle cx="299.20" cy="294.20" r="2.35" fill="#4a4e57" stroke="#222" stroke-width="0.50"/><circle cx="291.00" cy="294.20" r="2.35" fill="#4a4e57" stroke="#222" stroke-width="0.50"/><circle cx="303.40" cy="283.80" r="2.35" fill="#4a4e57" stroke="#222" stroke-width="0.50"/><circle cx="311.50" cy="283.80" r="2.35" fill="#4a4e57" stroke="#222" stroke-width="0.50"/><circle cx="315.70" cy="287.20" r="2.35" fill="#4a4e57" stroke="#222" stroke-width="0.50"/><circle cx="311.50" cy="290.40" r="2.35" fill="#4a4e57" stroke="#222" stroke-width="0.50"/><circle cx="295.10" cy="274.10" r="1.85" fill="#f26d5b" stroke="#222" stroke-width="0.50"/><circle cx="319.50" cy="273.60" r="1.85" fill="#f26d5b" stroke="#222" stroke-width="0.50"/><circle cx="282.70" cy="284.30" r="1.85" fill="#f26d5b" stroke="#222" stroke-width="0.50"/><circle cx="307.00" cy="283.80" r="1.85" fill="#f26d5b" stroke="#222" stroke-width="0.50"/>
<line x1="386.40" y1="378.70" x2="683.00" y2="378.70" stroke="#9a9a9a" stroke-width="1.1"/>
<line x1="511.70" y1="268.00" x2="511.70" y2="488.60" stroke="#333" stroke-width="0.8" stroke-dasharray="2.2,1.6"/>
<line x1="574.40" y1="268.00" x2="574.40" y2="488.60" stroke="#333" stroke-width="0.8" stroke-dasharray="2.2,1.6"/>
<g clip-path="url(#clipd)">
<path d="M384.40,307.62 C384.72,307.60 383.87,307.65 386.30,307.50 C388.73,307.35 394.38,307.33 399.00,306.70 C403.62,306.07 409.02,305.07 414.00,303.70 C418.98,302.33 423.92,300.50 428.90,298.50 C433.88,296.50 440.15,293.33 443.90,291.70 C447.65,290.07 448.72,289.90 451.40,288.70 C454.08,287.50 456.90,286.12 460.00,284.50 C463.10,282.88 466.67,280.83 470.00,279.00 C473.33,277.17 476.67,275.33 480.00,273.50 C483.33,271.67 487.33,269.58 490.00,268.00 C492.67,266.42 495.00,264.67 496.00,264.00" fill="none" stroke="#f98c7c" stroke-width="7.00" stroke-linecap="round" stroke-linejoin="round"/>
<path d="M384.40,386.54 C384.72,386.53 384.37,386.54 386.30,386.50 C388.23,386.46 393.22,386.55 396.00,386.30 C398.78,386.05 400.67,385.80 403.00,385.00 C405.33,384.20 407.68,383.03 410.00,381.50 C412.32,379.97 413.92,378.45 416.90,375.80 C419.88,373.15 424.23,368.93 427.90,365.60 C431.57,362.27 435.22,358.97 438.90,355.80 C442.58,352.63 446.48,349.57 450.00,346.60 C453.52,343.63 456.67,340.85 460.00,338.00 C463.33,335.15 466.67,332.28 470.00,329.50 C473.33,326.72 476.67,323.95 480.00,321.30 C483.33,318.65 486.67,316.15 490.00,313.60 C493.33,311.05 496.40,308.68 500.00,306.00 C503.60,303.32 508.27,300.12 511.60,297.50 C514.93,294.88 517.28,292.58 520.00,290.30 C522.72,288.02 525.23,285.98 527.90,283.80 C530.57,281.62 533.33,279.27 536.00,277.20 C538.67,275.13 541.23,273.27 543.90,271.40 C546.57,269.53 550.65,266.90 552.00,266.00" fill="none" stroke="#f98c7c" stroke-width="10.00" stroke-linecap="round" stroke-linejoin="round"/>
<path d="M384.40,389.06 C384.72,389.05 384.37,389.06 386.30,389.00 C388.23,388.94 392.72,388.90 396.00,388.70 C399.28,388.50 403.00,388.25 406.00,387.80 C409.00,387.35 411.27,386.87 414.00,386.00 C416.73,385.13 419.17,383.97 422.40,382.60 C425.63,381.23 429.73,379.53 433.40,377.80 C437.07,376.07 441.30,373.87 444.40,372.20 C447.50,370.53 449.57,369.30 452.00,367.80 C454.43,366.30 456.00,365.33 459.00,363.20 C462.00,361.07 465.83,358.28 470.00,355.00 C474.17,351.72 479.67,347.50 484.00,343.50 C488.33,339.50 492.67,334.33 496.00,331.00 C499.33,327.67 501.40,325.95 504.00,323.50 C506.60,321.05 508.95,318.73 511.60,316.30 C514.25,313.87 517.18,311.42 519.90,308.90 C522.62,306.38 525.22,303.93 527.90,301.20 C530.58,298.47 533.33,295.60 536.00,292.50 C538.67,289.40 541.25,285.85 543.90,282.60 C546.55,279.35 549.77,275.35 551.90,273.00 C554.03,270.65 555.35,269.83 556.70,268.50 C558.05,267.17 559.45,265.58 560.00,265.00" fill="none" stroke="#ff00ff" stroke-width="7.00" stroke-linecap="round" stroke-linejoin="round"/>
<path d="M462.00,286.00 C463.33,286.58 467.00,288.08 470.00,289.50 C473.00,290.92 476.67,292.67 480.00,294.50 C483.33,296.33 486.67,298.33 490.00,300.50 C493.33,302.67 496.40,305.17 500.00,307.50 C503.60,309.83 508.27,312.50 511.60,314.50 C514.93,316.50 517.28,318.00 520.00,319.50 C522.72,321.00 523.92,322.00 527.90,323.50 C531.88,325.00 538.57,327.13 543.90,328.50 C549.23,329.87 554.72,330.95 559.90,331.70 C565.08,332.45 572.48,332.78 575.00,333.00" fill="none" stroke="#ff00ff" stroke-width="8.50" stroke-linecap="round" stroke-linejoin="round"/>
<path d="M575.00,333.00 C576.33,333.67 580.23,335.25 583.00,337.00 C585.77,338.75 588.77,341.25 591.60,343.50 C594.43,345.75 596.93,348.17 600.00,350.50 C603.07,352.83 606.40,355.23 610.00,357.50 C613.60,359.77 619.67,363.00 621.60,364.10" fill="none" stroke="#ff00ff" stroke-width="6.50" stroke-linecap="round" stroke-linejoin="round"/>
<path d="M621.60,364.10 C623.42,365.20 628.93,368.63 632.50,370.70 C636.07,372.77 641.25,375.53 643.00,376.50" fill="none" stroke="#f98c7c" stroke-width="5.50" stroke-linecap="round" stroke-linejoin="round"/>
<path d="M643.00,376.50 C644.90,377.35 650.40,379.93 654.40,381.60 C658.40,383.27 662.55,385.03 667.00,386.50 C671.45,387.97 678.10,389.57 681.10,390.40 C684.10,391.23 684.35,391.30 685.00,391.48" fill="none" stroke="#ff00ff" stroke-width="6.50" stroke-linecap="round" stroke-linejoin="round"/>
<path d="M575.00,333.00 C576.33,331.58 580.23,327.78 583.00,324.50 C585.77,321.22 589.10,316.55 591.60,313.30 C594.10,310.05 596.93,306.38 598.00,305.00" fill="none" stroke="#ff00ff" stroke-width="7.00" stroke-linecap="round" stroke-linejoin="round"/>
<path d="M511.60,297.50 C512.72,298.92 516.23,303.08 518.30,306.00 C520.37,308.92 522.38,312.25 524.00,315.00 C525.62,317.75 526.17,319.50 528.00,322.50 C529.83,325.50 532.50,329.25 535.00,333.00 C537.50,336.75 540.50,341.50 543.00,345.00 C545.50,348.50 547.50,351.42 550.00,354.00 C552.50,356.58 555.33,358.83 558.00,360.50 C560.67,362.17 563.33,363.17 566.00,364.00 C568.67,364.83 570.67,365.12 574.00,365.50 C577.33,365.88 581.72,366.02 586.00,366.30 C590.28,366.58 593.77,366.50 599.70,367.20 C605.63,367.90 614.30,368.83 621.60,370.50 C628.90,372.17 636.20,374.87 643.50,377.20 C650.80,379.53 659.13,382.85 665.40,384.50 C671.67,386.15 677.83,386.56 681.10,387.10 C684.37,387.64 684.35,387.64 685.00,387.75" fill="none" stroke="#f98c7c" stroke-width="7.00" stroke-linecap="round" stroke-linejoin="round"/>
<path d="M575.50,266.00 C575.70,266.45 574.85,266.10 576.70,268.70 C578.55,271.30 583.83,277.50 586.60,281.60 C589.37,285.70 591.07,289.40 593.30,293.30 C595.53,297.20 597.88,301.38 600.00,305.00 C602.12,308.62 604.33,312.23 606.00,315.00 C607.67,317.77 607.67,318.83 610.00,321.60 C612.33,324.37 616.40,327.70 620.00,331.60 C623.60,335.50 627.68,340.02 631.60,345.00 C635.52,349.98 639.77,356.75 643.50,361.50 C647.23,366.25 650.35,369.78 654.00,373.50 C657.65,377.22 660.88,380.98 665.40,383.80 C669.92,386.62 677.83,389.03 681.10,390.40 C684.37,391.77 684.35,391.77 685.00,392.04" fill="none" stroke="#f98c7c" stroke-width="7.00" stroke-linecap="round" stroke-linejoin="round"/>
<path d="M384.40,409.86 C384.70,410.14 384.43,409.89 386.20,411.50 C387.97,413.11 391.87,416.75 395.00,419.50 C398.13,422.25 401.37,424.92 405.00,428.00 C408.63,431.08 413.13,434.83 416.80,438.00 C420.47,441.17 423.35,443.75 427.00,447.00 C430.65,450.25 434.87,454.17 438.70,457.50 C442.53,460.83 446.35,463.92 450.00,467.00 C453.65,470.08 457.27,473.25 460.60,476.00 C463.93,478.75 467.07,481.23 470.00,483.50 C472.93,485.77 476.37,488.18 478.20,489.60 C480.03,491.02 480.53,491.60 481.00,492.00" fill="none" stroke="#f98c7c" stroke-width="7.20" stroke-linecap="round" stroke-linejoin="round"/>
<path d="M535.00,492.00 C535.93,490.58 538.43,486.33 540.60,483.50 C542.77,480.67 545.45,477.55 548.00,475.00 C550.55,472.45 553.07,470.28 555.90,468.20 C558.73,466.12 561.97,463.93 565.00,462.50 C568.03,461.07 570.60,460.43 574.10,459.60 C577.60,458.77 581.73,458.27 586.00,457.50 C590.27,456.73 595.03,456.08 599.70,455.00 C604.37,453.92 609.25,452.45 614.00,451.00 C618.75,449.55 623.28,448.18 628.20,446.30 C633.12,444.42 638.03,442.62 643.50,439.70 C648.97,436.78 655.90,432.17 661.00,428.80 C666.10,425.43 670.75,422.13 674.10,419.50 C677.45,416.87 679.28,414.69 681.10,413.00 C682.92,411.31 684.35,409.98 685.00,409.38" fill="none" stroke="#f98c7c" stroke-width="7.20" stroke-linecap="round" stroke-linejoin="round"/>
<path d="M606.00,492.00 C606.40,491.60 605.80,492.67 608.40,489.60 C611.00,486.53 617.58,478.27 621.60,473.60 C625.62,468.93 628.85,465.42 632.50,461.60 C636.15,457.78 639.48,455.08 643.50,450.70 C647.52,446.32 652.85,439.58 656.60,435.30 C660.35,431.02 663.08,427.88 666.00,425.00 C668.92,422.12 671.58,420.00 674.10,418.00 C676.62,416.00 679.28,414.30 681.10,413.00 C682.92,411.70 684.35,410.68 685.00,410.21" fill="none" stroke="#f98c7c" stroke-width="7.00" stroke-linecap="round" stroke-linejoin="round"/>
<path d="M384.40,466.71 C384.70,466.76 382.77,466.45 386.20,467.00 C389.63,467.55 399.03,468.17 405.00,470.00 C410.97,471.83 416.17,474.58 422.00,478.00 C427.83,481.42 437.00,488.42 440.00,490.50" fill="none" stroke="#ff00ff" stroke-width="8.00" stroke-linecap="round" stroke-linejoin="round"/>
<path d="M384.40,469.04 C384.70,469.12 383.60,468.84 386.20,469.50 C388.80,470.16 395.37,471.08 400.00,473.00 C404.63,474.92 410.00,478.08 414.00,481.00 C418.00,483.92 422.33,488.92 424.00,490.50" fill="none" stroke="#ff00ff" stroke-width="5.00" stroke-linecap="round" stroke-linejoin="round"/>
<path d="M685.00,465.77 C684.35,465.89 684.43,465.88 681.10,466.50 C677.77,467.12 670.52,467.58 665.00,469.50 C659.48,471.42 653.50,474.50 648.00,478.00 C642.50,481.50 634.67,488.42 632.00,490.50" fill="none" stroke="#ff00ff" stroke-width="8.00" stroke-linecap="round" stroke-linejoin="round"/>
<path d="M685.00,469.11 C684.35,469.26 683.93,469.35 681.10,470.00 C678.27,470.65 672.18,471.17 668.00,473.00 C663.82,474.83 659.50,478.08 656.00,481.00 C652.50,483.92 648.50,488.92 647.00,490.50" fill="none" stroke="#ff00ff" stroke-width="6.00" stroke-linecap="round" stroke-linejoin="round"/>
<path d="M384.40,307.62 C384.72,307.60 383.87,307.65 386.30,307.50 C388.73,307.35 394.38,307.33 399.00,306.70 C403.62,306.07 409.02,305.07 414.00,303.70 C418.98,302.33 423.92,300.50 428.90,298.50 C433.88,296.50 440.15,293.33 443.90,291.70 C447.65,290.07 448.72,289.90 451.40,288.70 C454.08,287.50 456.90,286.12 460.00,284.50 C463.10,282.88 466.67,280.83 470.00,279.00 C473.33,277.17 476.67,275.33 480.00,273.50 C483.33,271.67 487.33,269.58 490.00,268.00 C492.67,266.42 495.00,264.67 496.00,264.00" fill="none" stroke="#000" stroke-width="1.3" stroke-linejoin="round"/>
<path d="M506.00,292.00 C506.93,292.92 509.55,295.17 511.60,297.50 C513.65,299.83 516.23,303.08 518.30,306.00 C520.37,308.92 522.38,312.25 524.00,315.00 C525.62,317.75 526.17,319.50 528.00,322.50 C529.83,325.50 532.50,329.25 535.00,333.00 C537.50,336.75 540.50,341.50 543.00,345.00 C545.50,348.50 547.50,351.42 550.00,354.00 C552.50,356.58 555.33,358.83 558.00,360.50 C560.67,362.17 563.33,363.17 566.00,364.00 C568.67,364.83 570.67,365.12 574.00,365.50 C577.33,365.88 581.72,366.02 586.00,366.30 C590.28,366.58 593.77,366.50 599.70,367.20 C605.63,367.90 614.30,368.83 621.60,370.50 C628.90,372.17 636.20,374.87 643.50,377.20 C650.80,379.53 659.13,382.85 665.40,384.50 C671.67,386.15 677.83,386.56 681.10,387.10 C684.37,387.64 684.35,387.64 685.00,387.75" fill="none" stroke="#000" stroke-width="1.3" stroke-linejoin="round"/>
<path d="M575.50,266.00 C575.70,266.45 574.85,266.10 576.70,268.70 C578.55,271.30 583.83,277.50 586.60,281.60 C589.37,285.70 591.07,289.40 593.30,293.30 C595.53,297.20 597.88,301.38 600.00,305.00 C602.12,308.62 604.33,312.23 606.00,315.00 C607.67,317.77 607.67,318.83 610.00,321.60 C612.33,324.37 616.40,327.70 620.00,331.60 C623.60,335.50 627.68,340.02 631.60,345.00 C635.52,349.98 639.77,356.75 643.50,361.50 C647.23,366.25 650.35,369.78 654.00,373.50 C657.65,377.22 660.88,380.98 665.40,383.80 C669.92,386.62 677.83,389.03 681.10,390.40 C684.37,391.77 684.35,391.77 685.00,392.04" fill="none" stroke="#000" stroke-width="1.3" stroke-linejoin="round"/>
<path d="M575.00,333.00 C576.33,333.67 580.23,335.25 583.00,337.00 C585.77,338.75 588.77,341.25 591.60,343.50 C594.43,345.75 596.93,348.17 600.00,350.50 C603.07,352.83 606.40,355.23 610.00,357.50 C613.60,359.77 617.85,361.90 621.60,364.10 C625.35,366.30 628.93,368.63 632.50,370.70 C636.07,372.77 639.35,374.68 643.00,376.50 C646.65,378.32 650.40,379.93 654.40,381.60 C658.40,383.27 662.55,385.03 667.00,386.50 C671.45,387.97 678.10,389.57 681.10,390.40 C684.10,391.23 684.35,391.30 685.00,391.48" fill="none" stroke="#000" stroke-width="1.3" stroke-linejoin="round"/>
<path d="M575.00,333.00 C576.33,331.58 580.23,327.78 583.00,324.50 C585.77,321.22 589.10,316.55 591.60,313.30 C594.10,310.05 596.93,306.38 598.00,305.00" fill="none" stroke="#000" stroke-width="1.3" stroke-linejoin="round"/>
<path d="M535.00,492.00 C535.93,490.58 538.43,486.33 540.60,483.50 C542.77,480.67 545.45,477.55 548.00,475.00 C550.55,472.45 553.07,470.28 555.90,468.20 C558.73,466.12 561.97,463.93 565.00,462.50 C568.03,461.07 570.60,460.43 574.10,459.60 C577.60,458.77 581.73,458.27 586.00,457.50 C590.27,456.73 595.03,456.08 599.70,455.00 C604.37,453.92 609.25,452.45 614.00,451.00 C618.75,449.55 623.28,448.18 628.20,446.30 C633.12,444.42 638.03,442.62 643.50,439.70 C648.97,436.78 655.90,432.17 661.00,428.80 C666.10,425.43 670.75,422.13 674.10,419.50 C677.45,416.87 679.28,414.69 681.10,413.00 C682.92,411.31 684.35,409.98 685.00,409.38" fill="none" stroke="#000" stroke-width="1.3" stroke-linejoin="round"/>
<path d="M606.00,492.00 C606.40,491.60 605.80,492.67 608.40,489.60 C611.00,486.53 617.58,478.27 621.60,473.60 C625.62,468.93 628.85,465.42 632.50,461.60 C636.15,457.78 639.48,455.08 643.50,450.70 C647.52,446.32 652.85,439.58 656.60,435.30 C660.35,431.02 663.08,427.88 666.00,425.00 C668.92,422.12 671.58,420.00 674.10,418.00 C676.62,416.00 679.28,414.30 681.10,413.00 C682.92,411.70 684.35,410.68 685.00,410.21" fill="none" stroke="#000" stroke-width="1.3" stroke-linejoin="round"/>
<path d="M384.40,355.74 C384.70,355.75 382.60,355.67 386.20,355.80 C389.80,355.93 399.07,356.22 406.00,356.50 C412.93,356.78 420.47,356.75 427.80,357.50 C435.13,358.25 442.70,359.53 450.00,361.00 C457.30,362.47 461.37,365.23 471.60,366.30 C481.83,367.37 501.00,367.40 511.40,367.40 C521.80,367.40 526.73,366.45 534.00,366.30 C541.27,366.15 548.33,366.38 555.00,366.50 C561.67,366.62 568.17,366.67 574.00,367.00 C579.83,367.33 584.83,368.58 590.00,368.50 C595.17,368.42 599.73,367.60 605.00,366.50 C610.27,365.40 615.18,363.40 621.60,361.90 C628.02,360.40 633.58,358.60 643.50,357.50 C653.42,356.40 674.18,355.70 681.10,355.30 C688.02,354.90 684.35,355.11 685.00,355.07" fill="none" stroke="#000" stroke-width="1.3" stroke-linejoin="round"/>
<path d="M384.40,356.15 C384.70,356.17 383.52,356.07 386.20,356.30 C388.88,356.53 395.40,356.47 400.50,357.50 C405.60,358.53 411.32,360.25 416.80,362.50 C422.28,364.75 427.92,368.50 433.40,371.00 C438.88,373.50 445.17,375.58 449.70,377.50 C454.23,379.42 456.38,381.33 460.60,382.50 C464.82,383.67 470.10,384.17 475.00,384.50 C479.90,384.83 483.93,384.62 490.00,384.50 C496.07,384.38 504.07,384.05 511.40,383.80 C518.73,383.55 525.90,383.22 534.00,383.00 C542.10,382.78 553.33,382.67 560.00,382.50 C566.67,382.33 567.33,382.00 574.00,382.00 C580.67,382.00 591.50,382.17 600.00,382.50 C608.50,382.83 616.67,383.42 625.00,384.00 C633.33,384.58 640.65,385.42 650.00,386.00 C659.35,386.58 675.27,387.22 681.10,387.50 C686.93,387.78 684.35,387.66 685.00,387.69" fill="none" stroke="#000" stroke-width="1.3" stroke-linejoin="round"/>
<path d="M384.40,363.45 C384.70,363.47 382.60,363.29 386.20,363.60 C389.80,363.91 399.07,364.65 406.00,365.30 C412.93,365.95 420.52,366.25 427.80,367.50 C435.08,368.75 442.40,371.00 449.70,372.80 C457.00,374.60 461.32,377.27 471.60,378.30 C481.88,379.33 501.00,378.97 511.40,379.00 C521.80,379.03 523.57,378.58 534.00,378.50 C544.43,378.42 563.83,379.08 574.00,378.50 C584.17,377.92 589.00,376.12 595.00,375.00 C601.00,373.88 603.75,373.62 610.00,371.80 C616.25,369.98 620.65,365.57 632.50,364.10 C644.35,362.63 672.35,363.20 681.10,363.00 C689.85,362.80 684.35,362.93 685.00,362.91" fill="none" stroke="#000" stroke-width="1.3" stroke-linejoin="round"/>
<path d="M427.00,374.00 C428.07,374.47 431.05,375.42 433.40,376.80 C435.75,378.18 439.08,381.20 441.10,382.30 C443.12,383.40 443.68,383.40 445.50,383.40 C447.32,383.40 449.75,382.95 452.00,382.30 C454.25,381.65 456.00,379.88 459.00,379.50 C462.00,379.12 464.83,379.83 470.00,380.00 C475.17,380.17 483.10,380.42 490.00,380.50 C496.90,380.58 504.07,380.50 511.40,380.50 C518.73,380.50 525.90,380.58 534.00,380.50 C542.10,380.42 553.33,380.20 560.00,380.00 C566.67,379.80 567.33,379.30 574.00,379.30 C580.67,379.30 592.33,379.55 600.00,380.00 C607.67,380.45 615.33,381.08 620.00,382.00 C624.67,382.92 625.67,385.08 628.00,385.50 C630.33,385.92 632.00,385.17 634.00,384.50 C636.00,383.83 635.67,382.25 640.00,381.50 C644.33,380.75 653.15,380.42 660.00,380.00 C666.85,379.58 676.93,379.20 681.10,379.00 C685.27,378.80 684.35,378.85 685.00,378.82" fill="none" stroke="#000" stroke-width="1.3" stroke-linejoin="round"/>
<path d="M384.40,389.54 C384.70,389.54 378.97,389.67 386.20,389.50 C393.43,389.33 417.22,389.00 427.80,388.50 C438.38,388.00 442.40,387.25 449.70,386.50 C457.00,385.75 461.32,384.67 471.60,384.00 C481.88,383.33 501.00,382.87 511.40,382.50 C521.80,382.13 523.57,381.97 534.00,381.80 C544.43,381.63 561.33,380.80 574.00,381.50 C586.67,382.20 599.00,384.75 610.00,386.00 C621.00,387.25 628.15,387.83 640.00,389.00 C651.85,390.17 673.60,392.27 681.10,393.00 C688.60,393.73 684.35,393.32 685.00,393.38" fill="none" stroke="#000" stroke-width="1.3" stroke-linejoin="round"/>
<path d="M384.40,397.43 C384.70,397.34 382.60,397.95 386.20,396.90 C389.80,395.85 399.05,392.43 406.00,391.10 C412.95,389.77 421.50,389.53 427.90,388.90 C434.30,388.27 439.22,387.30 444.40,387.30 C449.58,387.30 454.47,388.38 459.00,388.90 C463.53,389.42 466.43,389.88 471.60,390.40 C476.77,390.92 483.37,391.47 490.00,392.00 C496.63,392.53 504.07,393.33 511.40,393.60 C518.73,393.87 523.57,393.62 534.00,393.60 C544.43,393.58 563.00,393.68 574.00,393.50 C585.00,393.32 589.00,392.25 600.00,392.50 C611.00,392.75 626.48,394.08 640.00,395.00 C653.52,395.92 673.60,397.45 681.10,398.00 C688.60,398.55 684.35,398.24 685.00,398.28" fill="none" stroke="#000" stroke-width="1.3" stroke-linejoin="round"/>
<path d="M384.40,393.95 C384.70,393.96 380.80,393.86 386.20,394.00 C391.60,394.14 406.22,395.63 416.80,394.80 C427.38,393.97 438.83,390.22 449.70,389.00 C460.57,387.78 471.72,388.00 482.00,387.50 C492.28,387.00 502.73,385.92 511.40,386.00 C520.07,386.08 523.57,387.08 534.00,388.00 C544.43,388.92 563.00,390.92 574.00,391.50 C585.00,392.08 593.67,391.33 600.00,391.50 C606.33,391.67 605.33,391.75 612.00,392.50 C618.67,393.25 628.48,394.67 640.00,396.00 C651.52,397.33 673.60,399.68 681.10,400.50 C688.60,401.32 684.35,400.86 685.00,400.93" fill="none" stroke="#000" stroke-width="1.3" stroke-linejoin="round"/>
<path d="M384.40,403.40 C384.70,403.42 378.97,403.12 386.20,403.50 C393.43,403.88 419.05,405.33 427.80,405.70 C436.55,406.07 433.23,407.15 438.70,405.70 C444.17,404.25 453.30,399.02 460.60,397.00 C467.90,394.98 474.03,393.85 482.50,393.60 C490.97,393.35 502.82,394.93 511.40,395.50 C519.98,396.07 523.57,396.92 534.00,397.00 C544.43,397.08 561.33,395.67 574.00,396.00 C586.67,396.33 599.00,397.67 610.00,399.00 C621.00,400.33 628.15,402.88 640.00,404.00 C651.85,405.12 673.60,405.39 681.10,405.70 C688.60,406.01 684.35,405.83 685.00,405.86" fill="none" stroke="#000" stroke-width="1.3" stroke-linejoin="round"/>
<path d="M384.40,403.96 C384.70,403.97 380.80,403.89 386.20,404.00 C391.60,404.11 408.05,404.60 416.80,404.60 C425.55,404.60 431.40,403.10 438.70,404.00 C446.00,404.90 451.47,408.25 460.60,410.00 C469.73,411.75 485.03,413.58 493.50,414.50 C501.97,415.42 504.65,415.15 511.40,415.50 C518.15,415.85 523.57,416.43 534.00,416.60 C544.43,416.77 561.33,416.18 574.00,416.50 C586.67,416.82 599.00,418.75 610.00,418.50 C621.00,418.25 628.17,416.25 640.00,415.00 C651.83,413.75 673.50,411.73 681.00,411.00 C688.50,410.27 684.33,410.67 685.00,410.61" fill="none" stroke="#000" stroke-width="1.3" stroke-linejoin="round"/>
<path d="M384.40,412.50 C384.70,412.50 380.77,412.50 386.20,412.50 C391.63,412.50 408.53,412.32 417.00,412.50 C425.47,412.68 428.67,412.57 437.00,413.60 C445.33,414.63 458.17,417.63 467.00,418.70 C475.83,419.77 482.60,419.75 490.00,420.00 C497.40,420.25 503.07,420.70 511.40,420.20 C519.73,419.70 529.48,418.47 540.00,417.00 C550.52,415.53 562.25,412.53 574.50,411.40 C586.75,410.27 600.92,410.52 613.50,410.20 C626.08,409.88 638.73,409.72 650.00,409.50 C661.27,409.28 675.27,409.01 681.10,408.90 C686.93,408.79 684.35,408.84 685.00,408.82" fill="none" stroke="#000" stroke-width="1.3" stroke-linejoin="round"/>
<path d="M384.40,433.04 C384.70,432.93 383.60,433.32 386.20,432.40 C388.80,431.48 394.87,429.17 400.00,427.50 C405.13,425.83 412.00,424.32 417.00,422.40 C422.00,420.48 426.67,417.47 430.00,416.00 C433.33,414.53 434.50,413.85 437.00,413.60 C439.50,413.35 441.17,413.60 445.00,414.50 C448.83,415.40 454.17,417.25 460.00,419.00 C465.83,420.75 473.33,423.17 480.00,425.00 C486.67,426.83 494.77,428.67 500.00,430.00 C505.23,431.33 505.07,432.53 511.40,433.00 C517.73,433.47 529.90,433.63 538.00,432.80 C546.10,431.97 553.92,429.47 560.00,428.00 C566.08,426.53 567.75,425.92 574.50,424.00 C581.25,422.08 590.75,418.40 600.50,416.50 C610.25,414.60 623.92,413.52 633.00,412.60 C642.08,411.68 646.98,411.43 655.00,411.00 C663.02,410.57 676.10,410.19 681.10,410.00 C686.10,409.81 684.35,409.88 685.00,409.85" fill="none" stroke="#000" stroke-width="1.3" stroke-linejoin="round"/>
<path d="M384.40,461.91 C384.70,461.76 383.60,462.32 386.20,461.00 C388.80,459.68 394.37,457.17 400.00,454.00 C405.63,450.83 413.33,446.33 420.00,442.00 C426.67,437.67 435.08,431.27 440.00,428.00 C444.92,424.73 446.50,423.23 449.50,422.40 C452.50,421.57 455.08,422.57 458.00,423.00 C460.92,423.43 463.33,424.00 467.00,425.00 C470.67,426.00 474.50,427.50 480.00,429.00 C485.50,430.50 494.77,432.75 500.00,434.00 C505.23,435.25 504.73,435.50 511.40,436.50 C518.07,437.50 529.48,440.22 540.00,440.00 C550.52,439.78 564.50,437.20 574.50,435.20 C584.50,433.20 592.42,430.20 600.00,428.00 C607.58,425.80 613.33,423.33 620.00,422.00 C626.67,420.67 633.33,419.50 640.00,420.00 C646.67,420.50 653.15,423.08 660.00,425.00 C666.85,426.92 676.93,430.22 681.10,431.50 C685.27,432.78 684.35,432.50 685.00,432.70" fill="none" stroke="#000" stroke-width="1.3" stroke-linejoin="round"/>
<path d="M384.40,461.99 C384.70,461.91 381.93,462.67 386.20,461.50 C390.47,460.33 402.70,457.58 410.00,455.00 C417.30,452.42 423.33,448.50 430.00,446.00 C436.67,443.50 445.08,441.43 450.00,440.00 C454.92,438.57 456.17,437.57 459.50,437.40 C462.83,437.23 464.92,437.57 470.00,439.00 C475.08,440.43 483.10,444.12 490.00,446.00 C496.90,447.88 503.07,449.30 511.40,450.30 C519.73,451.30 529.48,452.42 540.00,452.00 C550.52,451.58 564.50,449.13 574.50,447.80 C584.50,446.47 590.75,445.30 600.00,444.00 C609.25,442.70 620.83,439.83 630.00,440.00 C639.17,440.17 646.48,441.40 655.00,445.00 C663.52,448.60 676.10,458.42 681.10,461.60 C686.10,464.78 684.35,463.67 685.00,464.08" fill="none" stroke="#000" stroke-width="1.3" stroke-linejoin="round"/>
<path d="M384.40,463.60 C384.70,463.60 375.27,463.60 386.20,463.60 C397.13,463.60 429.13,463.72 450.00,463.60 C470.87,463.48 495.57,463.83 511.40,462.90 C527.23,461.97 534.48,460.10 545.00,458.00 C555.52,455.90 565.33,451.30 574.50,450.30 C583.67,449.30 590.75,450.72 600.00,452.00 C609.25,453.28 620.83,456.33 630.00,458.00 C639.17,459.67 646.48,461.33 655.00,462.00 C663.52,462.67 676.10,462.00 681.10,462.00 C686.10,462.00 684.35,462.00 685.00,462.00" fill="none" stroke="#000" stroke-width="1.3" stroke-linejoin="round"/>
<path d="M384.40,468.59 C384.70,468.59 375.27,468.53 386.20,468.60 C397.13,468.67 429.13,468.60 450.00,469.00 C470.87,469.40 495.57,471.50 511.40,471.00 C527.23,470.50 534.48,467.17 545.00,466.00 C555.52,464.83 563.67,463.67 574.50,464.00 C585.33,464.33 599.08,467.67 610.00,468.00 C620.92,468.33 628.15,466.83 640.00,466.00 C651.85,465.17 673.60,463.55 681.10,463.00 C688.60,462.45 684.35,462.76 685.00,462.72" fill="none" stroke="#000" stroke-width="1.3" stroke-linejoin="round"/>
<path d="M384.40,481.06 C384.70,481.05 375.27,481.34 386.20,481.00 C397.13,480.66 429.13,479.72 450.00,479.00 C470.87,478.28 496.40,476.87 511.40,476.70 C526.40,476.53 529.48,476.55 540.00,478.00 C550.52,479.45 562.83,484.07 574.50,485.40 C586.17,486.73 597.42,486.23 610.00,486.00 C622.58,485.77 638.15,484.92 650.00,484.00 C661.85,483.08 675.27,481.16 681.10,480.50 C686.93,479.84 684.35,480.13 685.00,480.06" fill="none" stroke="#000" stroke-width="1.3" stroke-linejoin="round"/>
<path d="M466.00,491.00 C466.93,490.77 467.02,491.58 471.60,489.60 C476.18,487.62 486.87,481.40 493.50,479.10 C500.13,476.80 506.15,475.65 511.40,475.80 C516.65,475.95 521.23,478.35 525.00,480.00 C528.77,481.65 531.50,483.87 534.00,485.70 C536.50,487.53 539.00,490.12 540.00,491.00" fill="none" stroke="#000" stroke-width="1.3" stroke-linejoin="round"/>
<path d="M511.40,445.00 C516.17,445.67 529.48,446.83 540.00,449.00 C550.52,451.17 562.83,454.83 574.50,458.00 C586.17,461.17 597.42,465.33 610.00,468.00 C622.58,470.67 638.15,472.67 650.00,474.00 C661.85,475.33 675.27,475.62 681.10,476.00 C686.93,476.38 684.35,476.21 685.00,476.25" fill="none" stroke="#000" stroke-width="1.3" stroke-linejoin="round"/>
<path d="M384.40,465.16 C384.70,465.22 382.77,464.86 386.20,465.50 C389.63,466.14 399.37,467.08 405.00,469.00 C410.63,470.92 415.33,473.42 420.00,477.00 C424.67,480.58 430.83,488.25 433.00,490.50" fill="none" stroke="#000" stroke-width="1.3" stroke-linejoin="round"/>
<path d="M384.40,466.13 C384.70,466.19 382.27,465.69 386.20,466.50 C390.13,467.31 401.53,468.92 408.00,471.00 C414.47,473.08 419.50,475.75 425.00,479.00 C430.50,482.25 438.33,488.58 441.00,490.50" fill="none" stroke="#000" stroke-width="1.3" stroke-linejoin="round"/>
<path d="M384.40,467.12 C384.70,467.18 381.93,466.60 386.20,467.50 C390.47,468.40 402.70,470.25 410.00,472.50 C417.30,474.75 423.83,478.00 430.00,481.00 C436.17,484.00 444.17,488.92 447.00,490.50" fill="none" stroke="#000" stroke-width="1.3" stroke-linejoin="round"/>
<path d="M685.00,465.39 C684.35,465.50 684.43,465.48 681.10,466.00 C677.77,466.52 670.52,466.67 665.00,468.50 C659.48,470.33 653.50,473.33 648.00,477.00 C642.50,480.67 634.67,488.25 632.00,490.50" fill="none" stroke="#000" stroke-width="1.3" stroke-linejoin="round"/>
<path d="M685.00,465.67 C684.35,465.81 684.10,465.86 681.10,466.50 C678.10,467.14 671.52,467.58 667.00,469.50 C662.48,471.42 658.33,474.50 654.00,478.00 C649.67,481.50 643.17,488.42 641.00,490.50" fill="none" stroke="#000" stroke-width="1.3" stroke-linejoin="round"/>
<path d="M685.00,466.37 C684.35,466.56 683.77,466.73 681.10,467.50 C678.43,468.27 672.68,469.08 669.00,471.00 C665.32,472.92 662.33,475.75 659.00,479.00 C655.67,482.25 650.67,488.58 649.00,490.50" fill="none" stroke="#000" stroke-width="1.3" stroke-linejoin="round"/>
<path d="M384.40,385.24 C384.72,385.23 384.37,385.24 386.30,385.20 C388.23,385.16 393.22,385.25 396.00,385.00 C398.78,384.75 400.67,384.50 403.00,383.70 C405.33,382.90 407.68,381.73 410.00,380.20 C412.32,378.67 413.92,377.15 416.90,374.50 C419.88,371.85 424.23,367.63 427.90,364.30 C431.57,360.97 435.22,357.67 438.90,354.50 C442.58,351.33 446.48,348.27 450.00,345.30 C453.52,342.33 456.67,339.55 460.00,336.70 C463.33,333.85 466.67,330.98 470.00,328.20 C473.33,325.42 476.67,322.65 480.00,320.00 C483.33,317.35 486.67,314.85 490.00,312.30 C493.33,309.75 496.40,307.38 500.00,304.70 C503.60,302.02 508.27,298.82 511.60,296.20 C514.93,293.58 517.28,291.28 520.00,289.00 C522.72,286.72 525.23,284.68 527.90,282.50 C530.57,280.32 533.33,277.97 536.00,275.90 C538.67,273.83 541.23,271.97 543.90,270.10 C546.57,268.23 550.65,265.60 552.00,264.70" fill="none" stroke="#000" stroke-width="1.3" stroke-linejoin="round"/>
<path d="M384.40,387.84 C384.72,387.83 384.37,387.84 386.30,387.80 C388.23,387.76 393.22,387.85 396.00,387.60 C398.78,387.35 400.67,387.10 403.00,386.30 C405.33,385.50 407.68,384.33 410.00,382.80 C412.32,381.27 413.92,379.75 416.90,377.10 C419.88,374.45 424.23,370.23 427.90,366.90 C431.57,363.57 435.22,360.27 438.90,357.10 C442.58,353.93 446.48,350.87 450.00,347.90 C453.52,344.93 456.67,342.15 460.00,339.30 C463.33,336.45 466.67,333.58 470.00,330.80 C473.33,328.02 476.67,325.25 480.00,322.60 C483.33,319.95 486.67,317.45 490.00,314.90 C493.33,312.35 496.40,309.98 500.00,307.30 C503.60,304.62 508.27,301.42 511.60,298.80 C514.93,296.18 517.28,293.88 520.00,291.60 C522.72,289.32 525.23,287.28 527.90,285.10 C530.57,282.92 533.33,280.57 536.00,278.50 C538.67,276.43 541.23,274.57 543.90,272.70 C546.57,270.83 550.65,268.20 552.00,267.30" fill="none" stroke="#000" stroke-width="1.3" stroke-linejoin="round"/>
<path d="M503.00,284.50 C503.80,285.25 506.36,287.70 507.80,289.00 C509.24,290.30 509.95,292.43 511.65,292.30 C513.35,292.17 515.29,290.12 518.00,288.20 C520.71,286.28 524.90,283.10 527.90,280.80 C530.90,278.50 533.33,276.43 536.00,274.40 C538.67,272.37 541.57,270.25 543.90,268.60 C546.23,266.95 548.98,265.18 550.00,264.50" fill="none" stroke="#000" stroke-width="1.3" stroke-linejoin="round"/>
<path d="M384.40,388.06 C384.72,388.05 384.37,388.06 386.30,388.00 C388.23,387.94 392.72,387.90 396.00,387.70 C399.28,387.50 403.00,387.25 406.00,386.80 C409.00,386.35 411.27,385.87 414.00,385.00 C416.73,384.13 419.17,382.97 422.40,381.60 C425.63,380.23 429.73,378.53 433.40,376.80 C437.07,375.07 441.30,372.87 444.40,371.20 C447.50,369.53 449.57,368.30 452.00,366.80 C454.43,365.30 456.00,364.33 459.00,362.20 C462.00,360.07 465.83,357.28 470.00,354.00 C474.17,350.72 479.67,346.50 484.00,342.50 C488.33,338.50 492.67,333.33 496.00,330.00 C499.33,326.67 501.40,324.95 504.00,322.50 C506.60,320.05 508.95,317.73 511.60,315.30 C514.25,312.87 517.18,310.42 519.90,307.90 C522.62,305.38 525.22,302.93 527.90,300.20 C530.58,297.47 533.33,294.60 536.00,291.50 C538.67,288.40 541.25,284.85 543.90,281.60 C546.55,278.35 549.77,274.35 551.90,272.00 C554.03,269.65 555.35,268.83 556.70,267.50 C558.05,266.17 559.45,264.58 560.00,264.00" fill="none" stroke="#000" stroke-width="1.3" stroke-linejoin="round"/>
<path d="M384.40,390.06 C384.72,390.05 384.37,390.06 386.30,390.00 C388.23,389.94 392.72,389.90 396.00,389.70 C399.28,389.50 403.00,389.25 406.00,388.80 C409.00,388.35 411.27,387.87 414.00,387.00 C416.73,386.13 419.17,384.97 422.40,383.60 C425.63,382.23 429.73,380.53 433.40,378.80 C437.07,377.07 441.30,374.87 444.40,373.20 C447.50,371.53 449.57,370.30 452.00,368.80 C454.43,367.30 456.00,366.33 459.00,364.20 C462.00,362.07 465.83,359.28 470.00,356.00 C474.17,352.72 479.67,348.50 484.00,344.50 C488.33,340.50 492.67,335.33 496.00,332.00 C499.33,328.67 501.40,326.95 504.00,324.50 C506.60,322.05 508.95,319.73 511.60,317.30 C514.25,314.87 517.18,312.42 519.90,309.90 C522.62,307.38 525.22,304.93 527.90,302.20 C530.58,299.47 533.33,296.60 536.00,293.50 C538.67,290.40 541.25,286.85 543.90,283.60 C546.55,280.35 549.77,276.35 551.90,274.00 C554.03,271.65 555.35,270.83 556.70,269.50 C558.05,268.17 559.45,266.58 560.00,266.00" fill="none" stroke="#000" stroke-width="1.3" stroke-linejoin="round"/>
<path d="M462.00,284.20 C463.33,284.78 467.00,286.28 470.00,287.70 C473.00,289.12 476.67,290.87 480.00,292.70 C483.33,294.53 486.67,296.53 490.00,298.70 C493.33,300.87 496.40,303.37 500.00,305.70 C503.60,308.03 508.27,310.70 511.60,312.70 C514.93,314.70 517.28,316.20 520.00,317.70 C522.72,319.20 523.92,320.20 527.90,321.70 C531.88,323.20 538.57,325.33 543.90,326.70 C549.23,328.07 554.72,329.15 559.90,329.90 C565.08,330.65 572.48,330.98 575.00,331.20" fill="none" stroke="#000" stroke-width="1.3" stroke-linejoin="round"/>
<path d="M462.00,287.80 C463.33,288.38 467.00,289.88 470.00,291.30 C473.00,292.72 476.67,294.47 480.00,296.30 C483.33,298.13 486.67,300.13 490.00,302.30 C493.33,304.47 496.40,306.97 500.00,309.30 C503.60,311.63 508.27,314.30 511.60,316.30 C514.93,318.30 517.28,319.80 520.00,321.30 C522.72,322.80 523.92,323.80 527.90,325.30 C531.88,326.80 538.57,328.93 543.90,330.30 C549.23,331.67 554.72,332.75 559.90,333.50 C565.08,334.25 572.48,334.58 575.00,334.80" fill="none" stroke="#000" stroke-width="1.3" stroke-linejoin="round"/>
<path d="M384.40,409.86 C384.70,410.14 384.43,409.89 386.20,411.50 C387.97,413.11 391.87,416.75 395.00,419.50 C398.13,422.25 401.37,424.92 405.00,428.00 C408.63,431.08 413.13,434.83 416.80,438.00 C420.47,441.17 423.35,443.75 427.00,447.00 C430.65,450.25 434.87,454.17 438.70,457.50 C442.53,460.83 446.35,463.92 450.00,467.00 C453.65,470.08 457.27,473.25 460.60,476.00 C463.93,478.75 467.07,481.23 470.00,483.50 C472.93,485.77 476.37,488.18 478.20,489.60 C480.03,491.02 480.53,491.60 481.00,492.00" fill="none" stroke="#000" stroke-width="2.20" stroke-linejoin="round"/>
</g>
<rect x="386.40" y="268.00" width="296.60" height="220.60" fill="none" stroke="#3a3a3a" stroke-width="1.0"/>
<line x1="382.90" y1="290.30" x2="386.40" y2="290.30" stroke="#3a3a3a" stroke-width="0.9"/>
<text x="379.80" y="293.90" font-size="9.3" text-anchor="end" fill="#262626">4</text>
<line x1="382.90" y1="334.50" x2="386.40" y2="334.50" stroke="#3a3a3a" stroke-width="0.9"/>
<text x="379.80" y="338.10" font-size="9.3" text-anchor="end" fill="#262626">2</text>
<line x1="382.90" y1="378.70" x2="386.40" y2="378.70" stroke="#3a3a3a" stroke-width="0.9"/>
<text x="379.80" y="382.30" font-size="9.3" text-anchor="end" fill="#262626">0</text>
<line x1="382.90" y1="422.90" x2="386.40" y2="422.90" stroke="#3a3a3a" stroke-width="0.9"/>
<text x="368.80" y="426.50" font-size="9.3" fill="#262626" textLength="10.9" lengthAdjust="spacingAndGlyphs">−2</text>
<line x1="382.90" y1="467.10" x2="386.40" y2="467.10" stroke="#3a3a3a" stroke-width="0.9"/>
<text x="368.80" y="470.70" font-size="9.3" fill="#262626" textLength="10.9" lengthAdjust="spacingAndGlyphs">−4</text>
<line x1="386.40" y1="488.60" x2="386.40" y2="491.60" stroke="#3a3a3a" stroke-width="0.9"/>
<text x="386.40" y="500.30" font-size="8.6" text-anchor="middle" fill="#222">Γ</text>
<line x1="511.70" y1="488.60" x2="511.70" y2="491.60" stroke="#3a3a3a" stroke-width="0.9"/>
<text x="511.70" y="500.30" font-size="8.6" text-anchor="middle" fill="#222">K</text>
<line x1="574.40" y1="488.60" x2="574.40" y2="491.60" stroke="#3a3a3a" stroke-width="0.9"/>
<text x="574.40" y="500.30" font-size="8.6" text-anchor="middle" fill="#222">M</text>
<line x1="683.00" y1="488.60" x2="683.00" y2="491.60" stroke="#3a3a3a" stroke-width="0.9"/>
<text x="683.00" y="500.30" font-size="8.6" text-anchor="middle" fill="#222">Γ</text>
<text transform="translate(364.50,372.30) rotate(-90)" font-size="10.2" text-anchor="middle" fill="#3a3a3a" textLength="55.5" lengthAdjust="spacingAndGlyphs">E - E<tspan font-size="6.5" dy="1.8">F</tspan><tspan dy="-1.8">  [eV]</tspan></text>
<rect x="386.30" y="268.00" width="121.00" height="20.70" fill="#fff" stroke="#555" stroke-width="0.9"/><text x="390.90" y="283.90" font-size="14.60" fill="#1a1a1a" font-weight="bold" textLength="16.80" lengthAdjust="spacingAndGlyphs">(d)</text><text x="413.90" y="283.90" font-size="14.60" fill="#1a1a1a" textLength="17.60" lengthAdjust="spacingAndGlyphs">LiC</text><text x="431.90" y="286.70" font-size="9.20" fill="#1a1a1a" textLength="4.30" lengthAdjust="spacingAndGlyphs">6</text><text x="436.40" y="283.90" font-size="14.60" fill="#1a1a1a" textLength="16.30" lengthAdjust="spacingAndGlyphs">/Al</text><text x="453.50" y="286.70" font-size="9.20" fill="#1a1a1a" textLength="4.60" lengthAdjust="spacingAndGlyphs">2</text><text x="459.20" y="283.90" font-size="14.60" fill="#1a1a1a" textLength="10.40" lengthAdjust="spacingAndGlyphs">O</text><text x="470.10" y="286.70" font-size="9.20" fill="#1a1a1a" textLength="4.00" lengthAdjust="spacingAndGlyphs">3</text><text x="474.90" y="283.90" font-size="14.60" fill="#1a1a1a" textLength="29.40" lengthAdjust="spacingAndGlyphs">(111)</text>
<rect x="593.10" y="268.30" width="89.90" height="52.90" fill="#fff" stroke="#333" stroke-width="0.9"/><line x1="608.35" y1="313.65" x2="609.00" y2="310.80" stroke="#222" stroke-width="0.80"/><line x1="609.00" y1="310.80" x2="609.65" y2="307.95" stroke="#222" stroke-width="0.80"/><line x1="609.65" y1="307.95" x2="610.30" y2="305.10" stroke="#222" stroke-width="0.80"/><line x1="615.95" y1="313.65" x2="616.60" y2="310.80" stroke="#222" stroke-width="0.80"/><line x1="616.60" y1="310.80" x2="617.25" y2="307.95" stroke="#222" stroke-width="0.80"/><line x1="617.25" y1="307.95" x2="617.90" y2="305.10" stroke="#222" stroke-width="0.80"/><line x1="617.90" y1="305.10" x2="618.55" y2="302.25" stroke="#222" stroke-width="0.80"/><line x1="618.55" y1="302.25" x2="619.20" y2="299.40" stroke="#222" stroke-width="0.80"/><line x1="623.55" y1="313.65" x2="624.20" y2="310.80" stroke="#222" stroke-width="0.80"/><line x1="624.20" y1="310.80" x2="624.85" y2="307.95" stroke="#222" stroke-width="0.80"/><line x1="624.85" y1="307.95" x2="625.50" y2="305.10" stroke="#222" stroke-width="0.80"/><line x1="625.50" y1="305.10" x2="626.15" y2="302.25" stroke="#222" stroke-width="0.80"/><line x1="626.15" y1="302.25" x2="626.80" y2="299.40" stroke="#222" stroke-width="0.80"/><line x1="631.15" y1="313.65" x2="631.80" y2="310.80" stroke="#222" stroke-width="0.80"/><line x1="631.80" y1="310.80" x2="632.45" y2="307.95" stroke="#222" stroke-width="0.80"/><line x1="632.45" y1="307.95" x2="633.10" y2="305.10" stroke="#222" stroke-width="0.80"/><line x1="633.10" y1="305.10" x2="633.75" y2="302.25" stroke="#222" stroke-width="0.80"/><line x1="633.75" y1="302.25" x2="634.40" y2="299.40" stroke="#222" stroke-width="0.80"/><line x1="638.75" y1="313.65" x2="639.40" y2="310.80" stroke="#222" stroke-width="0.80"/><line x1="639.40" y1="310.80" x2="640.05" y2="307.95" stroke="#222" stroke-width="0.80"/><line x1="640.05" y1="307.95" x2="640.70" y2="305.10" stroke="#222" stroke-width="0.80"/><line x1="640.70" y1="305.10" x2="641.35" y2="302.25" stroke="#222" stroke-width="0.80"/><line x1="641.35" y1="302.25" x2="642.00" y2="299.40" stroke="#222" stroke-width="0.80"/><line x1="646.35" y1="313.65" x2="647.00" y2="310.80" stroke="#222" stroke-width="0.80"/><line x1="647.00" y1="310.80" x2="647.65" y2="307.95" stroke="#222" stroke-width="0.80"/><line x1="647.65" y1="307.95" x2="648.30" y2="305.10" stroke="#222" stroke-width="0.80"/><line x1="648.30" y1="305.10" x2="648.95" y2="302.25" stroke="#222" stroke-width="0.80"/><line x1="648.95" y1="302.25" x2="649.60" y2="299.40" stroke="#222" stroke-width="0.80"/><line x1="654.60" y1="310.80" x2="655.25" y2="307.95" stroke="#222" stroke-width="0.80"/><line x1="655.25" y1="307.95" x2="655.90" y2="305.10" stroke="#222" stroke-width="0.80"/><line x1="655.90" y1="305.10" x2="656.55" y2="302.25" stroke="#222" stroke-width="0.80"/><line x1="656.55" y1="302.25" x2="657.20" y2="299.40" stroke="#222" stroke-width="0.80"/><line x1="657.20" y1="299.40" x2="657.85" y2="296.55" stroke="#222" stroke-width="0.80"/><line x1="663.50" y1="305.10" x2="664.15" y2="302.25" stroke="#222" stroke-width="0.80"/><line x1="664.15" y1="302.25" x2="664.80" y2="299.40" stroke="#222" stroke-width="0.80"/><line x1="664.80" y1="299.40" x2="665.45" y2="296.55" stroke="#222" stroke-width="0.80"/><circle cx="598.50" cy="314.00" r="2.40" fill="#9aabb2" stroke="#222" stroke-width="0.45"/><circle cx="611.00" cy="305.80" r="2.40" fill="#9aabb2" stroke="#222" stroke-width="0.45"/><circle cx="617.25" cy="301.70" r="2.40" fill="#9aabb2" stroke="#222" stroke-width="0.45"/><circle cx="606.10" cy="313.86" r="2.40" fill="#9aabb2" stroke="#222" stroke-width="0.45"/><circle cx="612.35" cy="309.76" r="2.40" fill="#9aabb2" stroke="#222" stroke-width="0.45"/><circle cx="624.85" cy="301.56" r="2.40" fill="#9aabb2" stroke="#222" stroke-width="0.45"/><circle cx="631.10" cy="297.46" r="2.40" fill="#9aabb2" stroke="#222" stroke-width="0.45"/><circle cx="619.95" cy="309.62" r="2.40" fill="#9aabb2" stroke="#222" stroke-width="0.45"/><circle cx="626.20" cy="305.52" r="2.40" fill="#9aabb2" stroke="#222" stroke-width="0.45"/><circle cx="638.70" cy="297.32" r="2.40" fill="#9aabb2" stroke="#222" stroke-width="0.45"/><circle cx="621.30" cy="313.58" r="2.40" fill="#9aabb2" stroke="#222" stroke-width="0.45"/><circle cx="633.80" cy="305.38" r="2.40" fill="#9aabb2" stroke="#222" stroke-width="0.45"/><circle cx="640.05" cy="301.28" r="2.40" fill="#9aabb2" stroke="#222" stroke-width="0.45"/><circle cx="628.90" cy="313.44" r="2.40" fill="#9aabb2" stroke="#222" stroke-width="0.45"/><circle cx="635.15" cy="309.34" r="2.40" fill="#9aabb2" stroke="#222" stroke-width="0.45"/><circle cx="647.65" cy="301.14" r="2.40" fill="#9aabb2" stroke="#222" stroke-width="0.45"/><circle cx="653.90" cy="297.04" r="2.40" fill="#9aabb2" stroke="#222" stroke-width="0.45"/><circle cx="642.75" cy="309.20" r="2.40" fill="#9aabb2" stroke="#222" stroke-width="0.45"/><circle cx="649.00" cy="305.10" r="2.40" fill="#9aabb2" stroke="#222" stroke-width="0.45"/><circle cx="661.50" cy="296.90" r="2.40" fill="#9aabb2" stroke="#222" stroke-width="0.45"/><circle cx="644.10" cy="313.16" r="2.40" fill="#9aabb2" stroke="#222" stroke-width="0.45"/><circle cx="656.60" cy="304.96" r="2.40" fill="#9aabb2" stroke="#222" stroke-width="0.45"/><circle cx="662.85" cy="300.86" r="2.40" fill="#9aabb2" stroke="#222" stroke-width="0.45"/><circle cx="651.70" cy="313.02" r="2.40" fill="#9aabb2" stroke="#222" stroke-width="0.45"/><circle cx="657.95" cy="308.92" r="2.40" fill="#9aabb2" stroke="#222" stroke-width="0.45"/><circle cx="600.75" cy="313.65" r="1.20" fill="#f26d5b" stroke="#222" stroke-width="0.40"/><circle cx="608.35" cy="313.65" r="1.20" fill="#f26d5b" stroke="#222" stroke-width="0.40"/><circle cx="609.00" cy="310.80" r="1.20" fill="#f26d5b" stroke="#222" stroke-width="0.40"/><circle cx="609.65" cy="307.95" r="1.20" fill="#f26d5b" stroke="#222" stroke-width="0.40"/><circle cx="610.30" cy="305.10" r="1.20" fill="#f26d5b" stroke="#222" stroke-width="0.40"/><circle cx="615.95" cy="313.65" r="1.20" fill="#f26d5b" stroke="#222" stroke-width="0.40"/><circle cx="616.60" cy="310.80" r="1.20" fill="#f26d5b" stroke="#222" stroke-width="0.40"/><circle cx="617.25" cy="307.95" r="1.20" fill="#f26d5b" stroke="#222" stroke-width="0.40"/><circle cx="617.90" cy="305.10" r="1.20" fill="#f26d5b" stroke="#222" stroke-width="0.40"/><circle cx="618.55" cy="302.25" r="1.20" fill="#f26d5b" stroke="#222" stroke-width="0.40"/><circle cx="619.20" cy="299.40" r="1.20" fill="#f26d5b" stroke="#222" stroke-width="0.40"/><circle cx="623.55" cy="313.65" r="1.20" fill="#f26d5b" stroke="#222" stroke-width="0.40"/><circle cx="624.20" cy="310.80" r="1.20" fill="#f26d5b" stroke="#222" stroke-width="0.40"/><circle cx="624.85" cy="307.95" r="1.20" fill="#f26d5b" stroke="#222" stroke-width="0.40"/><circle cx="625.50" cy="305.10" r="1.20" fill="#f26d5b" stroke="#222" stroke-width="0.40"/><circle cx="626.15" cy="302.25" r="1.20" fill="#f26d5b" stroke="#222" stroke-width="0.40"/><circle cx="626.80" cy="299.40" r="1.20" fill="#f26d5b" stroke="#222" stroke-width="0.40"/><circle cx="631.15" cy="313.65" r="1.20" fill="#f26d5b" stroke="#222" stroke-width="0.40"/><circle cx="631.80" cy="310.80" r="1.20" fill="#f26d5b" stroke="#222" stroke-width="0.40"/><circle cx="632.45" cy="307.95" r="1.20" fill="#f26d5b" stroke="#222" stroke-width="0.40"/><circle cx="633.10" cy="305.10" r="1.20" fill="#f26d5b" stroke="#222" stroke-width="0.40"/><circle cx="633.75" cy="302.25" r="1.20" fill="#f26d5b" stroke="#222" stroke-width="0.40"/><circle cx="634.40" cy="299.40" r="1.20" fill="#f26d5b" stroke="#222" stroke-width="0.40"/><circle cx="638.75" cy="313.65" r="1.20" fill="#f26d5b" stroke="#222" stroke-width="0.40"/><circle cx="639.40" cy="310.80" r="1.20" fill="#f26d5b" stroke="#222" stroke-width="0.40"/><circle cx="640.05" cy="307.95" r="1.20" fill="#f26d5b" stroke="#222" stroke-width="0.40"/><circle cx="640.70" cy="305.10" r="1.20" fill="#f26d5b" stroke="#222" stroke-width="0.40"/><circle cx="641.35" cy="302.25" r="1.20" fill="#f26d5b" stroke="#222" stroke-width="0.40"/><circle cx="642.00" cy="299.40" r="1.20" fill="#f26d5b" stroke="#222" stroke-width="0.40"/><circle cx="646.35" cy="313.65" r="1.20" fill="#f26d5b" stroke="#222" stroke-width="0.40"/><circle cx="647.00" cy="310.80" r="1.20" fill="#f26d5b" stroke="#222" stroke-width="0.40"/><circle cx="647.65" cy="307.95" r="1.20" fill="#f26d5b" stroke="#222" stroke-width="0.40"/><circle cx="648.30" cy="305.10" r="1.20" fill="#f26d5b" stroke="#222" stroke-width="0.40"/><circle cx="648.95" cy="302.25" r="1.20" fill="#f26d5b" stroke="#222" stroke-width="0.40"/><circle cx="649.60" cy="299.40" r="1.20" fill="#f26d5b" stroke="#222" stroke-width="0.40"/><circle cx="654.60" cy="310.80" r="1.20" fill="#f26d5b" stroke="#222" stroke-width="0.40"/><circle cx="655.25" cy="307.95" r="1.20" fill="#f26d5b" stroke="#222" stroke-width="0.40"/><circle cx="655.90" cy="305.10" r="1.20" fill="#f26d5b" stroke="#222" stroke-width="0.40"/><circle cx="656.55" cy="302.25" r="1.20" fill="#f26d5b" stroke="#222" stroke-width="0.40"/><circle cx="657.20" cy="299.40" r="1.20" fill="#f26d5b" stroke="#222" stroke-width="0.40"/><circle cx="657.85" cy="296.55" r="1.20" fill="#f26d5b" stroke="#222" stroke-width="0.40"/><circle cx="663.50" cy="305.10" r="1.20" fill="#f26d5b" stroke="#222" stroke-width="0.40"/><circle cx="664.15" cy="302.25" r="1.20" fill="#f26d5b" stroke="#222" stroke-width="0.40"/><circle cx="664.80" cy="299.40" r="1.20" fill="#f26d5b" stroke="#222" stroke-width="0.40"/><circle cx="665.45" cy="296.55" r="1.20" fill="#f26d5b" stroke="#222" stroke-width="0.40"/><circle cx="673.05" cy="296.55" r="1.20" fill="#f26d5b" stroke="#222" stroke-width="0.40"/><line x1="602.78" y1="295.04" x2="599.50" y2="296.00" stroke="#222" stroke-width="1.20"/><line x1="602.78" y1="295.04" x2="605.67" y2="295.94" stroke="#222" stroke-width="1.20"/><line x1="602.78" y1="295.04" x2="603.17" y2="293.17" stroke="#222" stroke-width="1.20"/><line x1="606.45" y1="292.21" x2="603.17" y2="293.17" stroke="#222" stroke-width="1.20"/><line x1="606.45" y1="292.21" x2="609.34" y2="293.11" stroke="#222" stroke-width="1.20"/><line x1="606.45" y1="292.21" x2="606.84" y2="290.34" stroke="#222" stroke-width="1.20"/><line x1="610.12" y1="289.38" x2="606.84" y2="290.34" stroke="#222" stroke-width="1.20"/><line x1="610.12" y1="289.38" x2="613.01" y2="290.28" stroke="#222" stroke-width="1.20"/><line x1="610.12" y1="289.38" x2="610.51" y2="287.51" stroke="#222" stroke-width="1.20"/><line x1="613.79" y1="286.55" x2="610.51" y2="287.51" stroke="#222" stroke-width="1.20"/><line x1="613.79" y1="286.55" x2="616.68" y2="287.45" stroke="#222" stroke-width="1.20"/><line x1="613.79" y1="286.55" x2="614.18" y2="284.68" stroke="#222" stroke-width="1.20"/><line x1="617.46" y1="283.72" x2="614.18" y2="284.68" stroke="#222" stroke-width="1.20"/><line x1="617.46" y1="283.72" x2="620.35" y2="284.62" stroke="#222" stroke-width="1.20"/><line x1="617.46" y1="283.72" x2="617.85" y2="281.85" stroke="#222" stroke-width="1.20"/><line x1="621.13" y1="280.89" x2="617.85" y2="281.85" stroke="#222" stroke-width="1.20"/><line x1="621.13" y1="280.89" x2="624.02" y2="281.79" stroke="#222" stroke-width="1.20"/><line x1="608.95" y1="294.98" x2="605.67" y2="295.94" stroke="#222" stroke-width="1.20"/><line x1="608.95" y1="294.98" x2="611.84" y2="295.88" stroke="#222" stroke-width="1.20"/><line x1="608.95" y1="294.98" x2="609.34" y2="293.11" stroke="#222" stroke-width="1.20"/><line x1="612.62" y1="292.15" x2="609.34" y2="293.11" stroke="#222" stroke-width="1.20"/><line x1="612.62" y1="292.15" x2="615.51" y2="293.05" stroke="#222" stroke-width="1.20"/><line x1="612.62" y1="292.15" x2="613.01" y2="290.28" stroke="#222" stroke-width="1.20"/><line x1="616.29" y1="289.32" x2="613.01" y2="290.28" stroke="#222" stroke-width="1.20"/><line x1="616.29" y1="289.32" x2="619.18" y2="290.22" stroke="#222" stroke-width="1.20"/><line x1="616.29" y1="289.32" x2="616.68" y2="287.45" stroke="#222" stroke-width="1.20"/><line x1="619.96" y1="286.49" x2="616.68" y2="287.45" stroke="#222" stroke-width="1.20"/><line x1="619.96" y1="286.49" x2="622.85" y2="287.39" stroke="#222" stroke-width="1.20"/><line x1="619.96" y1="286.49" x2="620.35" y2="284.62" stroke="#222" stroke-width="1.20"/><line x1="623.63" y1="283.66" x2="620.35" y2="284.62" stroke="#222" stroke-width="1.20"/><line x1="623.63" y1="283.66" x2="626.52" y2="284.56" stroke="#222" stroke-width="1.20"/><line x1="623.63" y1="283.66" x2="624.02" y2="281.79" stroke="#222" stroke-width="1.20"/><line x1="627.30" y1="280.83" x2="624.02" y2="281.79" stroke="#222" stroke-width="1.20"/><line x1="627.30" y1="280.83" x2="630.19" y2="281.73" stroke="#222" stroke-width="1.20"/><line x1="615.12" y1="294.92" x2="611.84" y2="295.88" stroke="#222" stroke-width="1.20"/><line x1="615.12" y1="294.92" x2="618.01" y2="295.82" stroke="#222" stroke-width="1.20"/><line x1="615.12" y1="294.92" x2="615.51" y2="293.05" stroke="#222" stroke-width="1.20"/><line x1="618.79" y1="292.09" x2="615.51" y2="293.05" stroke="#222" stroke-width="1.20"/><line x1="618.79" y1="292.09" x2="621.68" y2="292.99" stroke="#222" stroke-width="1.20"/><line x1="618.79" y1="292.09" x2="619.18" y2="290.22" stroke="#222" stroke-width="1.20"/><line x1="622.46" y1="289.26" x2="619.18" y2="290.22" stroke="#222" stroke-width="1.20"/><line x1="622.46" y1="289.26" x2="625.35" y2="290.16" stroke="#222" stroke-width="1.20"/><line x1="622.46" y1="289.26" x2="622.85" y2="287.39" stroke="#222" stroke-width="1.20"/><line x1="626.13" y1="286.43" x2="622.85" y2="287.39" stroke="#222" stroke-width="1.20"/><line x1="626.13" y1="286.43" x2="629.02" y2="287.33" stroke="#222" stroke-width="1.20"/><line x1="626.13" y1="286.43" x2="626.52" y2="284.56" stroke="#222" stroke-width="1.20"/><line x1="629.80" y1="283.60" x2="626.52" y2="284.56" stroke="#222" stroke-width="1.20"/><line x1="629.80" y1="283.60" x2="632.69" y2="284.50" stroke="#222" stroke-width="1.20"/><line x1="629.80" y1="283.60" x2="630.19" y2="281.73" stroke="#222" stroke-width="1.20"/><line x1="633.47" y1="280.77" x2="630.19" y2="281.73" stroke="#222" stroke-width="1.20"/><line x1="633.47" y1="280.77" x2="636.36" y2="281.67" stroke="#222" stroke-width="1.20"/><line x1="621.29" y1="294.86" x2="618.01" y2="295.82" stroke="#222" stroke-width="1.20"/><line x1="621.29" y1="294.86" x2="624.18" y2="295.76" stroke="#222" stroke-width="1.20"/><line x1="621.29" y1="294.86" x2="621.68" y2="292.99" stroke="#222" stroke-width="1.20"/><line x1="624.96" y1="292.03" x2="621.68" y2="292.99" stroke="#222" stroke-width="1.20"/><line x1="624.96" y1="292.03" x2="627.85" y2="292.93" stroke="#222" stroke-width="1.20"/><line x1="624.96" y1="292.03" x2="625.35" y2="290.16" stroke="#222" stroke-width="1.20"/><line x1="628.63" y1="289.20" x2="625.35" y2="290.16" stroke="#222" stroke-width="1.20"/><line x1="628.63" y1="289.20" x2="631.52" y2="290.10" stroke="#222" stroke-width="1.20"/><line x1="628.63" y1="289.20" x2="629.02" y2="287.33" stroke="#222" stroke-width="1.20"/><line x1="632.30" y1="286.37" x2="629.02" y2="287.33" stroke="#222" stroke-width="1.20"/><line x1="632.30" y1="286.37" x2="635.19" y2="287.27" stroke="#222" stroke-width="1.20"/><line x1="632.30" y1="286.37" x2="632.69" y2="284.50" stroke="#222" stroke-width="1.20"/><line x1="635.97" y1="283.54" x2="632.69" y2="284.50" stroke="#222" stroke-width="1.20"/><line x1="635.97" y1="283.54" x2="638.86" y2="284.44" stroke="#222" stroke-width="1.20"/><line x1="635.97" y1="283.54" x2="636.36" y2="281.67" stroke="#222" stroke-width="1.20"/><line x1="639.64" y1="280.71" x2="636.36" y2="281.67" stroke="#222" stroke-width="1.20"/><line x1="639.64" y1="280.71" x2="642.53" y2="281.61" stroke="#222" stroke-width="1.20"/><line x1="627.46" y1="294.80" x2="624.18" y2="295.76" stroke="#222" stroke-width="1.20"/><line x1="627.46" y1="294.80" x2="630.35" y2="295.70" stroke="#222" stroke-width="1.20"/><line x1="627.46" y1="294.80" x2="627.85" y2="292.93" stroke="#222" stroke-width="1.20"/><line x1="631.13" y1="291.97" x2="627.85" y2="292.93" stroke="#222" stroke-width="1.20"/><line x1="631.13" y1="291.97" x2="634.02" y2="292.87" stroke="#222" stroke-width="1.20"/><line x1="631.13" y1="291.97" x2="631.52" y2="290.10" stroke="#222" stroke-width="1.20"/><line x1="634.80" y1="289.14" x2="631.52" y2="290.10" stroke="#222" stroke-width="1.20"/><line x1="634.80" y1="289.14" x2="637.69" y2="290.04" stroke="#222" stroke-width="1.20"/><line x1="634.80" y1="289.14" x2="635.19" y2="287.27" stroke="#222" stroke-width="1.20"/><line x1="638.47" y1="286.31" x2="635.19" y2="287.27" stroke="#222" stroke-width="1.20"/><line x1="638.47" y1="286.31" x2="641.36" y2="287.21" stroke="#222" stroke-width="1.20"/><line x1="638.47" y1="286.31" x2="638.86" y2="284.44" stroke="#222" stroke-width="1.20"/><line x1="642.14" y1="283.48" x2="638.86" y2="284.44" stroke="#222" stroke-width="1.20"/><line x1="642.14" y1="283.48" x2="645.03" y2="284.38" stroke="#222" stroke-width="1.20"/><line x1="642.14" y1="283.48" x2="642.53" y2="281.61" stroke="#222" stroke-width="1.20"/><line x1="645.81" y1="280.65" x2="642.53" y2="281.61" stroke="#222" stroke-width="1.20"/><line x1="645.81" y1="280.65" x2="648.70" y2="281.55" stroke="#222" stroke-width="1.20"/><line x1="633.63" y1="294.74" x2="630.35" y2="295.70" stroke="#222" stroke-width="1.20"/><line x1="633.63" y1="294.74" x2="636.52" y2="295.64" stroke="#222" stroke-width="1.20"/><line x1="633.63" y1="294.74" x2="634.02" y2="292.87" stroke="#222" stroke-width="1.20"/><line x1="637.30" y1="291.91" x2="634.02" y2="292.87" stroke="#222" stroke-width="1.20"/><line x1="637.30" y1="291.91" x2="640.19" y2="292.81" stroke="#222" stroke-width="1.20"/><line x1="637.30" y1="291.91" x2="637.69" y2="290.04" stroke="#222" stroke-width="1.20"/><line x1="640.97" y1="289.08" x2="637.69" y2="290.04" stroke="#222" stroke-width="1.20"/><line x1="640.97" y1="289.08" x2="643.86" y2="289.98" stroke="#222" stroke-width="1.20"/><line x1="640.97" y1="289.08" x2="641.36" y2="287.21" stroke="#222" stroke-width="1.20"/><line x1="644.64" y1="286.25" x2="641.36" y2="287.21" stroke="#222" stroke-width="1.20"/><line x1="644.64" y1="286.25" x2="647.53" y2="287.15" stroke="#222" stroke-width="1.20"/><line x1="644.64" y1="286.25" x2="645.03" y2="284.38" stroke="#222" stroke-width="1.20"/><line x1="648.31" y1="283.42" x2="645.03" y2="284.38" stroke="#222" stroke-width="1.20"/><line x1="648.31" y1="283.42" x2="651.20" y2="284.32" stroke="#222" stroke-width="1.20"/><line x1="648.31" y1="283.42" x2="648.70" y2="281.55" stroke="#222" stroke-width="1.20"/><line x1="651.98" y1="280.59" x2="648.70" y2="281.55" stroke="#222" stroke-width="1.20"/><line x1="651.98" y1="280.59" x2="654.87" y2="281.49" stroke="#222" stroke-width="1.20"/><line x1="639.80" y1="294.68" x2="636.52" y2="295.64" stroke="#222" stroke-width="1.20"/><line x1="639.80" y1="294.68" x2="642.69" y2="295.58" stroke="#222" stroke-width="1.20"/><line x1="639.80" y1="294.68" x2="640.19" y2="292.81" stroke="#222" stroke-width="1.20"/><line x1="643.47" y1="291.85" x2="640.19" y2="292.81" stroke="#222" stroke-width="1.20"/><line x1="643.47" y1="291.85" x2="646.36" y2="292.75" stroke="#222" stroke-width="1.20"/><line x1="643.47" y1="291.85" x2="643.86" y2="289.98" stroke="#222" stroke-width="1.20"/><line x1="647.14" y1="289.02" x2="643.86" y2="289.98" stroke="#222" stroke-width="1.20"/><line x1="647.14" y1="289.02" x2="650.03" y2="289.92" stroke="#222" stroke-width="1.20"/><line x1="647.14" y1="289.02" x2="647.53" y2="287.15" stroke="#222" stroke-width="1.20"/><line x1="650.81" y1="286.19" x2="647.53" y2="287.15" stroke="#222" stroke-width="1.20"/><line x1="650.81" y1="286.19" x2="653.70" y2="287.09" stroke="#222" stroke-width="1.20"/><line x1="650.81" y1="286.19" x2="651.20" y2="284.32" stroke="#222" stroke-width="1.20"/><line x1="654.48" y1="283.36" x2="651.20" y2="284.32" stroke="#222" stroke-width="1.20"/><line x1="654.48" y1="283.36" x2="657.37" y2="284.26" stroke="#222" stroke-width="1.20"/><line x1="654.48" y1="283.36" x2="654.87" y2="281.49" stroke="#222" stroke-width="1.20"/><line x1="658.15" y1="280.53" x2="654.87" y2="281.49" stroke="#222" stroke-width="1.20"/><line x1="658.15" y1="280.53" x2="661.04" y2="281.43" stroke="#222" stroke-width="1.20"/><line x1="645.97" y1="294.62" x2="642.69" y2="295.58" stroke="#222" stroke-width="1.20"/><line x1="645.97" y1="294.62" x2="648.86" y2="295.52" stroke="#222" stroke-width="1.20"/><line x1="645.97" y1="294.62" x2="646.36" y2="292.75" stroke="#222" stroke-width="1.20"/><line x1="649.64" y1="291.79" x2="646.36" y2="292.75" stroke="#222" stroke-width="1.20"/><line x1="649.64" y1="291.79" x2="652.53" y2="292.69" stroke="#222" stroke-width="1.20"/><line x1="649.64" y1="291.79" x2="650.03" y2="289.92" stroke="#222" stroke-width="1.20"/><line x1="653.31" y1="288.96" x2="650.03" y2="289.92" stroke="#222" stroke-width="1.20"/><line x1="653.31" y1="288.96" x2="656.20" y2="289.86" stroke="#222" stroke-width="1.20"/><line x1="653.31" y1="288.96" x2="653.70" y2="287.09" stroke="#222" stroke-width="1.20"/><line x1="656.98" y1="286.13" x2="653.70" y2="287.09" stroke="#222" stroke-width="1.20"/><line x1="656.98" y1="286.13" x2="659.87" y2="287.03" stroke="#222" stroke-width="1.20"/><line x1="656.98" y1="286.13" x2="657.37" y2="284.26" stroke="#222" stroke-width="1.20"/><line x1="660.65" y1="283.30" x2="657.37" y2="284.26" stroke="#222" stroke-width="1.20"/><line x1="660.65" y1="283.30" x2="663.54" y2="284.20" stroke="#222" stroke-width="1.20"/><line x1="660.65" y1="283.30" x2="661.04" y2="281.43" stroke="#222" stroke-width="1.20"/><line x1="664.32" y1="280.47" x2="661.04" y2="281.43" stroke="#222" stroke-width="1.20"/><line x1="664.32" y1="280.47" x2="667.21" y2="281.37" stroke="#222" stroke-width="1.20"/><line x1="652.14" y1="294.56" x2="648.86" y2="295.52" stroke="#222" stroke-width="1.20"/><line x1="652.14" y1="294.56" x2="652.53" y2="292.69" stroke="#222" stroke-width="1.20"/><line x1="655.81" y1="291.73" x2="652.53" y2="292.69" stroke="#222" stroke-width="1.20"/><line x1="655.81" y1="291.73" x2="656.20" y2="289.86" stroke="#222" stroke-width="1.20"/><line x1="659.48" y1="288.90" x2="656.20" y2="289.86" stroke="#222" stroke-width="1.20"/><line x1="659.48" y1="288.90" x2="659.87" y2="287.03" stroke="#222" stroke-width="1.20"/><line x1="663.15" y1="286.07" x2="659.87" y2="287.03" stroke="#222" stroke-width="1.20"/><line x1="663.15" y1="286.07" x2="663.54" y2="284.20" stroke="#222" stroke-width="1.20"/><line x1="666.82" y1="283.24" x2="663.54" y2="284.20" stroke="#222" stroke-width="1.20"/><line x1="666.82" y1="283.24" x2="667.21" y2="281.37" stroke="#222" stroke-width="1.20"/><line x1="670.49" y1="280.41" x2="667.21" y2="281.37" stroke="#222" stroke-width="1.20"/><circle cx="599.50" cy="296.00" r="1.55" fill="#4a4e57" stroke="#222" stroke-width="0.35"/><circle cx="602.78" cy="295.04" r="1.55" fill="#4a4e57" stroke="#222" stroke-width="0.35"/><circle cx="603.17" cy="293.17" r="1.55" fill="#4a4e57" stroke="#222" stroke-width="0.35"/><circle cx="606.45" cy="292.21" r="1.55" fill="#4a4e57" stroke="#222" stroke-width="0.35"/><circle cx="606.84" cy="290.34" r="1.55" fill="#4a4e57" stroke="#222" stroke-width="0.35"/><circle cx="610.12" cy="289.38" r="1.55" fill="#4a4e57" stroke="#222" stroke-width="0.35"/><circle cx="610.51" cy="287.51" r="1.55" fill="#4a4e57" stroke="#222" stroke-width="0.35"/><circle cx="613.79" cy="286.55" r="1.55" fill="#4a4e57" stroke="#222" stroke-width="0.35"/><circle cx="614.18" cy="284.68" r="1.55" fill="#4a4e57" stroke="#222" stroke-width="0.35"/><circle cx="617.46" cy="283.72" r="1.55" fill="#4a4e57" stroke="#222" stroke-width="0.35"/><circle cx="617.85" cy="281.85" r="1.55" fill="#4a4e57" stroke="#222" stroke-width="0.35"/><circle cx="621.13" cy="280.89" r="1.55" fill="#4a4e57" stroke="#222" stroke-width="0.35"/><circle cx="605.67" cy="295.94" r="1.55" fill="#4a4e57" stroke="#222" stroke-width="0.35"/><circle cx="608.95" cy="294.98" r="1.55" fill="#4a4e57" stroke="#222" stroke-width="0.35"/><circle cx="609.34" cy="293.11" r="1.55" fill="#4a4e57" stroke="#222" stroke-width="0.35"/><circle cx="612.62" cy="292.15" r="1.55" fill="#4a4e57" stroke="#222" stroke-width="0.35"/><circle cx="613.01" cy="290.28" r="1.55" fill="#4a4e57" stroke="#222" stroke-width="0.35"/><circle cx="616.29" cy="289.32" r="1.55" fill="#4a4e57" stroke="#222" stroke-width="0.35"/><circle cx="616.68" cy="287.45" r="1.55" fill="#4a4e57" stroke="#222" stroke-width="0.35"/><circle cx="619.96" cy="286.49" r="1.55" fill="#4a4e57" stroke="#222" stroke-width="0.35"/><circle cx="620.35" cy="284.62" r="1.55" fill="#4a4e57" stroke="#222" stroke-width="0.35"/><circle cx="623.63" cy="283.66" r="1.55" fill="#4a4e57" stroke="#222" stroke-width="0.35"/><circle cx="624.02" cy="281.79" r="1.55" fill="#4a4e57" stroke="#222" stroke-width="0.35"/><circle cx="627.30" cy="280.83" r="1.55" fill="#4a4e57" stroke="#222" stroke-width="0.35"/><circle cx="611.84" cy="295.88" r="1.55" fill="#4a4e57" stroke="#222" stroke-width="0.35"/><circle cx="615.12" cy="294.92" r="1.55" fill="#4a4e57" stroke="#222" stroke-width="0.35"/><circle cx="615.51" cy="293.05" r="1.55" fill="#4a4e57" stroke="#222" stroke-width="0.35"/><circle cx="618.79" cy="292.09" r="1.55" fill="#4a4e57" stroke="#222" stroke-width="0.35"/><circle cx="619.18" cy="290.22" r="1.55" fill="#4a4e57" stroke="#222" stroke-width="0.35"/><circle cx="622.46" cy="289.26" r="1.55" fill="#4a4e57" stroke="#222" stroke-width="0.35"/><circle cx="622.85" cy="287.39" r="1.55" fill="#4a4e57" stroke="#222" stroke-width="0.35"/><circle cx="626.13" cy="286.43" r="1.55" fill="#4a4e57" stroke="#222" stroke-width="0.35"/><circle cx="626.52" cy="284.56" r="1.55" fill="#4a4e57" stroke="#222" stroke-width="0.35"/><circle cx="629.80" cy="283.60" r="1.55" fill="#4a4e57" stroke="#222" stroke-width="0.35"/><circle cx="630.19" cy="281.73" r="1.55" fill="#4a4e57" stroke="#222" stroke-width="0.35"/><circle cx="633.47" cy="280.77" r="1.55" fill="#4a4e57" stroke="#222" stroke-width="0.35"/><circle cx="618.01" cy="295.82" r="1.55" fill="#4a4e57" stroke="#222" stroke-width="0.35"/><circle cx="621.29" cy="294.86" r="1.55" fill="#4a4e57" stroke="#222" stroke-width="0.35"/><circle cx="621.68" cy="292.99" r="1.55" fill="#4a4e57" stroke="#222" stroke-width="0.35"/><circle cx="624.96" cy="292.03" r="1.55" fill="#4a4e57" stroke="#222" stroke-width="0.35"/><circle cx="625.35" cy="290.16" r="1.55" fill="#4a4e57" stroke="#222" stroke-width="0.35"/><circle cx="628.63" cy="289.20" r="1.55" fill="#4a4e57" stroke="#222" stroke-width="0.35"/><circle cx="629.02" cy="287.33" r="1.55" fill="#4a4e57" stroke="#222" stroke-width="0.35"/><circle cx="632.30" cy="286.37" r="1.55" fill="#4a4e57" stroke="#222" stroke-width="0.35"/><circle cx="632.69" cy="284.50" r="1.55" fill="#4a4e57" stroke="#222" stroke-width="0.35"/><circle cx="635.97" cy="283.54" r="1.55" fill="#4a4e57" stroke="#222" stroke-width="0.35"/><circle cx="636.36" cy="281.67" r="1.55" fill="#4a4e57" stroke="#222" stroke-width="0.35"/><circle cx="639.64" cy="280.71" r="1.55" fill="#4a4e57" stroke="#222" stroke-width="0.35"/><circle cx="624.18" cy="295.76" r="1.55" fill="#4a4e57" stroke="#222" stroke-width="0.35"/><circle cx="627.46" cy="294.80" r="1.55" fill="#4a4e57" stroke="#222" stroke-width="0.35"/><circle cx="627.85" cy="292.93" r="1.55" fill="#4a4e57" stroke="#222" stroke-width="0.35"/><circle cx="631.13" cy="291.97" r="1.55" fill="#4a4e57" stroke="#222" stroke-width="0.35"/><circle cx="631.52" cy="290.10" r="1.55" fill="#4a4e57" stroke="#222" stroke-width="0.35"/><circle cx="634.80" cy="289.14" r="1.55" fill="#4a4e57" stroke="#222" stroke-width="0.35"/><circle cx="635.19" cy="287.27" r="1.55" fill="#4a4e57" stroke="#222" stroke-width="0.35"/><circle cx="638.47" cy="286.31" r="1.55" fill="#4a4e57" stroke="#222" stroke-width="0.35"/><circle cx="638.86" cy="284.44" r="1.55" fill="#4a4e57" stroke="#222" stroke-width="0.35"/><circle cx="642.14" cy="283.48" r="1.55" fill="#4a4e57" stroke="#222" stroke-width="0.35"/><circle cx="642.53" cy="281.61" r="1.55" fill="#4a4e57" stroke="#222" stroke-width="0.35"/><circle cx="645.81" cy="280.65" r="1.55" fill="#4a4e57" stroke="#222" stroke-width="0.35"/><circle cx="630.35" cy="295.70" r="1.55" fill="#4a4e57" stroke="#222" stroke-width="0.35"/><circle cx="633.63" cy="294.74" r="1.55" fill="#4a4e57" stroke="#222" stroke-width="0.35"/><circle cx="634.02" cy="292.87" r="1.55" fill="#4a4e57" stroke="#222" stroke-width="0.35"/><circle cx="637.30" cy="291.91" r="1.55" fill="#4a4e57" stroke="#222" stroke-width="0.35"/><circle cx="637.69" cy="290.04" r="1.55" fill="#4a4e57" stroke="#222" stroke-width="0.35"/><circle cx="640.97" cy="289.08" r="1.55" fill="#4a4e57" stroke="#222" stroke-width="0.35"/><circle cx="641.36" cy="287.21" r="1.55" fill="#4a4e57" stroke="#222" stroke-width="0.35"/><circle cx="644.64" cy="286.25" r="1.55" fill="#4a4e57" stroke="#222" stroke-width="0.35"/><circle cx="645.03" cy="284.38" r="1.55" fill="#4a4e57" stroke="#222" stroke-width="0.35"/><circle cx="648.31" cy="283.42" r="1.55" fill="#4a4e57" stroke="#222" stroke-width="0.35"/><circle cx="648.70" cy="281.55" r="1.55" fill="#4a4e57" stroke="#222" stroke-width="0.35"/><circle cx="651.98" cy="280.59" r="1.55" fill="#4a4e57" stroke="#222" stroke-width="0.35"/><circle cx="636.52" cy="295.64" r="1.55" fill="#4a4e57" stroke="#222" stroke-width="0.35"/><circle cx="639.80" cy="294.68" r="1.55" fill="#4a4e57" stroke="#222" stroke-width="0.35"/><circle cx="640.19" cy="292.81" r="1.55" fill="#4a4e57" stroke="#222" stroke-width="0.35"/><circle cx="643.47" cy="291.85" r="1.55" fill="#4a4e57" stroke="#222" stroke-width="0.35"/><circle cx="643.86" cy="289.98" r="1.55" fill="#4a4e57" stroke="#222" stroke-width="0.35"/><circle cx="647.14" cy="289.02" r="1.55" fill="#4a4e57" stroke="#222" stroke-width="0.35"/><circle cx="647.53" cy="287.15" r="1.55" fill="#4a4e57" stroke="#222" stroke-width="0.35"/><circle cx="650.81" cy="286.19" r="1.55" fill="#4a4e57" stroke="#222" stroke-width="0.35"/><circle cx="651.20" cy="284.32" r="1.55" fill="#4a4e57" stroke="#222" stroke-width="0.35"/><circle cx="654.48" cy="283.36" r="1.55" fill="#4a4e57" stroke="#222" stroke-width="0.35"/><circle cx="654.87" cy="281.49" r="1.55" fill="#4a4e57" stroke="#222" stroke-width="0.35"/><circle cx="658.15" cy="280.53" r="1.55" fill="#4a4e57" stroke="#222" stroke-width="0.35"/><circle cx="642.69" cy="295.58" r="1.55" fill="#4a4e57" stroke="#222" stroke-width="0.35"/><circle cx="645.97" cy="294.62" r="1.55" fill="#4a4e57" stroke="#222" stroke-width="0.35"/><circle cx="646.36" cy="292.75" r="1.55" fill="#4a4e57" stroke="#222" stroke-width="0.35"/><circle cx="649.64" cy="291.79" r="1.55" fill="#4a4e57" stroke="#222" stroke-width="0.35"/><circle cx="650.03" cy="289.92" r="1.55" fill="#4a4e57" stroke="#222" stroke-width="0.35"/><circle cx="653.31" cy="288.96" r="1.55" fill="#4a4e57" stroke="#222" stroke-width="0.35"/><circle cx="653.70" cy="287.09" r="1.55" fill="#4a4e57" stroke="#222" stroke-width="0.35"/><circle cx="656.98" cy="286.13" r="1.55" fill="#4a4e57" stroke="#222" stroke-width="0.35"/><circle cx="657.37" cy="284.26" r="1.55" fill="#4a4e57" stroke="#222" stroke-width="0.35"/><circle cx="660.65" cy="283.30" r="1.55" fill="#4a4e57" stroke="#222" stroke-width="0.35"/><circle cx="661.04" cy="281.43" r="1.55" fill="#4a4e57" stroke="#222" stroke-width="0.35"/><circle cx="664.32" cy="280.47" r="1.55" fill="#4a4e57" stroke="#222" stroke-width="0.35"/><circle cx="648.86" cy="295.52" r="1.55" fill="#4a4e57" stroke="#222" stroke-width="0.35"/><circle cx="652.14" cy="294.56" r="1.55" fill="#4a4e57" stroke="#222" stroke-width="0.35"/><circle cx="652.53" cy="292.69" r="1.55" fill="#4a4e57" stroke="#222" stroke-width="0.35"/><circle cx="655.81" cy="291.73" r="1.55" fill="#4a4e57" stroke="#222" stroke-width="0.35"/><circle cx="656.20" cy="289.86" r="1.55" fill="#4a4e57" stroke="#222" stroke-width="0.35"/><circle cx="659.48" cy="288.90" r="1.55" fill="#4a4e57" stroke="#222" stroke-width="0.35"/><circle cx="659.87" cy="287.03" r="1.55" fill="#4a4e57" stroke="#222" stroke-width="0.35"/><circle cx="663.15" cy="286.07" r="1.55" fill="#4a4e57" stroke="#222" stroke-width="0.35"/><circle cx="663.54" cy="284.20" r="1.55" fill="#4a4e57" stroke="#222" stroke-width="0.35"/><circle cx="666.82" cy="283.24" r="1.55" fill="#4a4e57" stroke="#222" stroke-width="0.35"/><circle cx="667.21" cy="281.37" r="1.55" fill="#4a4e57" stroke="#222" stroke-width="0.35"/><circle cx="670.49" cy="280.41" r="1.55" fill="#4a4e57" stroke="#222" stroke-width="0.35"/><circle cx="625.40" cy="275.00" r="1.20" fill="#f26d5b" stroke="#222" stroke-width="0.40"/><circle cx="642.00" cy="274.40" r="1.20" fill="#f26d5b" stroke="#222" stroke-width="0.40"/><circle cx="658.40" cy="273.60" r="1.20" fill="#f26d5b" stroke="#222" stroke-width="0.40"/><circle cx="675.30" cy="272.90" r="1.20" fill="#f26d5b" stroke="#222" stroke-width="0.40"/><circle cx="615.70" cy="280.00" r="1.20" fill="#f26d5b" stroke="#222" stroke-width="0.40"/><circle cx="606.60" cy="285.50" r="1.20" fill="#f26d5b" stroke="#222" stroke-width="0.40"/><circle cx="597.20" cy="290.70" r="1.20" fill="#f26d5b" stroke="#222" stroke-width="0.40"/><circle cx="632.30" cy="279.60" r="1.20" fill="#f26d5b" stroke="#222" stroke-width="0.40"/><circle cx="649.40" cy="278.90" r="1.20" fill="#f26d5b" stroke="#222" stroke-width="0.40"/><circle cx="666.00" cy="278.50" r="1.20" fill="#f26d5b" stroke="#222" stroke-width="0.40"/><circle cx="623.30" cy="284.80" r="1.20" fill="#f26d5b" stroke="#222" stroke-width="0.40"/><circle cx="640.00" cy="284.10" r="1.20" fill="#f26d5b" stroke="#222" stroke-width="0.40"/><circle cx="656.90" cy="283.40" r="1.20" fill="#f26d5b" stroke="#222" stroke-width="0.40"/><circle cx="614.30" cy="290.00" r="1.20" fill="#f26d5b" stroke="#222" stroke-width="0.40"/><circle cx="630.60" cy="289.30" r="1.20" fill="#f26d5b" stroke="#222" stroke-width="0.40"/><circle cx="647.30" cy="288.60" r="1.20" fill="#f26d5b" stroke="#222" stroke-width="0.40"/><circle cx="673.60" cy="292.70" r="1.20" fill="#f26d5b" stroke="#222" stroke-width="0.40"/>
<line x1="34.05" y1="148.50" x2="34.05" y2="75.40" stroke="#2ec838" stroke-width="2.50"/><path d="M34.05,69.90 L37.20,75.90 L34.05,74.70 L30.90,75.90 Z" fill="#2ec838"/>
<text x="39.10" y="92.30" font-size="11.00" fill="#2ec838" text-anchor="start" font-weight="bold" textLength="34.20" lengthAdjust="spacingAndGlyphs">Li(π+σ)</text>
<line x1="321.60" y1="148.50" x2="321.60" y2="75.40" stroke="#2ec838" stroke-width="2.50"/><path d="M321.60,69.90 L324.75,75.90 L321.60,74.70 L318.45,75.90 Z" fill="#2ec838"/>
<text x="278.00" y="92.80" font-size="11.00" fill="#2ec838" text-anchor="start" font-weight="bold" textLength="33.80" lengthAdjust="spacingAndGlyphs">Li(π+σ)</text>
<line x1="388.50" y1="149.50" x2="388.50" y2="63.00" stroke="#2ec838" stroke-width="2.50"/><path d="M388.50,57.50 L391.65,63.50 L388.50,62.30 L385.35,63.50 Z" fill="#2ec838"/>
<text x="394.20" y="68.30" font-size="11.00" fill="#2ec838" text-anchor="start" font-weight="bold" textLength="34.00" lengthAdjust="spacingAndGlyphs">Li(π+σ)</text>
<line x1="677.60" y1="149.50" x2="677.60" y2="63.30" stroke="#2ec838" stroke-width="2.50"/><path d="M677.60,57.80 L680.75,63.80 L677.60,62.60 L674.45,63.80 Z" fill="#2ec838"/>
<text x="641.00" y="68.00" font-size="11.00" fill="#2ec838" text-anchor="start" font-weight="bold" textLength="33.50" lengthAdjust="spacingAndGlyphs">Li(π+σ)</text>
<line x1="85.50" y1="378.30" x2="85.50" y2="361.80" stroke="#1aa6e4" stroke-width="2.30"/><path d="M85.50,356.80 L88.30,362.30 L85.50,361.10 L82.70,362.30 Z" fill="#1aa6e4"/>
<text x="81.00" y="345.80" font-size="11.00" fill="#1aa6e4" text-anchor="start" font-weight="normal" textLength="9.40" lengthAdjust="spacingAndGlyphs">IP</text>
<line x1="263.00" y1="378.60" x2="263.00" y2="375.10" stroke="#1aa6e4" stroke-width="2.30"/><path d="M263.00,371.00 L266.00,375.60 L263.00,374.40 L260.00,375.60 Z" fill="#1aa6e4"/>
<text x="259.40" y="363.40" font-size="11.00" fill="#1aa6e4" text-anchor="start" font-weight="normal" textLength="9.40" lengthAdjust="spacingAndGlyphs">IP</text>
<line x1="435.60" y1="378.70" x2="435.60" y2="363.40" stroke="#1aa6e4" stroke-width="2.30"/><path d="M435.60,358.90 L438.50,363.90 L435.60,362.70 L432.70,363.90 Z" fill="#1aa6e4"/>
<text x="431.40" y="351.10" font-size="11.00" fill="#1aa6e4" text-anchor="start" font-weight="normal" textLength="9.40" lengthAdjust="spacingAndGlyphs">IP</text>
<line x1="627.80" y1="379.00" x2="627.80" y2="371.90" stroke="#1aa6e4" stroke-width="2.30"/><path d="M627.80,367.40 L630.80,372.40 L627.80,371.20 L624.80,372.40 Z" fill="#1aa6e4"/>
<text x="621.60" y="357.50" font-size="11.00" fill="#1aa6e4" text-anchor="start" font-weight="normal" textLength="9.40" lengthAdjust="spacingAndGlyphs">IP</text>
</svg>
</body></html>
